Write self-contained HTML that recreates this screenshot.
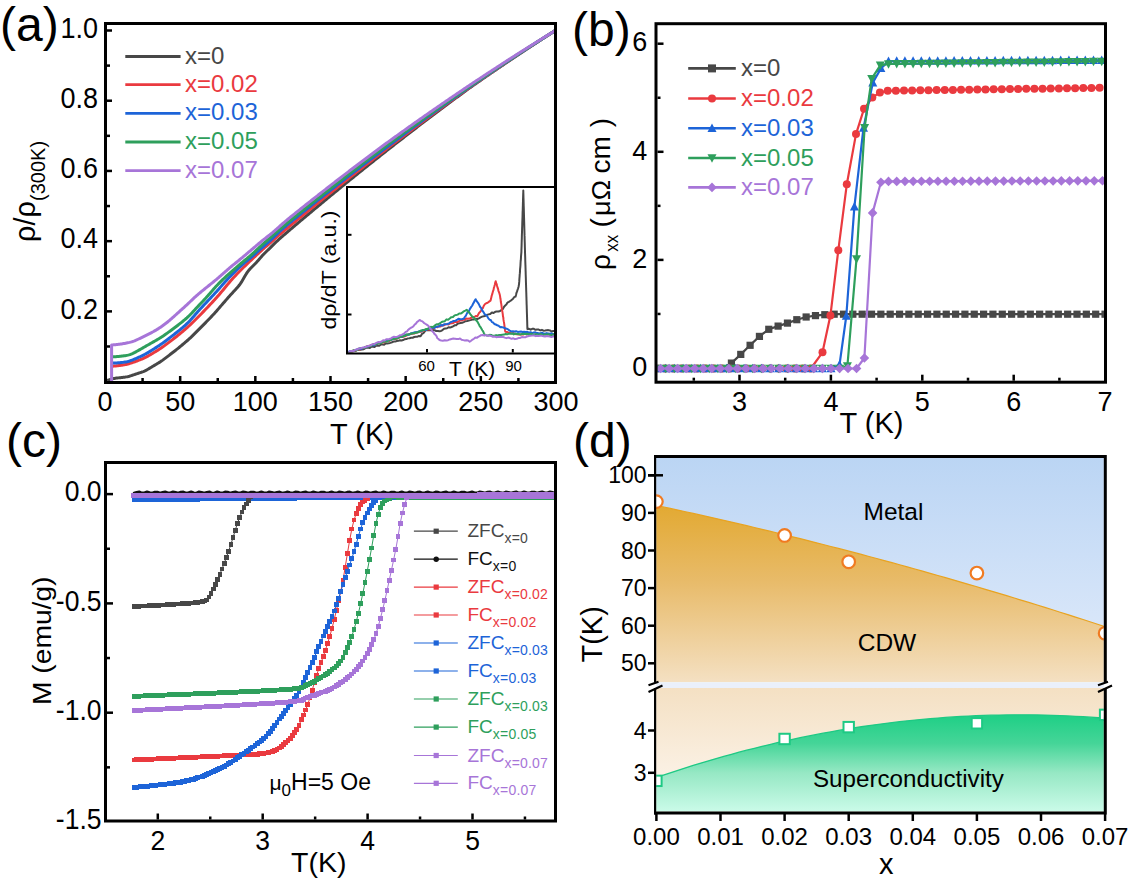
<!DOCTYPE html>
<html><head><meta charset="utf-8"><style>
html,body{margin:0;padding:0;background:#fff;}
svg{display:block;font-family:"Liberation Sans", sans-serif;}
</style></head><body>
<svg width="1138" height="882" viewBox="0 0 1138 882">
<rect width="1138" height="882" fill="#fff"/>
<defs><clipPath id="clipA"><rect x="107" y="25" width="447" height="356"/></clipPath></defs><g clip-path="url(#clipA)"><polyline points="108.4,379.91 109.4,379.69 110.4,379.41 111.4,379.12 112.4,378.84 113.4,378.59 114.4,378.4 115.4,378.24 116.4,378.11 117.4,377.99 118.4,377.87 119.4,377.75 120.4,377.64 121.4,377.52 122.4,377.41 123.4,377.29 124.4,377.17 125.4,377.04 126.4,376.88 127.4,376.69 128.4,376.46 129.4,376.19 130.4,375.89 131.4,375.58 132.4,375.25 133.4,374.92 134.4,374.59 135.4,374.26 136.4,373.93 137.4,373.6 138.4,373.28 139.4,372.95 140.4,372.61 141.4,372.28 142.4,371.92 143.4,371.54 144.4,371.12 145.4,370.65 146.4,370.12 147.4,369.56 148.4,368.97 149.4,368.38 150.4,367.78 151.4,367.18 152.4,366.58 153.4,365.98 154.4,365.38 155.4,364.78 156.4,364.18 157.4,363.58 158.4,362.97 159.4,362.36 160.4,361.73 161.4,361.07 162.4,360.38 163.4,359.65 164.4,358.91 165.4,358.14 166.4,357.38 167.4,356.61 168.4,355.84 169.4,355.07 170.4,354.3 171.4,353.53 172.4,352.75 173.4,351.98 174.4,351.21 175.4,350.44 176.4,349.66 177.4,348.88 178.4,348.08 179.4,347.27 180.4,346.44 181.4,345.6 182.4,344.75 183.4,343.91 184.4,343.06 185.4,342.21 186.4,341.35 187.4,340.49 188.4,339.62 189.4,338.73 190.4,337.81 191.4,336.86 192.4,335.88 193.4,334.89 194.4,333.9 195.4,332.9 196.4,331.9 197.4,330.9 198.4,329.9 199.4,328.9 200.4,327.9 201.4,326.9 202.4,325.9 203.4,324.89 204.4,323.87 205.4,322.85 206.4,321.82 207.4,320.79 208.4,319.75 209.4,318.71 210.4,317.66 211.4,316.62 212.4,315.56 213.4,314.49 214.4,313.4 215.4,312.29 216.4,311.15 217.4,310.01 218.4,308.86 219.4,307.7 220.4,306.55 221.4,305.39 222.4,304.23 223.4,303.08 224.4,301.92 225.4,300.77 226.4,299.61 227.4,298.47 228.4,297.33 229.4,296.21 230.4,295.1 231.4,294 232.4,292.9 233.4,291.81 234.4,290.73 235.4,289.64 236.4,288.54 237.4,287.43 238.4,286.27 239.4,285.03 240.4,283.66 241.4,282.16 242.4,280.52 243.4,278.8 244.4,277.05 245.4,275.31 246.4,273.66 247.4,272.15 248.4,270.81 249.4,269.63 250.4,268.54 251.4,267.51 252.4,266.5 253.4,265.5 254.4,264.49 255.4,263.47 256.4,262.42 257.4,261.33 258.4,260.21 259.4,259.05 260.4,257.87 261.4,256.71 262.4,255.57 263.4,254.49 264.4,253.45 265.4,252.46 266.4,251.49 267.4,250.53 268.4,249.58 269.4,248.64 270.4,247.65 271.4,246.61 272.4,245.6 273.4,244.59 274.4,243.61 275.4,242.65 276.4,241.71 277.4,240.78 278.4,239.86 279.4,238.96 280.4,238.06 281.4,237.18 282.4,236.31 283.4,235.45 284.4,234.6 285.4,233.76 286.4,232.9 287.4,232.03 288.4,231.17 289.4,230.3 290.4,229.45 291.4,228.6 292.4,227.75 293.4,226.9 294.4,226.05 295.4,225.2 296.4,224.35 297.4,223.51 298.4,222.66 299.4,221.82 300.4,220.97 301.4,220.13 302.4,219.29 303.4,218.44 304.4,217.6 305.4,216.76 306.4,215.92 307.4,215.08 308.4,214.24 309.4,213.41 310.4,212.57 311.4,211.73 312.4,210.89 313.4,210.06 314.4,209.22 315.4,208.39 316.4,207.56 317.4,206.73 318.4,205.89 319.4,205.06 320.4,204.23 321.4,203.4 322.4,202.57 323.4,201.74 324.4,200.92 325.4,200.09 326.4,199.26 327.4,198.44 328.4,197.61 329.4,196.79 330.4,195.96 331.4,195.14 332.4,194.32 333.4,193.5 334.4,192.68 335.4,191.86 336.4,191.04 337.4,190.22 338.4,189.4 339.4,188.58 340.4,187.77 341.4,186.95 342.4,186.13 343.4,185.32 344.4,184.51 345.4,183.69 346.4,182.88 347.4,182.07 348.4,181.26 349.4,180.45 350.4,179.64 351.4,178.83 352.4,178.02 353.4,177.21 354.4,176.4 355.4,175.6 356.4,174.79 357.4,173.99 358.4,173.18 359.4,172.38 360.4,171.57 361.4,170.77 362.4,169.97 363.4,169.17 364.4,168.37 365.4,167.57 366.4,166.77 367.4,165.97 368.4,165.18 369.4,164.38 370.4,163.58 371.4,162.79 372.4,161.99 373.4,161.2 374.4,160.4 375.4,159.61 376.4,158.82 377.4,158.03 378.4,157.24 379.4,156.45 380.4,155.66 381.4,154.87 382.4,154.08 383.4,153.3 384.4,152.51 385.4,151.72 386.4,150.94 387.4,150.15 388.4,149.37 389.4,148.58 390.4,147.8 391.4,147.02 392.4,146.24 393.4,145.46 394.4,144.68 395.4,143.9 396.4,143.12 397.4,142.34 398.4,141.57 399.4,140.79 400.4,140.01 401.4,139.24 402.4,138.46 403.4,137.69 404.4,136.92 405.4,136.14 406.4,135.37 407.4,134.6 408.4,133.83 409.4,133.06 410.4,132.29 411.4,131.52 412.4,130.76 413.4,129.99 414.4,129.22 415.4,128.46 416.4,127.69 417.4,126.93 418.4,126.17 419.4,125.4 420.4,124.64 421.4,123.88 422.4,123.12 423.4,122.36 424.4,121.6 425.4,120.84 426.4,120.08 427.4,119.33 428.4,118.57 429.4,117.81 430.4,117.06 431.4,116.3 432.4,115.55 433.4,114.8 434.4,114.04 435.4,113.29 436.4,112.54 437.4,111.79 438.4,111.04 439.4,110.29 440.4,109.54 441.4,108.8 442.4,108.05 443.4,107.3 444.4,106.56 445.4,105.81 446.4,105.07 447.4,104.33 448.4,103.58 449.4,102.84 450.4,102.1 451.4,101.36 452.4,100.62 453.4,99.88 454.4,99.14 455.4,98.4 456.4,97.66 457.4,96.93 458.4,96.19 459.4,95.46 460.4,94.72 461.4,93.99 462.4,93.26 463.4,92.52 464.4,91.79 465.4,91.06 466.4,90.33 467.4,89.6 468.4,88.87 469.4,88.14 470.4,87.43 471.4,86.73 472.4,86.03 473.4,85.33 474.4,84.63 475.4,83.94 476.4,83.24 477.4,82.55 478.4,81.85 479.4,81.16 480.4,80.47 481.4,79.78 482.4,79.08 483.4,78.39 484.4,77.7 485.4,77.01 486.4,76.33 487.4,75.64 488.4,74.95 489.4,74.26 490.4,73.58 491.4,72.89 492.4,72.21 493.4,71.53 494.4,70.84 495.4,70.16 496.4,69.48 497.4,68.8 498.4,68.12 499.4,67.44 500.4,66.76 501.4,66.08 502.4,65.4 503.4,64.73 504.4,64.05 505.4,63.37 506.4,62.7 507.4,62.02 508.4,61.35 509.4,60.68 510.4,60.01 511.4,59.33 512.4,58.66 513.4,57.99 514.4,57.32 515.4,56.66 516.4,55.99 517.4,55.32 518.4,54.65 519.4,53.99 520.4,53.32 521.4,52.66 522.4,52 523.4,51.33 524.4,50.67 525.4,50.01 526.4,49.35 527.4,48.69 528.4,48.03 529.4,47.37 530.4,46.71 531.4,46.05 532.4,45.39 533.4,44.74 534.4,44.08 535.4,43.43 536.4,42.77 537.4,42.12 538.4,41.47 539.4,40.82 540.4,40.16 541.4,39.51 542.4,38.86 543.4,38.21 544.4,37.56 545.4,36.92 546.4,36.27 547.4,35.62 548.4,34.98 549.4,34.33 550.4,33.69 551.4,33.04 552.4,32.4 553.4,31.76 554.4,31.12 555.4,30.73" fill="none" stroke="#474747" stroke-width="3" stroke-linejoin="round" stroke-linecap="round" /><polyline points="112.9,366.19 113.9,366.11 114.9,366.02 115.9,365.93 116.9,365.82 117.9,365.7 118.9,365.57 119.9,365.44 120.9,365.3 121.9,365.15 122.9,365 123.9,364.83 124.9,364.65 125.9,364.44 126.9,364.22 127.9,363.98 128.9,363.71 129.9,363.41 130.9,363.1 131.9,362.77 132.9,362.43 133.9,362.08 134.9,361.72 135.9,361.35 136.9,360.98 137.9,360.6 138.9,360.22 139.9,359.83 140.9,359.43 141.9,359.01 142.9,358.57 143.9,358.12 144.9,357.64 145.9,357.14 146.9,356.61 147.9,356.07 148.9,355.51 149.9,354.94 150.9,354.36 151.9,353.77 152.9,353.17 153.9,352.57 154.9,351.97 155.9,351.36 156.9,350.74 157.9,350.12 158.9,349.49 159.9,348.84 160.9,348.18 161.9,347.5 162.9,346.81 163.9,346.1 164.9,345.38 165.9,344.64 166.9,343.89 167.9,343.14 168.9,342.39 169.9,341.62 170.9,340.86 171.9,340.09 172.9,339.32 173.9,338.55 174.9,337.77 175.9,336.99 176.9,336.2 177.9,335.4 178.9,334.59 179.9,333.77 180.9,332.94 181.9,332.11 182.9,331.26 183.9,330.41 184.9,329.54 185.9,328.67 186.9,327.79 187.9,326.9 188.9,325.99 189.9,325.07 190.9,324.13 191.9,323.18 192.9,322.22 193.9,321.25 194.9,320.26 195.9,319.27 196.9,318.27 197.9,317.27 198.9,316.25 199.9,315.23 200.9,314.21 201.9,313.18 202.9,312.15 203.9,311.11 204.9,310.06 205.9,309.02 206.9,307.97 207.9,306.92 208.9,305.86 209.9,304.81 210.9,303.75 211.9,302.68 212.9,301.62 213.9,300.54 214.9,299.45 215.9,298.34 216.9,297.23 217.9,296.09 218.9,294.93 219.9,293.76 220.9,292.58 221.9,291.38 222.9,290.17 223.9,288.95 224.9,287.74 225.9,286.52 226.9,285.3 227.9,284.1 228.9,282.91 229.9,281.73 230.9,280.57 231.9,279.43 232.9,278.31 233.9,277.22 234.9,276.15 235.9,275.1 236.9,274.06 237.9,273.04 238.9,272.02 239.9,271.02 240.9,270.02 241.9,269.02 242.9,268.03 243.9,267.05 244.9,266.07 245.9,265.1 246.9,264.13 247.9,263.18 248.9,262.22 249.9,261.27 250.9,260.33 251.9,259.39 252.9,258.45 253.9,257.51 254.9,256.58 255.9,255.65 256.9,254.71 257.9,253.79 258.9,252.86 259.9,251.95 260.9,251.03 261.9,250.13 262.9,249.24 263.9,248.35 264.9,247.48 265.9,246.61 266.9,245.75 267.9,244.89 268.9,244.04 269.9,243.19 270.9,242.3 271.9,241.4 272.9,240.51 273.9,239.62 274.9,238.73 275.9,237.85 276.9,236.98 277.9,236.11 278.9,235.24 279.9,234.38 280.9,233.52 281.9,232.67 282.9,231.83 283.9,230.99 284.9,230.16 285.9,229.34 286.9,228.49 287.9,227.65 288.9,226.81 289.9,225.96 290.9,225.13 291.9,224.3 292.9,223.47 293.9,222.65 294.9,221.82 295.9,220.99 296.9,220.17 297.9,219.34 298.9,218.52 299.9,217.7 300.9,216.87 301.9,216.05 302.9,215.23 303.9,214.41 304.9,213.59 305.9,212.77 306.9,211.95 307.9,211.13 308.9,210.32 309.9,209.5 310.9,208.68 311.9,207.87 312.9,207.05 313.9,206.24 314.9,205.43 315.9,204.61 316.9,203.8 317.9,202.99 318.9,202.18 319.9,201.37 320.9,200.56 321.9,199.75 322.9,198.95 323.9,198.14 324.9,197.33 325.9,196.53 326.9,195.72 327.9,194.92 328.9,194.12 329.9,193.31 330.9,192.51 331.9,191.71 332.9,190.91 333.9,190.11 334.9,189.31 335.9,188.51 336.9,187.71 337.9,186.91 338.9,186.12 339.9,185.32 340.9,184.53 341.9,183.73 342.9,182.94 343.9,182.15 344.9,181.35 345.9,180.56 346.9,179.77 347.9,178.98 348.9,178.19 349.9,177.4 350.9,176.61 351.9,175.82 352.9,175.04 353.9,174.25 354.9,173.47 355.9,172.68 356.9,171.9 357.9,171.11 358.9,170.33 359.9,169.55 360.9,168.77 361.9,167.99 362.9,167.21 363.9,166.43 364.9,165.65 365.9,164.87 366.9,164.09 367.9,163.32 368.9,162.54 369.9,161.76 370.9,160.99 371.9,160.22 372.9,159.44 373.9,158.67 374.9,157.9 375.9,157.13 376.9,156.36 377.9,155.59 378.9,154.82 379.9,154.05 380.9,153.28 381.9,152.51 382.9,151.75 383.9,150.98 384.9,150.22 385.9,149.45 386.9,148.68 387.9,147.91 388.9,147.14 389.9,146.38 390.9,145.61 391.9,144.85 392.9,144.08 393.9,143.32 394.9,142.55 395.9,141.79 396.9,141.03 397.9,140.27 398.9,139.51 399.9,138.75 400.9,137.99 401.9,137.23 402.9,136.47 403.9,135.72 404.9,134.96 405.9,134.2 406.9,133.45 407.9,132.7 408.9,131.94 409.9,131.19 410.9,130.44 411.9,129.69 412.9,128.93 413.9,128.18 414.9,127.44 415.9,126.69 416.9,125.94 417.9,125.19 418.9,124.44 419.9,123.7 420.9,122.95 421.9,122.21 422.9,121.46 423.9,120.72 424.9,119.98 425.9,119.24 426.9,118.5 427.9,117.76 428.9,117.02 429.9,116.28 430.9,115.54 431.9,114.8 432.9,114.06 433.9,113.33 434.9,112.59 435.9,111.86 436.9,111.12 437.9,110.39 438.9,109.66 439.9,108.92 440.9,108.19 441.9,107.46 442.9,106.73 443.9,106 444.9,105.27 445.9,104.54 446.9,103.82 447.9,103.09 448.9,102.36 449.9,101.64 450.9,100.91 451.9,100.19 452.9,99.47 453.9,98.74 454.9,98.02 455.9,97.3 456.9,96.58 457.9,95.86 458.9,95.14 459.9,94.42 460.9,93.71 461.9,92.99 462.9,92.27 463.9,91.56 464.9,90.84 465.9,90.13 466.9,89.41 467.9,88.7 468.9,87.99 469.9,87.28 470.9,86.58 471.9,85.89 472.9,85.2 473.9,84.51 474.9,83.81 475.9,83.12 476.9,82.44 477.9,81.75 478.9,81.06 479.9,80.37 480.9,79.69 481.9,79 482.9,78.31 483.9,77.63 484.9,76.95 485.9,76.26 486.9,75.58 487.9,74.9 488.9,74.22 489.9,73.54 490.9,72.86 491.9,72.18 492.9,71.5 493.9,70.82 494.9,70.15 495.9,69.47 496.9,68.8 497.9,68.12 498.9,67.45 499.9,66.77 500.9,66.1 501.9,65.43 502.9,64.76 503.9,64.09 504.9,63.42 505.9,62.75 506.9,62.08 507.9,61.41 508.9,60.74 509.9,60.08 510.9,59.41 511.9,58.75 512.9,58.08 513.9,57.42 514.9,56.75 515.9,56.09 516.9,55.43 517.9,54.77 518.9,54.11 519.9,53.45 520.9,52.79 521.9,52.13 522.9,51.47 523.9,50.82 524.9,50.16 525.9,49.51 526.9,48.85 527.9,48.2 528.9,47.54 529.9,46.89 530.9,46.24 531.9,45.59 532.9,44.94 533.9,44.29 534.9,43.64 535.9,42.99 536.9,42.34 537.9,41.69 538.9,41.05 539.9,40.4 540.9,39.76 541.9,39.11 542.9,38.47 543.9,37.82 544.9,37.18 545.9,36.54 546.9,35.9 547.9,35.26 548.9,34.62 549.9,33.98 550.9,33.34 551.9,32.7 552.9,32.07 553.9,31.43 554.9,30.79" fill="none" stroke="#ea3a3f" stroke-width="3" stroke-linejoin="round" stroke-linecap="round" /><polyline points="112.9,363.08 113.9,363.04 114.9,362.99 115.9,362.94 116.9,362.88 117.9,362.81 118.9,362.74 119.9,362.66 120.9,362.58 121.9,362.49 122.9,362.38 123.9,362.25 124.9,362.1 125.9,361.93 126.9,361.72 127.9,361.48 128.9,361.2 129.9,360.88 130.9,360.54 131.9,360.17 132.9,359.77 133.9,359.37 134.9,358.95 135.9,358.52 136.9,358.08 137.9,357.65 138.9,357.2 139.9,356.75 140.9,356.28 141.9,355.81 142.9,355.32 143.9,354.81 144.9,354.29 145.9,353.74 146.9,353.18 147.9,352.59 148.9,352 149.9,351.39 150.9,350.78 151.9,350.16 152.9,349.53 153.9,348.9 154.9,348.27 155.9,347.63 156.9,346.99 157.9,346.34 158.9,345.68 159.9,345.01 160.9,344.33 161.9,343.64 162.9,342.93 163.9,342.2 164.9,341.47 165.9,340.72 166.9,339.97 167.9,339.21 168.9,338.44 169.9,337.68 170.9,336.91 171.9,336.13 172.9,335.36 173.9,334.58 174.9,333.8 175.9,333.01 176.9,332.22 177.9,331.42 178.9,330.61 179.9,329.79 180.9,328.97 181.9,328.13 182.9,327.28 183.9,326.42 184.9,325.53 185.9,324.63 186.9,323.69 187.9,322.72 188.9,321.71 189.9,320.66 190.9,319.57 191.9,318.45 192.9,317.31 193.9,316.15 194.9,314.99 195.9,313.83 196.9,312.69 197.9,311.56 198.9,310.45 199.9,309.36 200.9,308.27 201.9,307.19 202.9,306.12 203.9,305.06 204.9,304 205.9,302.94 206.9,301.88 207.9,300.82 208.9,299.77 209.9,298.71 210.9,297.65 211.9,296.59 212.9,295.52 213.9,294.45 214.9,293.36 215.9,292.27 216.9,291.16 217.9,290.04 218.9,288.91 219.9,287.77 220.9,286.62 221.9,285.48 222.9,284.33 223.9,283.2 224.9,282.07 225.9,280.97 226.9,279.87 227.9,278.8 228.9,277.74 229.9,276.7 230.9,275.66 231.9,274.64 232.9,273.62 233.9,272.61 234.9,271.61 235.9,270.62 236.9,269.64 237.9,268.67 238.9,267.73 239.9,266.8 240.9,265.9 241.9,265.01 242.9,264.15 243.9,263.3 244.9,262.46 245.9,261.64 246.9,260.82 247.9,259.99 248.9,259.17 249.9,258.34 250.9,257.5 251.9,256.65 252.9,255.78 253.9,254.91 254.9,254.03 255.9,253.14 256.9,252.25 257.9,251.35 258.9,250.45 259.9,249.56 260.9,248.66 261.9,247.78 262.9,246.9 263.9,246.02 264.9,245.16 265.9,244.29 266.9,243.43 267.9,242.58 268.9,241.72 269.9,240.86 270.9,239.91 271.9,238.94 272.9,237.97 273.9,237 274.9,236.03 275.9,235.06 276.9,234.1 277.9,233.14 278.9,232.2 279.9,231.27 280.9,230.35 281.9,229.45 282.9,228.57 283.9,227.7 284.9,226.85 285.9,226.01 286.9,225.17 287.9,224.33 288.9,223.48 289.9,222.64 290.9,221.82 291.9,221.01 292.9,220.2 293.9,219.39 294.9,218.58 295.9,217.77 296.9,216.96 297.9,216.15 298.9,215.35 299.9,214.54 300.9,213.73 301.9,212.93 302.9,212.12 303.9,211.32 304.9,210.52 305.9,209.72 306.9,208.91 307.9,208.11 308.9,207.31 309.9,206.51 310.9,205.72 311.9,204.92 312.9,204.12 313.9,203.32 314.9,202.53 315.9,201.73 316.9,200.94 317.9,200.14 318.9,199.35 319.9,198.56 320.9,197.77 321.9,196.98 322.9,196.18 323.9,195.39 324.9,194.61 325.9,193.82 326.9,193.03 327.9,192.24 328.9,191.46 329.9,190.67 330.9,189.89 331.9,189.1 332.9,188.32 333.9,187.53 334.9,186.75 335.9,185.97 336.9,185.19 337.9,184.41 338.9,183.63 339.9,182.85 340.9,182.07 341.9,181.3 342.9,180.52 343.9,179.74 344.9,178.97 345.9,178.19 346.9,177.42 347.9,176.65 348.9,175.87 349.9,175.1 350.9,174.33 351.9,173.56 352.9,172.79 353.9,172.02 354.9,171.25 355.9,170.49 356.9,169.72 357.9,168.95 358.9,168.19 359.9,167.42 360.9,166.66 361.9,165.89 362.9,165.13 363.9,164.37 364.9,163.61 365.9,162.85 366.9,162.09 367.9,161.33 368.9,160.57 369.9,159.81 370.9,159.05 371.9,158.29 372.9,157.54 373.9,156.78 374.9,156.03 375.9,155.27 376.9,154.52 377.9,153.77 378.9,153.02 379.9,152.27 380.9,151.51 381.9,150.76 382.9,150.02 383.9,149.27 384.9,148.52 385.9,147.76 386.9,147.01 387.9,146.25 388.9,145.5 389.9,144.75 390.9,144 391.9,143.25 392.9,142.5 393.9,141.75 394.9,141 395.9,140.25 396.9,139.5 397.9,138.75 398.9,138.01 399.9,137.26 400.9,136.52 401.9,135.77 402.9,135.03 403.9,134.29 404.9,133.54 405.9,132.8 406.9,132.06 407.9,131.32 408.9,130.58 409.9,129.84 410.9,129.1 411.9,128.37 412.9,127.63 413.9,126.89 414.9,126.16 415.9,125.42 416.9,124.69 417.9,123.96 418.9,123.22 419.9,122.49 420.9,121.76 421.9,121.03 422.9,120.3 423.9,119.57 424.9,118.84 425.9,118.12 426.9,117.39 427.9,116.66 428.9,115.94 429.9,115.21 430.9,114.49 431.9,113.76 432.9,113.04 433.9,112.32 434.9,111.6 435.9,110.88 436.9,110.16 437.9,109.44 438.9,108.72 439.9,108 440.9,107.28 441.9,106.57 442.9,105.85 443.9,105.13 444.9,104.42 445.9,103.71 446.9,102.99 447.9,102.28 448.9,101.57 449.9,100.86 450.9,100.15 451.9,99.44 452.9,98.73 453.9,98.02 454.9,97.31 455.9,96.6 456.9,95.9 457.9,95.19 458.9,94.49 459.9,93.78 460.9,93.08 461.9,92.37 462.9,91.67 463.9,90.97 464.9,90.27 465.9,89.57 466.9,88.87 467.9,88.17 468.9,87.47 469.9,86.78 470.9,86.09 471.9,85.4 472.9,84.71 473.9,84.03 474.9,83.34 475.9,82.66 476.9,81.98 477.9,81.29 478.9,80.61 479.9,79.93 480.9,79.25 481.9,78.57 482.9,77.89 483.9,77.21 484.9,76.53 485.9,75.86 486.9,75.18 487.9,74.5 488.9,73.83 489.9,73.16 490.9,72.48 491.9,71.81 492.9,71.14 493.9,70.46 494.9,69.79 495.9,69.12 496.9,68.45 497.9,67.78 498.9,67.12 499.9,66.45 500.9,65.78 501.9,65.12 502.9,64.45 503.9,63.79 504.9,63.12 505.9,62.46 506.9,61.8 507.9,61.13 508.9,60.47 509.9,59.81 510.9,59.15 511.9,58.49 512.9,57.83 513.9,57.18 514.9,56.52 515.9,55.86 516.9,55.21 517.9,54.55 518.9,53.9 519.9,53.24 520.9,52.59 521.9,51.94 522.9,51.29 523.9,50.63 524.9,49.98 525.9,49.33 526.9,48.69 527.9,48.04 528.9,47.39 529.9,46.74 530.9,46.1 531.9,45.45 532.9,44.81 533.9,44.16 534.9,43.52 535.9,42.88 536.9,42.23 537.9,41.59 538.9,40.95 539.9,40.31 540.9,39.67 541.9,39.03 542.9,38.4 543.9,37.76 544.9,37.12 545.9,36.49 546.9,35.85 547.9,35.22 548.9,34.58 549.9,33.95 550.9,33.32 551.9,32.69 552.9,32.05 553.9,31.42 554.9,30.79" fill="none" stroke="#1d64d8" stroke-width="3" stroke-linejoin="round" stroke-linecap="round" /><polyline points="112.9,356.84 113.9,356.79 114.9,356.72 115.9,356.65 116.9,356.57 117.9,356.48 118.9,356.39 119.9,356.3 120.9,356.2 121.9,356.09 122.9,355.98 123.9,355.86 124.9,355.72 125.9,355.56 126.9,355.37 127.9,355.15 128.9,354.89 129.9,354.58 130.9,354.22 131.9,353.81 132.9,353.37 133.9,352.88 134.9,352.37 135.9,351.83 136.9,351.28 137.9,350.72 138.9,350.15 139.9,349.58 140.9,349 141.9,348.43 142.9,347.85 143.9,347.28 144.9,346.71 145.9,346.14 146.9,345.57 147.9,345 148.9,344.43 149.9,343.87 150.9,343.3 151.9,342.73 152.9,342.17 153.9,341.6 154.9,341.03 155.9,340.45 156.9,339.87 157.9,339.28 158.9,338.69 159.9,338.07 160.9,337.44 161.9,336.8 162.9,336.14 163.9,335.46 164.9,334.77 165.9,334.06 166.9,333.35 167.9,332.62 168.9,331.9 169.9,331.17 170.9,330.43 171.9,329.69 172.9,328.96 173.9,328.21 174.9,327.47 175.9,326.72 176.9,325.96 177.9,325.2 178.9,324.43 179.9,323.66 180.9,322.87 181.9,322.08 182.9,321.27 183.9,320.45 184.9,319.62 185.9,318.76 186.9,317.88 187.9,316.96 188.9,316.01 189.9,315.03 190.9,314.01 191.9,312.96 192.9,311.88 193.9,310.8 194.9,309.7 195.9,308.61 196.9,307.53 197.9,306.46 198.9,305.4 199.9,304.34 200.9,303.3 201.9,302.25 202.9,301.19 203.9,300.13 204.9,299.05 205.9,297.96 206.9,296.86 207.9,295.73 208.9,294.59 209.9,293.44 210.9,292.29 211.9,291.13 212.9,289.97 213.9,288.82 214.9,287.68 215.9,286.56 216.9,285.47 217.9,284.4 218.9,283.35 219.9,282.33 220.9,281.34 221.9,280.36 222.9,279.41 223.9,278.47 224.9,277.54 225.9,276.63 226.9,275.72 227.9,274.82 228.9,273.93 229.9,273.04 230.9,272.15 231.9,271.27 232.9,270.39 233.9,269.52 234.9,268.64 235.9,267.77 236.9,266.9 237.9,266.04 238.9,265.19 239.9,264.34 240.9,263.5 241.9,262.66 242.9,261.83 243.9,261.01 244.9,260.18 245.9,259.36 246.9,258.54 247.9,257.71 248.9,256.87 249.9,256.02 250.9,255.16 251.9,254.29 252.9,253.39 253.9,252.49 254.9,251.57 255.9,250.65 256.9,249.72 257.9,248.78 258.9,247.85 259.9,246.91 260.9,245.99 261.9,245.07 262.9,244.17 263.9,243.28 264.9,242.39 265.9,241.52 266.9,240.65 267.9,239.8 268.9,238.94 269.9,238.09 270.9,237.19 271.9,236.29 272.9,235.39 273.9,234.5 274.9,233.61 275.9,232.72 276.9,231.84 277.9,230.97 278.9,230.1 279.9,229.23 280.9,228.37 281.9,227.52 282.9,226.68 283.9,225.84 284.9,225.01 285.9,224.18 286.9,223.35 287.9,222.51 288.9,221.68 289.9,220.84 290.9,220.03 291.9,219.21 292.9,218.4 293.9,217.6 294.9,216.79 295.9,215.98 296.9,215.17 297.9,214.36 298.9,213.56 299.9,212.75 300.9,211.95 301.9,211.15 302.9,210.34 303.9,209.54 304.9,208.74 305.9,207.94 306.9,207.14 307.9,206.34 308.9,205.54 309.9,204.74 310.9,203.94 311.9,203.14 312.9,202.35 313.9,201.55 314.9,200.76 315.9,199.96 316.9,199.17 317.9,198.38 318.9,197.58 319.9,196.79 320.9,196 321.9,195.21 322.9,194.42 323.9,193.63 324.9,192.85 325.9,192.06 326.9,191.27 327.9,190.49 328.9,189.7 329.9,188.92 330.9,188.13 331.9,187.35 332.9,186.57 333.9,185.78 334.9,185 335.9,184.22 336.9,183.44 337.9,182.66 338.9,181.88 339.9,181.11 340.9,180.33 341.9,179.55 342.9,178.78 343.9,178 344.9,177.23 345.9,176.45 346.9,175.68 347.9,174.91 348.9,174.14 349.9,173.37 350.9,172.6 351.9,171.83 352.9,171.06 353.9,170.29 354.9,169.52 355.9,168.76 356.9,167.99 357.9,167.22 358.9,166.46 359.9,165.7 360.9,164.93 361.9,164.17 362.9,163.41 363.9,162.65 364.9,161.89 365.9,161.13 366.9,160.37 367.9,159.61 368.9,158.85 369.9,158.09 370.9,157.34 371.9,156.58 372.9,155.83 373.9,155.07 374.9,154.32 375.9,153.57 376.9,152.81 377.9,152.06 378.9,151.31 379.9,150.56 380.9,149.81 381.9,149.06 382.9,148.31 383.9,147.57 384.9,146.82 385.9,146.08 386.9,145.34 387.9,144.6 388.9,143.86 389.9,143.12 390.9,142.38 391.9,141.65 392.9,140.91 393.9,140.17 394.9,139.44 395.9,138.7 396.9,137.97 397.9,137.24 398.9,136.51 399.9,135.77 400.9,135.04 401.9,134.31 402.9,133.58 403.9,132.85 404.9,132.13 405.9,131.4 406.9,130.67 407.9,129.95 408.9,129.22 409.9,128.5 410.9,127.77 411.9,127.05 412.9,126.33 413.9,125.6 414.9,124.88 415.9,124.16 416.9,123.44 417.9,122.72 418.9,122.01 419.9,121.29 420.9,120.57 421.9,119.85 422.9,119.14 423.9,118.42 424.9,117.71 425.9,116.99 426.9,116.28 427.9,115.57 428.9,114.86 429.9,114.15 430.9,113.44 431.9,112.73 432.9,112.02 433.9,111.31 434.9,110.6 435.9,109.9 436.9,109.19 437.9,108.48 438.9,107.78 439.9,107.08 440.9,106.37 441.9,105.67 442.9,104.97 443.9,104.27 444.9,103.57 445.9,102.87 446.9,102.17 447.9,101.47 448.9,100.77 449.9,100.07 450.9,99.38 451.9,98.68 452.9,97.99 453.9,97.29 454.9,96.6 455.9,95.9 456.9,95.21 457.9,94.52 458.9,93.83 459.9,93.14 460.9,92.45 461.9,91.76 462.9,91.07 463.9,90.38 464.9,89.7 465.9,89.01 466.9,88.33 467.9,87.64 468.9,86.96 469.9,86.27 470.9,85.59 471.9,84.91 472.9,84.23 473.9,83.55 474.9,82.87 475.9,82.19 476.9,81.52 477.9,80.84 478.9,80.16 479.9,79.49 480.9,78.81 481.9,78.14 482.9,77.47 483.9,76.79 484.9,76.12 485.9,75.45 486.9,74.78 487.9,74.11 488.9,73.44 489.9,72.77 490.9,72.1 491.9,71.44 492.9,70.77 493.9,70.11 494.9,69.44 495.9,68.78 496.9,68.11 497.9,67.45 498.9,66.79 499.9,66.12 500.9,65.46 501.9,64.8 502.9,64.14 503.9,63.49 504.9,62.83 505.9,62.17 506.9,61.51 507.9,60.86 508.9,60.2 509.9,59.55 510.9,58.89 511.9,58.24 512.9,57.59 513.9,56.93 514.9,56.28 515.9,55.63 516.9,54.98 517.9,54.33 518.9,53.68 519.9,53.04 520.9,52.39 521.9,51.74 522.9,51.1 523.9,50.45 524.9,49.81 525.9,49.16 526.9,48.52 527.9,47.88 528.9,47.24 529.9,46.6 530.9,45.95 531.9,45.32 532.9,44.68 533.9,44.04 534.9,43.4 535.9,42.76 536.9,42.13 537.9,41.49 538.9,40.86 539.9,40.22 540.9,39.59 541.9,38.96 542.9,38.32 543.9,37.69 544.9,37.06 545.9,36.43 546.9,35.8 547.9,35.17 548.9,34.55 549.9,33.92 550.9,33.29 551.9,32.67 552.9,32.04 553.9,31.42 554.9,30.79" fill="none" stroke="#2e9f5c" stroke-width="3" stroke-linejoin="round" stroke-linecap="round" /><polyline points="111.6,381.5 111.6,344.95 112.6,344.9 113.6,344.82 114.6,344.74 115.6,344.65 116.6,344.55 117.6,344.44 118.6,344.33 119.6,344.2 120.6,344.07 121.6,343.93 122.6,343.77 123.6,343.6 124.6,343.42 125.6,343.24 126.6,343.04 127.6,342.83 128.6,342.61 129.6,342.38 130.6,342.12 131.6,341.84 132.6,341.53 133.6,341.18 134.6,340.8 135.6,340.39 136.6,339.96 137.6,339.5 138.6,339.02 139.6,338.54 140.6,338.05 141.6,337.55 142.6,337.05 143.6,336.55 144.6,336.06 145.6,335.56 146.6,335.06 147.6,334.56 148.6,334.06 149.6,333.56 150.6,333.06 151.6,332.55 152.6,332.02 153.6,331.49 154.6,330.93 155.6,330.35 156.6,329.75 157.6,329.13 158.6,328.48 159.6,327.82 160.6,327.14 161.6,326.44 162.6,325.74 163.6,325.02 164.6,324.28 165.6,323.53 166.6,322.76 167.6,321.96 168.6,321.14 169.6,320.3 170.6,319.44 171.6,318.57 172.6,317.69 173.6,316.79 174.6,315.9 175.6,315 176.6,314.1 177.6,313.19 178.6,312.29 179.6,311.39 180.6,310.48 181.6,309.58 182.6,308.68 183.6,307.77 184.6,306.86 185.6,305.95 186.6,305.03 187.6,304.1 188.6,303.16 189.6,302.22 190.6,301.26 191.6,300.3 192.6,299.35 193.6,298.4 194.6,297.47 195.6,296.55 196.6,295.66 197.6,294.78 198.6,293.93 199.6,293.09 200.6,292.26 201.6,291.44 202.6,290.62 203.6,289.81 204.6,289 205.6,288.19 206.6,287.38 207.6,286.58 208.6,285.77 209.6,284.97 210.6,284.17 211.6,283.37 212.6,282.56 213.6,281.75 214.6,280.94 215.6,280.12 216.6,279.28 217.6,278.44 218.6,277.59 219.6,276.72 220.6,275.84 221.6,274.96 222.6,274.07 223.6,273.18 224.6,272.29 225.6,271.4 226.6,270.52 227.6,269.65 228.6,268.79 229.6,267.94 230.6,267.1 231.6,266.27 232.6,265.45 233.6,264.64 234.6,263.83 235.6,263.03 236.6,262.22 237.6,261.41 238.6,260.6 239.6,259.79 240.6,258.96 241.6,258.14 242.6,257.3 243.6,256.46 244.6,255.62 245.6,254.78 246.6,253.93 247.6,253.08 248.6,252.23 249.6,251.38 250.6,250.53 251.6,249.68 252.6,248.84 253.6,247.99 254.6,247.14 255.6,246.29 256.6,245.44 257.6,244.6 258.6,243.75 259.6,242.92 260.6,242.09 261.6,241.27 262.6,240.45 263.6,239.65 264.6,238.86 265.6,238.08 266.6,237.31 267.6,236.54 268.6,235.77 269.6,235.01 270.6,234.21 271.6,233.38 272.6,232.53 273.6,231.68 274.6,230.81 275.6,229.93 276.6,229.05 277.6,228.16 278.6,227.27 279.6,226.38 280.6,225.5 281.6,224.62 282.6,223.75 283.6,222.89 284.6,222.03 285.6,221.19 286.6,220.35 287.6,219.52 288.6,218.68 289.6,217.83 290.6,217.01 291.6,216.21 292.6,215.4 293.6,214.6 294.6,213.8 295.6,213 296.6,212.2 297.6,211.4 298.6,210.6 299.6,209.81 300.6,209.01 301.6,208.21 302.6,207.42 303.6,206.62 304.6,205.83 305.6,205.04 306.6,204.24 307.6,203.45 308.6,202.66 309.6,201.87 310.6,201.08 311.6,200.29 312.6,199.5 313.6,198.72 314.6,197.93 315.6,197.14 316.6,196.36 317.6,195.57 318.6,194.79 319.6,194 320.6,193.22 321.6,192.44 322.6,191.66 323.6,190.88 324.6,190.1 325.6,189.32 326.6,188.54 327.6,187.76 328.6,186.98 329.6,186.21 330.6,185.43 331.6,184.65 332.6,183.88 333.6,183.1 334.6,182.33 335.6,181.56 336.6,180.79 337.6,180.02 338.6,179.25 339.6,178.48 340.6,177.71 341.6,176.94 342.6,176.17 343.6,175.4 344.6,174.64 345.6,173.87 346.6,173.11 347.6,172.34 348.6,171.58 349.6,170.81 350.6,170.05 351.6,169.29 352.6,168.53 353.6,167.77 354.6,167.01 355.6,166.25 356.6,165.49 357.6,164.73 358.6,163.98 359.6,163.22 360.6,162.47 361.6,161.71 362.6,160.96 363.6,160.2 364.6,159.45 365.6,158.7 366.6,157.95 367.6,157.2 368.6,156.45 369.6,155.7 370.6,154.95 371.6,154.2 372.6,153.45 373.6,152.71 374.6,151.96 375.6,151.22 376.6,150.47 377.6,149.73 378.6,148.99 379.6,148.24 380.6,147.5 381.6,146.76 382.6,146.02 383.6,145.28 384.6,144.54 385.6,143.81 386.6,143.09 387.6,142.36 388.6,141.64 389.6,140.92 390.6,140.19 391.6,139.47 392.6,138.75 393.6,138.03 394.6,137.31 395.6,136.59 396.6,135.87 397.6,135.15 398.6,134.44 399.6,133.72 400.6,133 401.6,132.29 402.6,131.57 403.6,130.86 404.6,130.15 405.6,129.43 406.6,128.72 407.6,128.01 408.6,127.3 409.6,126.59 410.6,125.88 411.6,125.17 412.6,124.47 413.6,123.76 414.6,123.05 415.6,122.35 416.6,121.64 417.6,120.94 418.6,120.24 419.6,119.53 420.6,118.83 421.6,118.13 422.6,117.43 423.6,116.73 424.6,116.03 425.6,115.33 426.6,114.63 427.6,113.94 428.6,113.24 429.6,112.54 430.6,111.85 431.6,111.15 432.6,110.46 433.6,109.77 434.6,109.07 435.6,108.38 436.6,107.69 437.6,107 438.6,106.31 439.6,105.62 440.6,104.93 441.6,104.25 442.6,103.56 443.6,102.87 444.6,102.19 445.6,101.5 446.6,100.82 447.6,100.14 448.6,99.45 449.6,98.77 450.6,98.09 451.6,97.41 452.6,96.73 453.6,96.05 454.6,95.37 455.6,94.69 456.6,94.02 457.6,93.34 458.6,92.66 459.6,91.99 460.6,91.31 461.6,90.64 462.6,89.97 463.6,89.29 464.6,88.62 465.6,87.95 466.6,87.28 467.6,86.61 468.6,85.94 469.6,85.27 470.6,84.6 471.6,83.94 472.6,83.27 473.6,82.61 474.6,81.94 475.6,81.28 476.6,80.61 477.6,79.95 478.6,79.29 479.6,78.63 480.6,77.97 481.6,77.31 482.6,76.65 483.6,75.99 484.6,75.33 485.6,74.67 486.6,74.02 487.6,73.36 488.6,72.7 489.6,72.05 490.6,71.4 491.6,70.74 492.6,70.09 493.6,69.44 494.6,68.79 495.6,68.14 496.6,67.49 497.6,66.84 498.6,66.19 499.6,65.54 500.6,64.89 501.6,64.25 502.6,63.6 503.6,62.96 504.6,62.31 505.6,61.67 506.6,61.03 507.6,60.38 508.6,59.74 509.6,59.1 510.6,58.46 511.6,57.82 512.6,57.18 513.6,56.55 514.6,55.91 515.6,55.27 516.6,54.63 517.6,54 518.6,53.36 519.6,52.73 520.6,52.1 521.6,51.47 522.6,50.83 523.6,50.2 524.6,49.57 525.6,48.94 526.6,48.31 527.6,47.68 528.6,47.06 529.6,46.43 530.6,45.8 531.6,45.18 532.6,44.55 533.6,43.93 534.6,43.3 535.6,42.68 536.6,42.06 537.6,41.44 538.6,40.82 539.6,40.2 540.6,39.58 541.6,38.96 542.6,38.34 543.6,37.72 544.6,37.1 545.6,36.49 546.6,35.87 547.6,35.26 548.6,34.64 549.6,34.03 550.6,33.42 551.6,32.81 552.6,32.2 553.6,31.58 554.6,30.97" fill="none" stroke="#a775d8" stroke-width="3" stroke-linejoin="round" stroke-linecap="round" /></g><rect x="105.5" y="23.5" width="450" height="359" fill="none" stroke="#000" stroke-width="3" /><line x1="107" y1="346.49" x2="110" y2="346.49" stroke="#000" stroke-width="2.5" /><line x1="107" y1="311.38" x2="112" y2="311.38" stroke="#000" stroke-width="2.5" /><text transform="translate(98,318.68) scale(1,1.06)" font-size="27" text-anchor="end" fill="#000" >0.2</text><line x1="107" y1="276.27" x2="110" y2="276.27" stroke="#000" stroke-width="2.5" /><line x1="107" y1="241.16" x2="112" y2="241.16" stroke="#000" stroke-width="2.5" /><text transform="translate(98,248.46) scale(1,1.06)" font-size="27" text-anchor="end" fill="#000" >0.4</text><line x1="107" y1="206.05" x2="110" y2="206.05" stroke="#000" stroke-width="2.5" /><line x1="107" y1="170.94" x2="112" y2="170.94" stroke="#000" stroke-width="2.5" /><text transform="translate(98,178.24) scale(1,1.06)" font-size="27" text-anchor="end" fill="#000" >0.6</text><line x1="107" y1="135.83" x2="110" y2="135.83" stroke="#000" stroke-width="2.5" /><line x1="107" y1="100.72" x2="112" y2="100.72" stroke="#000" stroke-width="2.5" /><text transform="translate(98,108.02) scale(1,1.06)" font-size="27" text-anchor="end" fill="#000" >0.8</text><line x1="107" y1="65.61" x2="110" y2="65.61" stroke="#000" stroke-width="2.5" /><line x1="107" y1="30.5" x2="112" y2="30.5" stroke="#000" stroke-width="2.5" /><text transform="translate(98,37.8) scale(1,1.06)" font-size="27" text-anchor="end" fill="#000" >1.0</text><text transform="translate(105,410.5) scale(1,1.05)" font-size="27" text-anchor="middle" fill="#000" >0</text><line x1="142.58" y1="381" x2="142.58" y2="378" stroke="#000" stroke-width="2.5" /><line x1="180.17" y1="381" x2="180.17" y2="376" stroke="#000" stroke-width="2.5" /><text transform="translate(180.17,410.5) scale(1,1.05)" font-size="27" text-anchor="middle" fill="#000" >50</text><line x1="217.75" y1="381" x2="217.75" y2="378" stroke="#000" stroke-width="2.5" /><line x1="255.33" y1="381" x2="255.33" y2="376" stroke="#000" stroke-width="2.5" /><text transform="translate(255.33,410.5) scale(1,1.05)" font-size="27" text-anchor="middle" fill="#000" >100</text><line x1="292.91" y1="381" x2="292.91" y2="378" stroke="#000" stroke-width="2.5" /><line x1="330.5" y1="381" x2="330.5" y2="376" stroke="#000" stroke-width="2.5" /><text transform="translate(330.5,410.5) scale(1,1.05)" font-size="27" text-anchor="middle" fill="#000" >150</text><line x1="368.08" y1="381" x2="368.08" y2="378" stroke="#000" stroke-width="2.5" /><line x1="405.66" y1="381" x2="405.66" y2="376" stroke="#000" stroke-width="2.5" /><text transform="translate(405.66,410.5) scale(1,1.05)" font-size="27" text-anchor="middle" fill="#000" >200</text><line x1="443.24" y1="381" x2="443.24" y2="378" stroke="#000" stroke-width="2.5" /><line x1="480.83" y1="381" x2="480.83" y2="376" stroke="#000" stroke-width="2.5" /><text transform="translate(480.83,410.5) scale(1,1.05)" font-size="27" text-anchor="middle" fill="#000" >250</text><line x1="518.41" y1="381" x2="518.41" y2="378" stroke="#000" stroke-width="2.5" /><text transform="translate(555.99,410.5) scale(1,1.05)" font-size="27" text-anchor="middle" fill="#000" >300</text><text x="330" y="444" font-size="29" text-anchor="start" fill="#000" >T (K)</text><text x="0" y="41" font-size="48" text-anchor="start" fill="#000" >(a)</text><text transform="translate(35,242) rotate(-90)" font-size="29">ρ/ρ<tspan font-size="20" dy="9.5">(300K)</tspan></text><line x1="125.3" y1="56.5" x2="180.6" y2="56.5" stroke="#474747" stroke-width="2.8" /><text x="185" y="63.5" font-size="24" text-anchor="start" fill="#474747" >x=0</text><line x1="125.3" y1="84.7" x2="180.6" y2="84.7" stroke="#ea3a3f" stroke-width="2.8" /><text x="185" y="91.7" font-size="24" text-anchor="start" fill="#ea3a3f" >x=0.02</text><line x1="125.3" y1="113.3" x2="180.6" y2="113.3" stroke="#1d64d8" stroke-width="2.8" /><text x="185" y="120.3" font-size="24" text-anchor="start" fill="#1d64d8" >x=0.03</text><line x1="125.3" y1="142" x2="180.6" y2="142" stroke="#2e9f5c" stroke-width="2.8" /><text x="185" y="149" font-size="24" text-anchor="start" fill="#2e9f5c" >x=0.05</text><line x1="125.3" y1="170.6" x2="180.6" y2="170.6" stroke="#a775d8" stroke-width="2.8" /><text x="185" y="177.6" font-size="24" text-anchor="start" fill="#a775d8" >x=0.07</text><rect x="347" y="187" width="208" height="166.5" fill="#fff"/><defs><clipPath id="clipI"><rect x="348" y="188" width="206" height="164.5"/></clipPath></defs><g clip-path="url(#clipI)"><polyline points="346,352.49 347.59,352.97 349.17,352.19 350.76,352.16 352.35,352.1 353.94,351.21 355.52,350.79 357.11,349.91 358.7,349.78 360.29,349.69 361.87,349.53 363.46,349.32 365.05,348.44 366.63,347.69 368.22,347.59 369.81,347.97 371.4,346.77 372.98,346.69 374.57,346.89 376.16,345.44 377.74,345.76 379.33,345.81 380.92,344.58 382.51,344.59 384.09,344.66 385.68,343.36 387.27,343.46 388.86,343.36 390.44,342.9 392.03,342.29 393.62,341.6 395.2,341.58 396.79,341.07 398.38,340.83 399.97,340.32 401.55,340.52 403.14,340.07 404.73,339.16 406.31,339.1 407.9,338.38 409.49,338.22 411.08,337.73 412.66,337.73 414.25,337.02 415.84,336.76 417.43,336.7 419.01,335.96 420.6,336.19 422,333.89 423.4,333.14 424.8,331.33 426.2,329.91 427.86,330.29 429.52,330.28 431.19,330.27 432.85,329.9 434.51,330.14 436.18,331 437.84,330.9 439.5,331.24 441.01,330.98 442.51,330.09 444.02,328.76 445.53,328.5 447.03,328.28 448.54,327.28 450.05,327.59 451.55,327 453.06,326.32 454.57,325.3 456.07,325.18 457.58,323.76 459.09,323.4 460.59,323.02 462.1,322.79 463.79,322.06 465.48,321.22 467.17,321.05 468.86,320.6 470.54,320.15 472.23,319.57 473.92,319.44 475.61,319.06 477.3,319.03 478.91,318.38 480.53,317.38 482.14,316.64 483.76,316.35 485.37,315.81 486.99,314.88 488.6,314.36 490.25,314.05 491.9,312.5 493.55,313.03 495.2,311.83 496.85,311.6 498.5,311.51 500.15,310.94 501.8,309.78 502.94,308.89 504.08,306.68 505.22,305.53 506.36,304.58 507.5,302.61 508.83,301.82 510.17,300.97 511.5,300.09 512.83,299.01 514.17,297.11 515.5,296.6 516,294.96 516.5,292.77 517,291.65 517.5,290.03 518,288.59 518.5,287.03 519,284.35 519.12,282.81 519.24,281.65 519.36,279.35 519.48,277.79 519.6,276.54 519.72,274.38 519.84,273.45 519.96,271.87 520.08,269.21 520.2,268.14 520.32,266.79 520.44,265.33 520.56,262.82 520.68,261.02 520.8,260.2 520.92,258.57 521.04,256.05 521.16,254.67 521.28,253.33 521.4,251.81 521.45,249.37 521.5,248.33 521.55,246.87 521.61,244.93 521.66,242.84 521.71,241.05 521.76,239.71 521.81,238.71 521.86,236.16 521.91,234.49 521.96,233.28 522.02,231.29 522.07,229.76 522.12,227.97 522.17,226.94 522.22,225.52 522.27,223.56 522.32,221.58 522.38,220.18 522.43,218.86 522.48,217.65 522.53,216.08 522.58,213.54 522.63,211.63 522.68,210.99 522.74,209.47 522.79,207.27 522.84,206.02 522.89,204.5 522.94,202.56 522.99,201.24 523.04,198.59 523.09,197.26 523.15,195.63 523.2,193.81 523.25,193.13 523.3,190.44 523.35,192.84 523.39,193.75 523.44,195.73 523.48,197.43 523.53,198.78 523.58,200.82 523.62,202.47 523.67,203.84 523.71,205.98 523.76,206.92 523.81,208.59 523.85,210.41 523.9,212.08 523.94,213.5 523.99,215.99 524.04,217.51 524.08,218.28 524.13,220.23 524.17,221.7 524.22,223.59 524.26,225.01 524.31,226.92 524.36,229.05 524.4,230.04 524.45,231.99 524.49,233.56 524.54,235.38 524.59,236.18 524.63,238.63 524.68,240.51 524.72,241.73 524.77,242.98 524.82,245.08 524.86,246.76 524.91,248.32 524.95,249.34 525,251.97 525.05,253.56 525.1,254.53 525.15,256.35 525.2,257.3 525.25,260.05 525.3,261.46 525.35,262.85 525.4,264.61 525.45,265.54 525.5,267.29 525.55,268.83 525.6,270.87 525.65,271.87 525.7,274.45 525.75,275.54 525.8,277.13 525.85,278.34 525.9,280.65 525.95,282.42 526,283.81 526.05,284.95 526.1,287.22 526.15,288.06 526.2,290.49 526.25,291.81 526.3,293.07 526.35,294.95 526.4,296.7 526.45,297.87 526.5,300.19 526.55,301.29 526.6,303.47 526.65,305.02 526.7,305.74 526.75,308.01 526.8,309.22 526.85,311.37 526.9,312.73 526.95,314.24 527,316.37 527.05,316.98 527.1,319.19 527.15,320.53 527.2,321.79 527.25,324.27 527.3,325.65 527.35,327.66 527.4,328.92 529.01,328.75 530.62,329.66 532.24,328.76 533.85,328.83 535.46,329.79 537.07,329.49 538.68,329.62 540.29,330.38 541.91,329.86 543.52,330.68 545.13,330.53 546.74,330.29 548.35,330.11 549.96,330.47 551.58,331.48 553.19,330.95 554.8,331.2" fill="none" stroke="#474747" stroke-width="2" stroke-linejoin="round" stroke-linecap="round" /><polyline points="346,352.59 347.55,352.31 349.1,352.57 350.65,351.24 352.2,351.52 353.75,350.3 355.3,350.84 356.85,349.87 358.4,348.83 359.95,349.45 361.5,348.31 363.05,348.3 364.6,347.6 366.15,346.63 367.7,346.19 369.25,345.79 370.8,345.36 372.35,344.77 373.9,344.31 375.45,344.94 377,343.46 378.55,343.51 380.1,342.59 381.65,342.25 383.2,342.46 384.75,342.22 386.3,341.2 387.85,340.19 389.4,340.93 390.95,339.34 392.5,339.3 394.05,339.02 395.6,338.99 397.15,338.46 398.7,337.75 400.25,337.04 401.8,337.12 403.35,336.7 404.9,336.26 406.45,335.62 408,334.42 409.55,334.21 411.1,333.98 412.78,333.56 414.46,333.51 416.13,332.35 417.81,332.42 419.49,331.63 421.17,331.66 422.84,330.52 424.52,330.42 426.2,329.52 427.8,329.22 429.4,329.65 431,328.48 432.6,328.73 434.2,327.86 435.8,326.84 437.4,327.31 439,325.99 440.6,326.48 442.2,325.06 443.8,325.43 445.4,324.38 447,324.16 448.6,324.46 450.2,323.46 451.8,323.24 453.4,322.9 455,321.71 456.6,322.15 458.2,321.8 459.8,320.46 461.4,320.49 463,319.74 464.6,319.86 466.2,318.57 467.8,318.72 469.38,318.58 470.97,318.05 472.55,316.83 474.13,317.23 475.72,316.05 477.3,316.27 478.24,314.48 479.18,312.67 480.11,311.94 481.05,310.62 481.99,309.08 482.93,307.98 483.86,305.72 484.8,304.28 486.23,303.23 487.65,302.75 489.07,301.63 490.5,300.63 490.93,299.12 491.37,297.26 491.8,295.31 492.23,294.23 492.67,292.36 493.1,290.94 493.53,289.88 493.97,287.35 494.4,286.26 494.83,284.64 495.27,282.57 495.7,281.17 496.17,283.31 496.63,284.1 497.1,286.09 497.57,287.79 498.03,288.76 498.5,291.05 498.97,292.16 499.43,293.56 499.9,295.36 500.14,296.61 500.38,298.56 500.62,299.64 500.86,302.03 501.1,303.17 501.33,304.42 501.57,306.26 501.81,308.41 502.05,309.91 502.29,311.12 502.53,312.57 502.77,314.2 503.01,316.53 503.25,317.1 503.49,319.63 503.73,321.2 503.97,322.04 504.2,323.8 504.44,325.67 504.68,327.55 504.92,329.33 505.16,330.99 505.4,331.74 507,331.93 508.6,332.59 510.2,332.97 511.8,333.39 513.4,333.03 515,333.98 516.65,334.35 518.31,334.38 519.96,334.46 521.62,334.47 523.27,334.56 524.92,333.51 526.58,334.59 528.23,333.86 529.89,333.96 531.54,334.17 533.2,334.8 534.85,334.43 536.5,334.16 538.16,334.23 539.81,334.91 541.47,334.85 543.12,334.07 544.78,334.25 546.43,334.44 548.08,334.29 549.74,334.75 551.39,334.39 553.05,334.85 554.7,334.8" fill="none" stroke="#ea3a3f" stroke-width="2" stroke-linejoin="round" stroke-linecap="round" /><polyline points="346,353.52 347.55,352.95 349.1,351.59 350.65,351.26 352.2,351.04 353.75,350.85 355.3,350.08 356.85,349.45 358.4,349.1 359.95,348.47 361.5,348.79 363.05,348.13 364.6,347.32 366.15,347.2 367.7,346.52 369.25,346.07 370.8,345.41 372.35,345.09 373.9,345.23 375.45,344.52 377,344.11 378.55,342.8 380.1,342.79 381.65,342.16 383.2,341.36 384.75,341.27 386.3,340.42 387.85,340.15 389.4,340.36 390.95,339.76 392.5,339.31 394.05,338.1 395.6,337.74 397.15,337.1 398.7,336.73 400.25,336.27 401.8,336.84 403.35,336.29 404.9,335 406.45,334.6 408,334.98 409.55,334.05 411.1,333.34 412.78,333.02 414.46,332.34 416.13,332.27 417.81,331.99 419.49,331.3 421.17,331.22 422.84,329.92 424.52,330.07 426.2,330.09 427.82,328.65 429.44,328.64 431.06,328.37 432.69,327.59 434.31,327.91 435.93,326.91 437.55,326.47 439.17,326.55 440.79,325.06 442.41,325.66 444.04,324.34 445.66,324.21 447.28,323.91 448.9,323.47 450.48,322.15 452.07,321.68 453.65,320.93 455.23,320.85 456.82,320 458.4,318.8 460.27,319.22 462.13,319.14 464,318.55 464.83,316.87 465.66,316.09 466.49,314.37 467.31,312.63 468.14,312.42 468.97,311.03 469.8,309.14 470.63,307.87 471.46,306.56 472.29,305.5 473.11,303.58 473.94,302.34 474.77,300.54 475.6,299.19 476.52,300.98 477.44,302.08 478.36,303.29 479.28,305.14 480.2,307.05 481.12,307.93 482.04,310.09 482.96,311.34 483.88,312.73 484.8,314.47 485.99,314.79 487.18,316.21 488.36,318.39 489.55,319.69 490.74,319.99 491.93,322.13 493.11,322.52 494.3,323.96 495.8,324.49 497.3,325.27 498.8,325.95 500.3,327.13 501.8,327.12 503.38,327.45 504.97,328.33 506.55,328.71 508.13,329.43 509.72,330.62 511.3,331.41 512.91,331.19 514.51,331.43 516.12,331.19 517.73,331.95 519.34,331.72 520.94,331.53 522.55,332.02 524.16,331.76 525.77,331.95 527.37,331.84 528.98,332.71 530.59,332.2 532.2,333.1 533.8,332.53 535.41,332.32 537.02,333.07 538.63,333.19 540.23,333.46 541.84,332.65 543.45,333.53 545.06,333.7 546.66,333.12 548.27,333.39 549.88,333.68 551.49,333.32 553.09,334.16 554.7,333.8" fill="none" stroke="#1d64d8" stroke-width="2" stroke-linejoin="round" stroke-linecap="round" /><polyline points="346,353.24 347.55,352.97 349.1,352.03 350.65,351.65 352.2,350.8 353.75,350.49 355.3,350.53 356.85,350.35 358.4,348.93 359.95,348.35 361.5,347.91 363.05,347.89 364.6,347.87 366.15,346.73 367.7,346.57 369.25,346.16 370.8,346.09 372.35,344.83 373.9,344.19 375.45,344.32 377,343.68 378.55,343.15 380.1,343.27 381.65,342.71 383.2,341.53 384.75,341.63 386.3,341.47 387.85,341.15 389.4,339.6 390.95,340.11 392.5,338.74 394.05,339.05 395.6,338.49 397.15,338.46 398.7,337.62 400.25,336.48 401.8,336.75 403.35,335.79 404.9,336.03 406.45,334.61 408,334.5 409.55,334.47 411.1,333.39 412.78,333.5 414.46,333.08 416.13,332.65 417.81,332.34 419.49,331.31 421.17,330.5 422.84,330.17 424.52,329.85 426.2,328.97 427.75,329.03 429.29,327.54 430.84,326.81 432.38,327.15 433.93,326.28 435.47,324.9 437.02,324.28 438.56,324.15 440.11,323.18 441.65,322.04 443.2,321.54 444.83,321.21 446.46,319.37 448.09,319.75 449.71,318.42 451.34,317.15 452.97,317.07 454.6,315.39 456.12,315.09 457.65,314.59 459.18,313.5 460.7,313.56 462.23,312.64 463.75,311.29 465.28,310.58 466.8,309.77 467.97,311.64 469.13,312.44 470.3,314.12 471.47,315.71 472.63,317.03 473.8,317.37 474.97,318.89 476.13,320.25 477.3,321.46 478.13,322.97 478.97,324.49 479.8,326.31 480.63,327.23 481.47,328.75 482.3,330.27 483.13,331.45 483.97,333.49 484.8,334.68 486.41,335.43 488.03,335.44 489.64,334.86 491.26,335.01 492.87,335.78 494.49,335.64 496.1,335.11 497.68,335.54 499.27,334.94 500.85,335.09 502.43,334.73 504.02,334.62 505.6,334.04 507.24,334.33 508.87,333.61 510.51,333.71 512.15,333.4 513.78,334.41 515.42,333.59 517.06,334.09 518.69,334.08 520.33,334.48 521.97,334 523.6,333.74 525.24,334.06 526.88,333.69 528.51,334.03 530.15,334.46 531.79,333.8 533.42,334.95 535.06,334.44 536.7,334.19 538.33,334.87 539.97,334.06 541.61,334.32 543.24,335.09 544.88,334.29 546.52,334.91 548.15,334.16 549.79,334.74 551.43,334.92 553.06,334.42 554.7,334.8" fill="none" stroke="#2e9f5c" stroke-width="2" stroke-linejoin="round" stroke-linecap="round" /><polyline points="346,352.79 347.55,352.56 349.09,352.1 350.64,351.07 352.19,350.87 353.74,351.07 355.28,349.75 356.83,349.8 358.38,348.6 359.93,348.4 361.47,347.97 363.02,347.55 364.57,347.19 366.11,346.78 367.66,346.16 369.21,345.79 370.76,345.37 372.3,344.2 373.85,344.29 375.4,343.42 376.94,342.6 378.49,341.99 380.04,342.2 381.59,341.54 383.13,340.35 384.68,340.47 386.23,339.31 387.77,339.22 389.32,338.93 390.87,338.52 392.42,337.42 393.96,336.78 395.51,336.91 397.06,336.7 398.61,336.17 400.15,335.14 401.7,334.89 403.03,334.09 404.36,333.3 405.69,331.88 407.01,331.36 408.34,329.72 409.67,328.63 411,327.75 412.23,327.13 413.46,326.18 414.69,324.54 415.91,323.66 417.14,321.85 418.37,321.15 419.6,319.92 421.02,320.8 422.43,321.39 423.85,322.8 425.27,323.74 426.68,324.58 428.1,325.59 429.14,326.63 430.17,328.49 431.21,329.53 432.25,331.29 433.28,332.1 434.32,333.83 435.35,334.61 436.39,335.85 437.43,338.25 438.46,338.96 439.5,339.95 441.22,340.47 442.94,340.67 444.65,340.3 446.37,340.39 448.09,340.16 449.81,339.41 451.53,338.97 453.25,338.6 454.96,338.67 456.68,338.93 458.4,339.09 460.01,338.4 461.63,339.78 463.24,340.12 464.86,340.43 466.47,340.15 468.09,340.46 469.7,341.68 471.11,340.74 472.52,339.59 473.94,338.74 475.35,337.54 476.76,337.87 478.18,336.85 479.59,336.19 481,335.18 482.68,334.96 484.36,335.64 486.03,335.07 487.71,335.85 489.39,335.54 491.07,335.94 492.74,336.72 494.42,336.4 496.1,337.17 497.82,336.99 499.54,336.8 501.25,336.93 502.97,336.79 504.69,337.65 506.41,338.14 508.13,337.58 509.85,338.06 511.56,338.84 513.28,338.3 515,339.13 516.72,338.73 518.44,338.07 520.15,337.97 521.87,337.02 523.59,337.3 525.31,337.33 527.03,336.43 528.75,335.95 530.46,335.66 532.18,335.56 533.9,335.39 535.5,336.14 537.1,335.8 538.7,335.97 540.3,335.78 541.9,335.84 543.5,336.23 545.1,336.53 546.7,335.93 548.3,336.31 549.9,336.64 551.5,337.1 553.1,336.35 554.7,336.7" fill="none" stroke="#a775d8" stroke-width="2" stroke-linejoin="round" stroke-linecap="round" /></g><rect x="347" y="187" width="208" height="166.5" fill="none" stroke="#000" stroke-width="2" /><line x1="427" y1="352.5" x2="427" y2="349" stroke="#000" stroke-width="2" /><line x1="512.8" y1="352.5" x2="512.8" y2="349" stroke="#000" stroke-width="2" /><line x1="348" y1="234.8" x2="351.5" y2="234.8" stroke="#000" stroke-width="2" /><line x1="348" y1="314.5" x2="351.5" y2="314.5" stroke="#000" stroke-width="2" /><text x="426.5" y="370.5" font-size="15" text-anchor="middle" fill="#000" >60</text><text x="513.5" y="370.5" font-size="15" text-anchor="middle" fill="#000" >90</text><text x="449" y="376" font-size="21" text-anchor="start" fill="#000" >T (K)</text><text transform="translate(335.5,329.5) rotate(-90)" font-size="20.5" textLength="119" lengthAdjust="spacingAndGlyphs">dρ/dT (a.u.)</text><line x1="657.5" y1="368" x2="663.5" y2="368" stroke="#000" stroke-width="2.5" /><text transform="translate(647.3,375.7) scale(1,1.05)" font-size="27" text-anchor="end" fill="#000" >0</text><line x1="657.5" y1="313.95" x2="660.5" y2="313.95" stroke="#000" stroke-width="2.5" /><line x1="657.5" y1="259.9" x2="663.5" y2="259.9" stroke="#000" stroke-width="2.5" /><text transform="translate(647.3,267.6) scale(1,1.05)" font-size="27" text-anchor="end" fill="#000" >2</text><line x1="657.5" y1="205.85" x2="660.5" y2="205.85" stroke="#000" stroke-width="2.5" /><line x1="657.5" y1="151.8" x2="663.5" y2="151.8" stroke="#000" stroke-width="2.5" /><text transform="translate(647.3,159.5) scale(1,1.05)" font-size="27" text-anchor="end" fill="#000" >4</text><line x1="657.5" y1="97.75" x2="660.5" y2="97.75" stroke="#000" stroke-width="2.5" /><line x1="657.5" y1="43.7" x2="663.5" y2="43.7" stroke="#000" stroke-width="2.5" /><text transform="translate(647.3,51.4) scale(1,1.05)" font-size="27" text-anchor="end" fill="#000" >6</text><defs><clipPath id="clipB"><rect x="657.5" y="25.2" width="446.5" height="355.5"/></clipPath></defs><g clip-path="url(#clipB)"><polyline points="656.7,368.5 666.04,368.5 675.38,368.5 684.72,368.5 694.06,368.5 703.4,368.5 712.74,368.5 722.08,368.5 731.42,363.1 740.76,354.4 750.1,345.3 759.44,336.4 768.78,329.3 778.12,326.1 787.46,323.1 796.8,319.7 806.14,317 815.48,315.6 824.82,314.7 834.16,314.2 843.5,314.2 852.84,314.2 862.18,314.2 871.52,314.2 880.86,314.2 890.2,314.2 899.54,314.2 908.88,314.2 918.22,314.2 927.56,314.2 936.9,314.2 946.24,314.2 955.58,314.2 964.92,314.2 974.26,314.2 983.6,314.2 992.94,314.2 1002.28,314.2 1011.62,314.2 1020.96,314.2 1030.3,314.2 1039.64,314.2 1048.98,314.2 1058.32,314.2 1067.66,314.2 1077,314.2 1086.34,314.2 1095.68,314.2 1105.02,314.2" fill="none" stroke="#474747" stroke-width="2.2" stroke-linejoin="round" stroke-linecap="round" /><rect x="653.1" y="364.9" width="7.2" height="7.2" fill="#474747"/><rect x="662.44" y="364.9" width="7.2" height="7.2" fill="#474747"/><rect x="671.78" y="364.9" width="7.2" height="7.2" fill="#474747"/><rect x="681.12" y="364.9" width="7.2" height="7.2" fill="#474747"/><rect x="690.46" y="364.9" width="7.2" height="7.2" fill="#474747"/><rect x="699.8" y="364.9" width="7.2" height="7.2" fill="#474747"/><rect x="709.14" y="364.9" width="7.2" height="7.2" fill="#474747"/><rect x="718.48" y="364.9" width="7.2" height="7.2" fill="#474747"/><rect x="727.82" y="359.5" width="7.2" height="7.2" fill="#474747"/><rect x="737.16" y="350.8" width="7.2" height="7.2" fill="#474747"/><rect x="746.5" y="341.7" width="7.2" height="7.2" fill="#474747"/><rect x="755.84" y="332.8" width="7.2" height="7.2" fill="#474747"/><rect x="765.18" y="325.7" width="7.2" height="7.2" fill="#474747"/><rect x="774.52" y="322.5" width="7.2" height="7.2" fill="#474747"/><rect x="783.86" y="319.5" width="7.2" height="7.2" fill="#474747"/><rect x="793.2" y="316.1" width="7.2" height="7.2" fill="#474747"/><rect x="802.54" y="313.4" width="7.2" height="7.2" fill="#474747"/><rect x="811.88" y="312" width="7.2" height="7.2" fill="#474747"/><rect x="821.22" y="311.1" width="7.2" height="7.2" fill="#474747"/><rect x="830.56" y="310.6" width="7.2" height="7.2" fill="#474747"/><rect x="839.9" y="310.6" width="7.2" height="7.2" fill="#474747"/><rect x="849.24" y="310.6" width="7.2" height="7.2" fill="#474747"/><rect x="858.58" y="310.6" width="7.2" height="7.2" fill="#474747"/><rect x="867.92" y="310.6" width="7.2" height="7.2" fill="#474747"/><rect x="877.26" y="310.6" width="7.2" height="7.2" fill="#474747"/><rect x="886.6" y="310.6" width="7.2" height="7.2" fill="#474747"/><rect x="895.94" y="310.6" width="7.2" height="7.2" fill="#474747"/><rect x="905.28" y="310.6" width="7.2" height="7.2" fill="#474747"/><rect x="914.62" y="310.6" width="7.2" height="7.2" fill="#474747"/><rect x="923.96" y="310.6" width="7.2" height="7.2" fill="#474747"/><rect x="933.3" y="310.6" width="7.2" height="7.2" fill="#474747"/><rect x="942.64" y="310.6" width="7.2" height="7.2" fill="#474747"/><rect x="951.98" y="310.6" width="7.2" height="7.2" fill="#474747"/><rect x="961.32" y="310.6" width="7.2" height="7.2" fill="#474747"/><rect x="970.66" y="310.6" width="7.2" height="7.2" fill="#474747"/><rect x="980" y="310.6" width="7.2" height="7.2" fill="#474747"/><rect x="989.34" y="310.6" width="7.2" height="7.2" fill="#474747"/><rect x="998.68" y="310.6" width="7.2" height="7.2" fill="#474747"/><rect x="1008.02" y="310.6" width="7.2" height="7.2" fill="#474747"/><rect x="1017.36" y="310.6" width="7.2" height="7.2" fill="#474747"/><rect x="1026.7" y="310.6" width="7.2" height="7.2" fill="#474747"/><rect x="1036.04" y="310.6" width="7.2" height="7.2" fill="#474747"/><rect x="1045.38" y="310.6" width="7.2" height="7.2" fill="#474747"/><rect x="1054.72" y="310.6" width="7.2" height="7.2" fill="#474747"/><rect x="1064.06" y="310.6" width="7.2" height="7.2" fill="#474747"/><rect x="1073.4" y="310.6" width="7.2" height="7.2" fill="#474747"/><rect x="1082.74" y="310.6" width="7.2" height="7.2" fill="#474747"/><rect x="1092.08" y="310.6" width="7.2" height="7.2" fill="#474747"/><rect x="1101.42" y="310.6" width="7.2" height="7.2" fill="#474747"/><polyline points="657,368.5 665.1,368.5 673.2,368.5 681.3,368.5 689.4,368.5 697.5,368.5 705.6,368.5 713.7,368.5 721.8,368.5 729.9,368.5 738,368.5 746.1,368.5 754.2,368.5 762.3,368.5 770.4,368.5 778.5,368.5 786.6,368.5 794.7,368.5 802.8,368.5 810.9,368.5 822.5,352.3 830.4,315.6 838.3,250.3 846.8,184.3 856,134.1 864,108.8 872.3,97.6 879.9,92.4 887.7,90.8 895.85,90.69 904,90.57 912.15,90.46 920.3,90.34 928.45,90.23 936.6,90.12 944.75,90 952.9,89.89 961.05,89.77 969.2,89.66 977.35,89.54 985.5,89.43 993.65,89.32 1001.8,89.2 1009.95,89.09 1018.1,88.97 1026.25,88.86 1034.4,88.75 1042.55,88.63 1050.7,88.52 1058.85,88.4 1067,88.29 1075.15,88.18 1083.3,88.06 1091.45,87.95 1099.6,87.83" fill="none" stroke="#ea3a3f" stroke-width="2.2" stroke-linejoin="round" stroke-linecap="round" /><circle cx="657" cy="368.5" r="4" fill="#ea3a3f"/><circle cx="665.1" cy="368.5" r="4" fill="#ea3a3f"/><circle cx="673.2" cy="368.5" r="4" fill="#ea3a3f"/><circle cx="681.3" cy="368.5" r="4" fill="#ea3a3f"/><circle cx="689.4" cy="368.5" r="4" fill="#ea3a3f"/><circle cx="697.5" cy="368.5" r="4" fill="#ea3a3f"/><circle cx="705.6" cy="368.5" r="4" fill="#ea3a3f"/><circle cx="713.7" cy="368.5" r="4" fill="#ea3a3f"/><circle cx="721.8" cy="368.5" r="4" fill="#ea3a3f"/><circle cx="729.9" cy="368.5" r="4" fill="#ea3a3f"/><circle cx="738" cy="368.5" r="4" fill="#ea3a3f"/><circle cx="746.1" cy="368.5" r="4" fill="#ea3a3f"/><circle cx="754.2" cy="368.5" r="4" fill="#ea3a3f"/><circle cx="762.3" cy="368.5" r="4" fill="#ea3a3f"/><circle cx="770.4" cy="368.5" r="4" fill="#ea3a3f"/><circle cx="778.5" cy="368.5" r="4" fill="#ea3a3f"/><circle cx="786.6" cy="368.5" r="4" fill="#ea3a3f"/><circle cx="794.7" cy="368.5" r="4" fill="#ea3a3f"/><circle cx="802.8" cy="368.5" r="4" fill="#ea3a3f"/><circle cx="810.9" cy="368.5" r="4" fill="#ea3a3f"/><circle cx="822.5" cy="352.3" r="4" fill="#ea3a3f"/><circle cx="830.4" cy="315.6" r="4" fill="#ea3a3f"/><circle cx="838.3" cy="250.3" r="4" fill="#ea3a3f"/><circle cx="846.8" cy="184.3" r="4" fill="#ea3a3f"/><circle cx="856" cy="134.1" r="4" fill="#ea3a3f"/><circle cx="864" cy="108.8" r="4" fill="#ea3a3f"/><circle cx="872.3" cy="97.6" r="4" fill="#ea3a3f"/><circle cx="879.9" cy="92.4" r="4" fill="#ea3a3f"/><circle cx="887.7" cy="90.8" r="4" fill="#ea3a3f"/><circle cx="895.85" cy="90.69" r="4" fill="#ea3a3f"/><circle cx="904" cy="90.57" r="4" fill="#ea3a3f"/><circle cx="912.15" cy="90.46" r="4" fill="#ea3a3f"/><circle cx="920.3" cy="90.34" r="4" fill="#ea3a3f"/><circle cx="928.45" cy="90.23" r="4" fill="#ea3a3f"/><circle cx="936.6" cy="90.12" r="4" fill="#ea3a3f"/><circle cx="944.75" cy="90" r="4" fill="#ea3a3f"/><circle cx="952.9" cy="89.89" r="4" fill="#ea3a3f"/><circle cx="961.05" cy="89.77" r="4" fill="#ea3a3f"/><circle cx="969.2" cy="89.66" r="4" fill="#ea3a3f"/><circle cx="977.35" cy="89.54" r="4" fill="#ea3a3f"/><circle cx="985.5" cy="89.43" r="4" fill="#ea3a3f"/><circle cx="993.65" cy="89.32" r="4" fill="#ea3a3f"/><circle cx="1001.8" cy="89.2" r="4" fill="#ea3a3f"/><circle cx="1009.95" cy="89.09" r="4" fill="#ea3a3f"/><circle cx="1018.1" cy="88.97" r="4" fill="#ea3a3f"/><circle cx="1026.25" cy="88.86" r="4" fill="#ea3a3f"/><circle cx="1034.4" cy="88.75" r="4" fill="#ea3a3f"/><circle cx="1042.55" cy="88.63" r="4" fill="#ea3a3f"/><circle cx="1050.7" cy="88.52" r="4" fill="#ea3a3f"/><circle cx="1058.85" cy="88.4" r="4" fill="#ea3a3f"/><circle cx="1067" cy="88.29" r="4" fill="#ea3a3f"/><circle cx="1075.15" cy="88.18" r="4" fill="#ea3a3f"/><circle cx="1083.3" cy="88.06" r="4" fill="#ea3a3f"/><circle cx="1091.45" cy="87.95" r="4" fill="#ea3a3f"/><circle cx="1099.6" cy="87.83" r="4" fill="#ea3a3f"/><polyline points="657,368.5 665.7,368.5 674.4,368.5 683.1,368.5 691.8,368.5 700.5,368.5 709.2,368.5 717.9,368.5 726.6,368.5 735.3,368.5 744,368.5 752.7,368.5 761.4,368.5 770.1,368.5 778.8,368.5 787.5,368.5 796.2,368.5 804.9,368.5 813.6,368.5 822.3,368.5 831,368.5 839.5,364.8 846.3,316 854.4,206.7 863.5,128 872.8,82.7 880.9,68.4 888.5,61.2 896.7,61.16 904.9,61.12 913.1,61.09 921.3,61.05 929.5,61.01 937.7,60.97 945.9,60.93 954.1,60.89 962.3,60.86 970.5,60.82 978.7,60.78 986.9,60.74 995.1,60.7 1003.3,60.67 1011.5,60.63 1019.7,60.59 1027.9,60.55 1036.1,60.51 1044.3,60.48 1052.5,60.44 1060.7,60.4 1068.9,60.36 1077.1,60.32 1085.3,60.28 1093.5,60.25 1101.7,60.21" fill="none" stroke="#1d64d8" stroke-width="2.2" stroke-linejoin="round" stroke-linecap="round" /><path d="M657 363.7L661.5 372.2L652.5 372.2Z" fill="#1d64d8"/><path d="M665.7 363.7L670.2 372.2L661.2 372.2Z" fill="#1d64d8"/><path d="M674.4 363.7L678.9 372.2L669.9 372.2Z" fill="#1d64d8"/><path d="M683.1 363.7L687.6 372.2L678.6 372.2Z" fill="#1d64d8"/><path d="M691.8 363.7L696.3 372.2L687.3 372.2Z" fill="#1d64d8"/><path d="M700.5 363.7L705 372.2L696 372.2Z" fill="#1d64d8"/><path d="M709.2 363.7L713.7 372.2L704.7 372.2Z" fill="#1d64d8"/><path d="M717.9 363.7L722.4 372.2L713.4 372.2Z" fill="#1d64d8"/><path d="M726.6 363.7L731.1 372.2L722.1 372.2Z" fill="#1d64d8"/><path d="M735.3 363.7L739.8 372.2L730.8 372.2Z" fill="#1d64d8"/><path d="M744 363.7L748.5 372.2L739.5 372.2Z" fill="#1d64d8"/><path d="M752.7 363.7L757.2 372.2L748.2 372.2Z" fill="#1d64d8"/><path d="M761.4 363.7L765.9 372.2L756.9 372.2Z" fill="#1d64d8"/><path d="M770.1 363.7L774.6 372.2L765.6 372.2Z" fill="#1d64d8"/><path d="M778.8 363.7L783.3 372.2L774.3 372.2Z" fill="#1d64d8"/><path d="M787.5 363.7L792 372.2L783 372.2Z" fill="#1d64d8"/><path d="M796.2 363.7L800.7 372.2L791.7 372.2Z" fill="#1d64d8"/><path d="M804.9 363.7L809.4 372.2L800.4 372.2Z" fill="#1d64d8"/><path d="M813.6 363.7L818.1 372.2L809.1 372.2Z" fill="#1d64d8"/><path d="M822.3 363.7L826.8 372.2L817.8 372.2Z" fill="#1d64d8"/><path d="M831 363.7L835.5 372.2L826.5 372.2Z" fill="#1d64d8"/><path d="M839.5 360L844 368.5L835 368.5Z" fill="#1d64d8"/><path d="M846.3 311.2L850.8 319.7L841.8 319.7Z" fill="#1d64d8"/><path d="M854.4 201.9L858.9 210.4L849.9 210.4Z" fill="#1d64d8"/><path d="M863.5 123.2L868 131.7L859 131.7Z" fill="#1d64d8"/><path d="M872.8 77.9L877.3 86.4L868.3 86.4Z" fill="#1d64d8"/><path d="M880.9 63.6L885.4 72.1L876.4 72.1Z" fill="#1d64d8"/><path d="M888.5 56.4L893 64.9L884 64.9Z" fill="#1d64d8"/><path d="M896.7 56.36L901.2 64.86L892.2 64.86Z" fill="#1d64d8"/><path d="M904.9 56.32L909.4 64.82L900.4 64.82Z" fill="#1d64d8"/><path d="M913.1 56.29L917.6 64.79L908.6 64.79Z" fill="#1d64d8"/><path d="M921.3 56.25L925.8 64.75L916.8 64.75Z" fill="#1d64d8"/><path d="M929.5 56.21L934 64.71L925 64.71Z" fill="#1d64d8"/><path d="M937.7 56.17L942.2 64.67L933.2 64.67Z" fill="#1d64d8"/><path d="M945.9 56.13L950.4 64.63L941.4 64.63Z" fill="#1d64d8"/><path d="M954.1 56.09L958.6 64.59L949.6 64.59Z" fill="#1d64d8"/><path d="M962.3 56.06L966.8 64.56L957.8 64.56Z" fill="#1d64d8"/><path d="M970.5 56.02L975 64.52L966 64.52Z" fill="#1d64d8"/><path d="M978.7 55.98L983.2 64.48L974.2 64.48Z" fill="#1d64d8"/><path d="M986.9 55.94L991.4 64.44L982.4 64.44Z" fill="#1d64d8"/><path d="M995.1 55.9L999.6 64.4L990.6 64.4Z" fill="#1d64d8"/><path d="M1003.3 55.87L1007.8 64.37L998.8 64.37Z" fill="#1d64d8"/><path d="M1011.5 55.83L1016 64.33L1007 64.33Z" fill="#1d64d8"/><path d="M1019.7 55.79L1024.2 64.29L1015.2 64.29Z" fill="#1d64d8"/><path d="M1027.9 55.75L1032.4 64.25L1023.4 64.25Z" fill="#1d64d8"/><path d="M1036.1 55.71L1040.6 64.21L1031.6 64.21Z" fill="#1d64d8"/><path d="M1044.3 55.68L1048.8 64.18L1039.8 64.18Z" fill="#1d64d8"/><path d="M1052.5 55.64L1057 64.14L1048 64.14Z" fill="#1d64d8"/><path d="M1060.7 55.6L1065.2 64.1L1056.2 64.1Z" fill="#1d64d8"/><path d="M1068.9 55.56L1073.4 64.06L1064.4 64.06Z" fill="#1d64d8"/><path d="M1077.1 55.52L1081.6 64.02L1072.6 64.02Z" fill="#1d64d8"/><path d="M1085.3 55.48L1089.8 63.98L1080.8 63.98Z" fill="#1d64d8"/><path d="M1093.5 55.45L1098 63.95L1089 63.95Z" fill="#1d64d8"/><path d="M1101.7 55.41L1106.2 63.91L1097.2 63.91Z" fill="#1d64d8"/><polyline points="657,368.5 665.7,368.5 674.4,368.5 683.1,368.5 691.8,368.5 700.5,368.5 709.2,368.5 717.9,368.5 726.6,368.5 735.3,368.5 744,368.5 752.7,368.5 761.4,368.5 770.1,368.5 778.8,368.5 787.5,368.5 796.2,368.5 804.9,368.5 813.6,368.5 822.3,368.5 831,368.5 839.7,368.5 847.4,366 856.5,258.9 864.6,127.6 871.7,78.6 880.3,65.3 888.5,63.9 896.7,63.8 904.9,63.71 913.1,63.61 921.3,63.52 929.5,63.42 937.7,63.33 945.9,63.23 954.1,63.14 962.3,63.04 970.5,62.95 978.7,62.85 986.9,62.76 995.1,62.66 1003.3,62.57 1011.5,62.47 1019.7,62.37 1027.9,62.28 1036.1,62.18 1044.3,62.09 1052.5,61.99 1060.7,61.9 1068.9,61.8 1077.1,61.71 1085.3,61.61 1093.5,61.52 1101.7,61.42" fill="none" stroke="#2e9f5c" stroke-width="2.2" stroke-linejoin="round" stroke-linecap="round" /><path d="M657 373.3L661.5 364.8L652.5 364.8Z" fill="#2e9f5c"/><path d="M665.7 373.3L670.2 364.8L661.2 364.8Z" fill="#2e9f5c"/><path d="M674.4 373.3L678.9 364.8L669.9 364.8Z" fill="#2e9f5c"/><path d="M683.1 373.3L687.6 364.8L678.6 364.8Z" fill="#2e9f5c"/><path d="M691.8 373.3L696.3 364.8L687.3 364.8Z" fill="#2e9f5c"/><path d="M700.5 373.3L705 364.8L696 364.8Z" fill="#2e9f5c"/><path d="M709.2 373.3L713.7 364.8L704.7 364.8Z" fill="#2e9f5c"/><path d="M717.9 373.3L722.4 364.8L713.4 364.8Z" fill="#2e9f5c"/><path d="M726.6 373.3L731.1 364.8L722.1 364.8Z" fill="#2e9f5c"/><path d="M735.3 373.3L739.8 364.8L730.8 364.8Z" fill="#2e9f5c"/><path d="M744 373.3L748.5 364.8L739.5 364.8Z" fill="#2e9f5c"/><path d="M752.7 373.3L757.2 364.8L748.2 364.8Z" fill="#2e9f5c"/><path d="M761.4 373.3L765.9 364.8L756.9 364.8Z" fill="#2e9f5c"/><path d="M770.1 373.3L774.6 364.8L765.6 364.8Z" fill="#2e9f5c"/><path d="M778.8 373.3L783.3 364.8L774.3 364.8Z" fill="#2e9f5c"/><path d="M787.5 373.3L792 364.8L783 364.8Z" fill="#2e9f5c"/><path d="M796.2 373.3L800.7 364.8L791.7 364.8Z" fill="#2e9f5c"/><path d="M804.9 373.3L809.4 364.8L800.4 364.8Z" fill="#2e9f5c"/><path d="M813.6 373.3L818.1 364.8L809.1 364.8Z" fill="#2e9f5c"/><path d="M822.3 373.3L826.8 364.8L817.8 364.8Z" fill="#2e9f5c"/><path d="M831 373.3L835.5 364.8L826.5 364.8Z" fill="#2e9f5c"/><path d="M839.7 373.3L844.2 364.8L835.2 364.8Z" fill="#2e9f5c"/><path d="M847.4 370.8L851.9 362.3L842.9 362.3Z" fill="#2e9f5c"/><path d="M856.5 263.7L861 255.2L852 255.2Z" fill="#2e9f5c"/><path d="M864.6 132.4L869.1 123.9L860.1 123.9Z" fill="#2e9f5c"/><path d="M871.7 83.4L876.2 74.9L867.2 74.9Z" fill="#2e9f5c"/><path d="M880.3 70.1L884.8 61.6L875.8 61.6Z" fill="#2e9f5c"/><path d="M888.5 68.7L893 60.2L884 60.2Z" fill="#2e9f5c"/><path d="M896.7 68.6L901.2 60.1L892.2 60.1Z" fill="#2e9f5c"/><path d="M904.9 68.51L909.4 60.01L900.4 60.01Z" fill="#2e9f5c"/><path d="M913.1 68.41L917.6 59.91L908.6 59.91Z" fill="#2e9f5c"/><path d="M921.3 68.32L925.8 59.82L916.8 59.82Z" fill="#2e9f5c"/><path d="M929.5 68.22L934 59.72L925 59.72Z" fill="#2e9f5c"/><path d="M937.7 68.13L942.2 59.63L933.2 59.63Z" fill="#2e9f5c"/><path d="M945.9 68.03L950.4 59.53L941.4 59.53Z" fill="#2e9f5c"/><path d="M954.1 67.94L958.6 59.44L949.6 59.44Z" fill="#2e9f5c"/><path d="M962.3 67.84L966.8 59.34L957.8 59.34Z" fill="#2e9f5c"/><path d="M970.5 67.75L975 59.25L966 59.25Z" fill="#2e9f5c"/><path d="M978.7 67.65L983.2 59.15L974.2 59.15Z" fill="#2e9f5c"/><path d="M986.9 67.56L991.4 59.06L982.4 59.06Z" fill="#2e9f5c"/><path d="M995.1 67.46L999.6 58.96L990.6 58.96Z" fill="#2e9f5c"/><path d="M1003.3 67.37L1007.8 58.87L998.8 58.87Z" fill="#2e9f5c"/><path d="M1011.5 67.27L1016 58.77L1007 58.77Z" fill="#2e9f5c"/><path d="M1019.7 67.17L1024.2 58.67L1015.2 58.67Z" fill="#2e9f5c"/><path d="M1027.9 67.08L1032.4 58.58L1023.4 58.58Z" fill="#2e9f5c"/><path d="M1036.1 66.98L1040.6 58.48L1031.6 58.48Z" fill="#2e9f5c"/><path d="M1044.3 66.89L1048.8 58.39L1039.8 58.39Z" fill="#2e9f5c"/><path d="M1052.5 66.79L1057 58.29L1048 58.29Z" fill="#2e9f5c"/><path d="M1060.7 66.7L1065.2 58.2L1056.2 58.2Z" fill="#2e9f5c"/><path d="M1068.9 66.6L1073.4 58.1L1064.4 58.1Z" fill="#2e9f5c"/><path d="M1077.1 66.51L1081.6 58.01L1072.6 58.01Z" fill="#2e9f5c"/><path d="M1085.3 66.41L1089.8 57.91L1080.8 57.91Z" fill="#2e9f5c"/><path d="M1093.5 66.32L1098 57.82L1089 57.82Z" fill="#2e9f5c"/><path d="M1101.7 66.22L1106.2 57.72L1097.2 57.72Z" fill="#2e9f5c"/><polyline points="660.6,368.5 669.12,368.5 677.64,368.5 686.16,368.5 694.68,368.5 703.2,368.5 711.72,368.5 720.24,368.5 728.76,368.5 737.28,368.5 745.8,368.5 754.32,368.5 762.84,368.5 771.36,368.5 779.88,368.5 788.4,368.5 796.92,368.5 805.44,368.5 813.96,368.5 822.48,368.5 831,368.5 839.52,368.5 848.04,368.5 856.56,368.5 864.4,358 872.6,212.9 880.9,182.2 888.5,181.4 896.73,181.38 904.96,181.35 913.19,181.33 921.42,181.31 929.65,181.29 937.88,181.26 946.11,181.24 954.34,181.22 962.57,181.19 970.8,181.17 979.03,181.15 987.26,181.12 995.49,181.1 1003.72,181.08 1011.95,181.06 1020.18,181.03 1028.41,181.01 1036.64,180.99 1044.87,180.96 1053.1,180.94 1061.33,180.92 1069.56,180.89 1077.79,180.87 1086.02,180.85 1094.25,180.83 1102.48,180.8" fill="none" stroke="#a775d8" stroke-width="2.2" stroke-linejoin="round" stroke-linecap="round" /><path d="M660.6 363.7L665.4 368.5L660.6 373.3L655.8 368.5Z" fill="#a775d8"/><path d="M669.12 363.7L673.92 368.5L669.12 373.3L664.32 368.5Z" fill="#a775d8"/><path d="M677.64 363.7L682.44 368.5L677.64 373.3L672.84 368.5Z" fill="#a775d8"/><path d="M686.16 363.7L690.96 368.5L686.16 373.3L681.36 368.5Z" fill="#a775d8"/><path d="M694.68 363.7L699.48 368.5L694.68 373.3L689.88 368.5Z" fill="#a775d8"/><path d="M703.2 363.7L708 368.5L703.2 373.3L698.4 368.5Z" fill="#a775d8"/><path d="M711.72 363.7L716.52 368.5L711.72 373.3L706.92 368.5Z" fill="#a775d8"/><path d="M720.24 363.7L725.04 368.5L720.24 373.3L715.44 368.5Z" fill="#a775d8"/><path d="M728.76 363.7L733.56 368.5L728.76 373.3L723.96 368.5Z" fill="#a775d8"/><path d="M737.28 363.7L742.08 368.5L737.28 373.3L732.48 368.5Z" fill="#a775d8"/><path d="M745.8 363.7L750.6 368.5L745.8 373.3L741 368.5Z" fill="#a775d8"/><path d="M754.32 363.7L759.12 368.5L754.32 373.3L749.52 368.5Z" fill="#a775d8"/><path d="M762.84 363.7L767.64 368.5L762.84 373.3L758.04 368.5Z" fill="#a775d8"/><path d="M771.36 363.7L776.16 368.5L771.36 373.3L766.56 368.5Z" fill="#a775d8"/><path d="M779.88 363.7L784.68 368.5L779.88 373.3L775.08 368.5Z" fill="#a775d8"/><path d="M788.4 363.7L793.2 368.5L788.4 373.3L783.6 368.5Z" fill="#a775d8"/><path d="M796.92 363.7L801.72 368.5L796.92 373.3L792.12 368.5Z" fill="#a775d8"/><path d="M805.44 363.7L810.24 368.5L805.44 373.3L800.64 368.5Z" fill="#a775d8"/><path d="M813.96 363.7L818.76 368.5L813.96 373.3L809.16 368.5Z" fill="#a775d8"/><path d="M822.48 363.7L827.28 368.5L822.48 373.3L817.68 368.5Z" fill="#a775d8"/><path d="M831 363.7L835.8 368.5L831 373.3L826.2 368.5Z" fill="#a775d8"/><path d="M839.52 363.7L844.32 368.5L839.52 373.3L834.72 368.5Z" fill="#a775d8"/><path d="M848.04 363.7L852.84 368.5L848.04 373.3L843.24 368.5Z" fill="#a775d8"/><path d="M856.56 363.7L861.36 368.5L856.56 373.3L851.76 368.5Z" fill="#a775d8"/><path d="M864.4 353.2L869.2 358L864.4 362.8L859.6 358Z" fill="#a775d8"/><path d="M872.6 208.1L877.4 212.9L872.6 217.7L867.8 212.9Z" fill="#a775d8"/><path d="M880.9 177.4L885.7 182.2L880.9 187L876.1 182.2Z" fill="#a775d8"/><path d="M888.5 176.6L893.3 181.4L888.5 186.2L883.7 181.4Z" fill="#a775d8"/><path d="M896.73 176.58L901.53 181.38L896.73 186.18L891.93 181.38Z" fill="#a775d8"/><path d="M904.96 176.55L909.76 181.35L904.96 186.15L900.16 181.35Z" fill="#a775d8"/><path d="M913.19 176.53L917.99 181.33L913.19 186.13L908.39 181.33Z" fill="#a775d8"/><path d="M921.42 176.51L926.22 181.31L921.42 186.11L916.62 181.31Z" fill="#a775d8"/><path d="M929.65 176.49L934.45 181.29L929.65 186.09L924.85 181.29Z" fill="#a775d8"/><path d="M937.88 176.46L942.68 181.26L937.88 186.06L933.08 181.26Z" fill="#a775d8"/><path d="M946.11 176.44L950.91 181.24L946.11 186.04L941.31 181.24Z" fill="#a775d8"/><path d="M954.34 176.42L959.14 181.22L954.34 186.02L949.54 181.22Z" fill="#a775d8"/><path d="M962.57 176.39L967.37 181.19L962.57 185.99L957.77 181.19Z" fill="#a775d8"/><path d="M970.8 176.37L975.6 181.17L970.8 185.97L966 181.17Z" fill="#a775d8"/><path d="M979.03 176.35L983.83 181.15L979.03 185.95L974.23 181.15Z" fill="#a775d8"/><path d="M987.26 176.32L992.06 181.12L987.26 185.92L982.46 181.12Z" fill="#a775d8"/><path d="M995.49 176.3L1000.29 181.1L995.49 185.9L990.69 181.1Z" fill="#a775d8"/><path d="M1003.72 176.28L1008.52 181.08L1003.72 185.88L998.92 181.08Z" fill="#a775d8"/><path d="M1011.95 176.26L1016.75 181.06L1011.95 185.86L1007.15 181.06Z" fill="#a775d8"/><path d="M1020.18 176.23L1024.98 181.03L1020.18 185.83L1015.38 181.03Z" fill="#a775d8"/><path d="M1028.41 176.21L1033.21 181.01L1028.41 185.81L1023.61 181.01Z" fill="#a775d8"/><path d="M1036.64 176.19L1041.44 180.99L1036.64 185.79L1031.84 180.99Z" fill="#a775d8"/><path d="M1044.87 176.16L1049.67 180.96L1044.87 185.76L1040.07 180.96Z" fill="#a775d8"/><path d="M1053.1 176.14L1057.9 180.94L1053.1 185.74L1048.3 180.94Z" fill="#a775d8"/><path d="M1061.33 176.12L1066.13 180.92L1061.33 185.72L1056.53 180.92Z" fill="#a775d8"/><path d="M1069.56 176.09L1074.36 180.89L1069.56 185.69L1064.76 180.89Z" fill="#a775d8"/><path d="M1077.79 176.07L1082.59 180.87L1077.79 185.67L1072.99 180.87Z" fill="#a775d8"/><path d="M1086.02 176.05L1090.82 180.85L1086.02 185.65L1081.22 180.85Z" fill="#a775d8"/><path d="M1094.25 176.03L1099.05 180.83L1094.25 185.63L1089.45 180.83Z" fill="#a775d8"/><path d="M1102.48 176L1107.28 180.8L1102.48 185.6L1097.68 180.8Z" fill="#a775d8"/></g><rect x="656" y="23.7" width="449.5" height="358.5" fill="none" stroke="#000" stroke-width="3" /><line x1="693.8" y1="380.7" x2="693.8" y2="377.7" stroke="#000" stroke-width="2.5" /><line x1="739.5" y1="380.7" x2="739.5" y2="374.7" stroke="#000" stroke-width="2.5" /><text transform="translate(739.5,410.5) scale(1,1.05)" font-size="27" text-anchor="middle" fill="#000" >3</text><line x1="785.2" y1="380.7" x2="785.2" y2="377.7" stroke="#000" stroke-width="2.5" /><line x1="830.9" y1="380.7" x2="830.9" y2="374.7" stroke="#000" stroke-width="2.5" /><text transform="translate(830.9,410.5) scale(1,1.05)" font-size="27" text-anchor="middle" fill="#000" >4</text><line x1="876.6" y1="380.7" x2="876.6" y2="377.7" stroke="#000" stroke-width="2.5" /><line x1="922.3" y1="380.7" x2="922.3" y2="374.7" stroke="#000" stroke-width="2.5" /><text transform="translate(922.3,410.5) scale(1,1.05)" font-size="27" text-anchor="middle" fill="#000" >5</text><line x1="968" y1="380.7" x2="968" y2="377.7" stroke="#000" stroke-width="2.5" /><line x1="1013.7" y1="380.7" x2="1013.7" y2="374.7" stroke="#000" stroke-width="2.5" /><text transform="translate(1013.7,410.5) scale(1,1.05)" font-size="27" text-anchor="middle" fill="#000" >6</text><line x1="1059.4" y1="380.7" x2="1059.4" y2="377.7" stroke="#000" stroke-width="2.5" /><text transform="translate(1105.1,410.5) scale(1,1.05)" font-size="27" text-anchor="middle" fill="#000" >7</text><text x="839.5" y="433" font-size="29" text-anchor="start" fill="#000" >T (K)</text><text x="572" y="46" font-size="48" text-anchor="start" fill="#000" >(b)</text><g transform="translate(610,270) rotate(-90)"><text x="0" y="0" font-size="28">ρ</text><text x="18.3" y="7.5" font-size="19" textLength="17" lengthAdjust="spacingAndGlyphs">xx</text><text x="42.5" y="0" font-size="28">(</text><text x="54" y="0" font-size="26" textLength="36" lengthAdjust="spacingAndGlyphs">μΩ</text><text x="96.5" y="0" font-size="28">cm</text><text x="142.8" y="0" font-size="28">)</text></g><line x1="688.2" y1="68.4" x2="735.8" y2="68.4" stroke="#474747" stroke-width="2.6" /><rect x="708" y="64.4" width="8" height="8" fill="#474747"/><text x="741" y="75.9" font-size="24" text-anchor="start" fill="#474747" >x=0</text><line x1="688.2" y1="98.5" x2="735.8" y2="98.5" stroke="#ea3a3f" stroke-width="2.6" /><circle cx="712" cy="98.5" r="4" fill="#ea3a3f"/><text x="741" y="106" font-size="24" text-anchor="start" fill="#ea3a3f" >x=0.02</text><line x1="688.2" y1="128.2" x2="735.8" y2="128.2" stroke="#1d64d8" stroke-width="2.6" /><path d="M712 123.4L716.5 131.9L707.5 131.9Z" fill="#1d64d8"/><text x="741" y="135.7" font-size="24" text-anchor="start" fill="#1d64d8" >x=0.03</text><line x1="688.2" y1="158" x2="735.8" y2="158" stroke="#2e9f5c" stroke-width="2.6" /><path d="M712 162.8L716.5 154.3L707.5 154.3Z" fill="#2e9f5c"/><text x="741" y="165.5" font-size="24" text-anchor="start" fill="#2e9f5c" >x=0.05</text><line x1="688.2" y1="187.4" x2="735.8" y2="187.4" stroke="#a775d8" stroke-width="2.6" /><path d="M712 182.6L716.8 187.4L712 192.2L707.2 187.4Z" fill="#a775d8"/><text x="741" y="194.9" font-size="24" text-anchor="start" fill="#a775d8" >x=0.07</text><defs><clipPath id="clipC"><rect x="107" y="464" width="447" height="355.5"/></clipPath></defs><g clip-path="url(#clipC)"><polyline points="134,496.5 136.2,496.5 138.4,496.5 140.6,496.5 142.8,496.5 145,496.5 147.2,496.5 149.4,496.5 151.6,496.5 153.8,496.5 156,496.5 158.2,496.5 160.4,496.5 162.6,496.5 164.8,496.5 167,496.5 169.2,496.5 171.4,496.5 173.6,496.5 175.8,496.5 178,496.5 180.2,496.5 182.4,496.5 184.6,496.5 186.8,496.5 189,496.5 191.2,496.5 193.4,496.5 195.6,496.5 197.8,496.5 200,496.5 202.2,496.5 204.4,496.5 206.6,496.5 208.8,496.5 211,496.5 213.2,496.5 215.4,496.5 217.6,496.5 219.8,496.5 222,496.5 224.2,496.5 226.4,496.5 228.6,496.5 230.8,496.5 233,496.5 235.2,496.5 237.4,496.5 239.6,496.5 241.8,496.5 244,496.5 246.2,496.5 248.4,496.5 250.6,496.5 252.8,496.5 255,496.5 257.2,496.5 259.4,496.5 261.6,496.5 263.8,496.5 266,496.5 268.2,496.5 270.4,496.5 272.6,496.5 274.8,496.5 277,496.5 279.2,496.5 281.4,496.5 283.6,496.5 285.8,496.5 288,496.5 290.2,496.5 292.4,496.5 294.6,496.5 296.8,496.5 299,496.5 301.2,496.5 303.4,496.5 305.6,496.5 307.8,496.5 310,496.5 312.2,496.5 314.4,496.5 316.6,496.5 318.8,496.5 321,496.5 323.2,496.5 325.4,496.5 327.6,496.5 329.8,496.5 332,496.5 334.2,496.5 336.4,496.5 338.6,496.5 340.8,496.5 343,496.5 345.2,496.5 347.4,496.5 349.6,496.5 351.8,496.5 354,496.5 356.2,496.5 358.4,496.5 360.6,496.5 362.8,496.5 365,496.5 367.2,496.5 369.4,496.5 371.6,496.5 373.8,496.5 376,496.5 378.2,496.5 380.4,496.5 382.6,496.5 384.8,496.5 387,496.5 389.2,496.5 391.4,496.5 393.6,496.5 395.8,496.5 398,496.5 400.2,496.5 402.4,496.5 404.6,496.5 406.8,496.5 409,496.5 411.2,496.5 413.4,496.5 415.6,496.5 417.8,496.5 420,496.5 422.2,496.5 424.4,496.5 426.6,496.5 428.8,496.5 431,496.5 433.2,496.5 435.4,496.5 437.6,496.5 439.8,496.5 442,496.5 444.2,496.5 446.4,496.5 448.6,496.5 450.8,496.5 453,496.5 455.2,496.5 457.4,496.5 459.6,496.5 461.8,496.5 464,496.5 466.2,496.5 468.4,496.5 470.6,496.5 472.8,496.5 475,496.5 477.2,496.5 479.4,496.5 481.6,496.5 483.8,496.5 486,496.5 488.2,496.5 490.4,496.5 492.6,496.5 494.8,496.5 497,496.5 499.2,496.5 501.4,496.5 503.6,496.5 505.8,496.5 508,496.5 510.2,496.5 512.4,496.5 514.6,496.5 516.8,496.5 519,496.5 521.2,496.5 523.4,496.5 525.6,496.5 527.8,496.5 530,496.5 532.2,496.5 534.4,496.5 536.6,496.5 538.8,496.5 541,496.5 543.2,496.5 545.4,496.5 547.6,496.5 549.8,496.5 552,496.5 554.2,496.5" fill="none" stroke="#ea3a3f" stroke-width="1.0" stroke-linejoin="round" stroke-linecap="round" /><path d="M131.75 494.25h4.5v4.5h-4.5zM133.95 494.25h4.5v4.5h-4.5zM136.15 494.25h4.5v4.5h-4.5zM138.35 494.25h4.5v4.5h-4.5zM140.55 494.25h4.5v4.5h-4.5zM142.75 494.25h4.5v4.5h-4.5zM144.95 494.25h4.5v4.5h-4.5zM147.15 494.25h4.5v4.5h-4.5zM149.35 494.25h4.5v4.5h-4.5zM151.55 494.25h4.5v4.5h-4.5zM153.75 494.25h4.5v4.5h-4.5zM155.95 494.25h4.5v4.5h-4.5zM158.15 494.25h4.5v4.5h-4.5zM160.35 494.25h4.5v4.5h-4.5zM162.55 494.25h4.5v4.5h-4.5zM164.75 494.25h4.5v4.5h-4.5zM166.95 494.25h4.5v4.5h-4.5zM169.15 494.25h4.5v4.5h-4.5zM171.35 494.25h4.5v4.5h-4.5zM173.55 494.25h4.5v4.5h-4.5zM175.75 494.25h4.5v4.5h-4.5zM177.95 494.25h4.5v4.5h-4.5zM180.15 494.25h4.5v4.5h-4.5zM182.35 494.25h4.5v4.5h-4.5zM184.55 494.25h4.5v4.5h-4.5zM186.75 494.25h4.5v4.5h-4.5zM188.95 494.25h4.5v4.5h-4.5zM191.15 494.25h4.5v4.5h-4.5zM193.35 494.25h4.5v4.5h-4.5zM195.55 494.25h4.5v4.5h-4.5zM197.75 494.25h4.5v4.5h-4.5zM199.95 494.25h4.5v4.5h-4.5zM202.15 494.25h4.5v4.5h-4.5zM204.35 494.25h4.5v4.5h-4.5zM206.55 494.25h4.5v4.5h-4.5zM208.75 494.25h4.5v4.5h-4.5zM210.95 494.25h4.5v4.5h-4.5zM213.15 494.25h4.5v4.5h-4.5zM215.35 494.25h4.5v4.5h-4.5zM217.55 494.25h4.5v4.5h-4.5zM219.75 494.25h4.5v4.5h-4.5zM221.95 494.25h4.5v4.5h-4.5zM224.15 494.25h4.5v4.5h-4.5zM226.35 494.25h4.5v4.5h-4.5zM228.55 494.25h4.5v4.5h-4.5zM230.75 494.25h4.5v4.5h-4.5zM232.95 494.25h4.5v4.5h-4.5zM235.15 494.25h4.5v4.5h-4.5zM237.35 494.25h4.5v4.5h-4.5zM239.55 494.25h4.5v4.5h-4.5zM241.75 494.25h4.5v4.5h-4.5zM243.95 494.25h4.5v4.5h-4.5zM246.15 494.25h4.5v4.5h-4.5zM248.35 494.25h4.5v4.5h-4.5zM250.55 494.25h4.5v4.5h-4.5zM252.75 494.25h4.5v4.5h-4.5zM254.95 494.25h4.5v4.5h-4.5zM257.15 494.25h4.5v4.5h-4.5zM259.35 494.25h4.5v4.5h-4.5zM261.55 494.25h4.5v4.5h-4.5zM263.75 494.25h4.5v4.5h-4.5zM265.95 494.25h4.5v4.5h-4.5zM268.15 494.25h4.5v4.5h-4.5zM270.35 494.25h4.5v4.5h-4.5zM272.55 494.25h4.5v4.5h-4.5zM274.75 494.25h4.5v4.5h-4.5zM276.95 494.25h4.5v4.5h-4.5zM279.15 494.25h4.5v4.5h-4.5zM281.35 494.25h4.5v4.5h-4.5zM283.55 494.25h4.5v4.5h-4.5zM285.75 494.25h4.5v4.5h-4.5zM287.95 494.25h4.5v4.5h-4.5zM290.15 494.25h4.5v4.5h-4.5zM292.35 494.25h4.5v4.5h-4.5zM294.55 494.25h4.5v4.5h-4.5zM296.75 494.25h4.5v4.5h-4.5zM298.95 494.25h4.5v4.5h-4.5zM301.15 494.25h4.5v4.5h-4.5zM303.35 494.25h4.5v4.5h-4.5zM305.55 494.25h4.5v4.5h-4.5zM307.75 494.25h4.5v4.5h-4.5zM309.95 494.25h4.5v4.5h-4.5zM312.15 494.25h4.5v4.5h-4.5zM314.35 494.25h4.5v4.5h-4.5zM316.55 494.25h4.5v4.5h-4.5zM318.75 494.25h4.5v4.5h-4.5zM320.95 494.25h4.5v4.5h-4.5zM323.15 494.25h4.5v4.5h-4.5zM325.35 494.25h4.5v4.5h-4.5zM327.55 494.25h4.5v4.5h-4.5zM329.75 494.25h4.5v4.5h-4.5zM331.95 494.25h4.5v4.5h-4.5zM334.15 494.25h4.5v4.5h-4.5zM336.35 494.25h4.5v4.5h-4.5zM338.55 494.25h4.5v4.5h-4.5zM340.75 494.25h4.5v4.5h-4.5zM342.95 494.25h4.5v4.5h-4.5zM345.15 494.25h4.5v4.5h-4.5zM347.35 494.25h4.5v4.5h-4.5zM349.55 494.25h4.5v4.5h-4.5zM351.75 494.25h4.5v4.5h-4.5zM353.95 494.25h4.5v4.5h-4.5zM356.15 494.25h4.5v4.5h-4.5zM358.35 494.25h4.5v4.5h-4.5zM360.55 494.25h4.5v4.5h-4.5zM362.75 494.25h4.5v4.5h-4.5zM364.95 494.25h4.5v4.5h-4.5zM367.15 494.25h4.5v4.5h-4.5zM369.35 494.25h4.5v4.5h-4.5zM371.55 494.25h4.5v4.5h-4.5zM373.75 494.25h4.5v4.5h-4.5zM375.95 494.25h4.5v4.5h-4.5zM378.15 494.25h4.5v4.5h-4.5zM380.35 494.25h4.5v4.5h-4.5zM382.55 494.25h4.5v4.5h-4.5zM384.75 494.25h4.5v4.5h-4.5zM386.95 494.25h4.5v4.5h-4.5zM389.15 494.25h4.5v4.5h-4.5zM391.35 494.25h4.5v4.5h-4.5zM393.55 494.25h4.5v4.5h-4.5zM395.75 494.25h4.5v4.5h-4.5zM397.95 494.25h4.5v4.5h-4.5zM400.15 494.25h4.5v4.5h-4.5zM402.35 494.25h4.5v4.5h-4.5zM404.55 494.25h4.5v4.5h-4.5zM406.75 494.25h4.5v4.5h-4.5zM408.95 494.25h4.5v4.5h-4.5zM411.15 494.25h4.5v4.5h-4.5zM413.35 494.25h4.5v4.5h-4.5zM415.55 494.25h4.5v4.5h-4.5zM417.75 494.25h4.5v4.5h-4.5zM419.95 494.25h4.5v4.5h-4.5zM422.15 494.25h4.5v4.5h-4.5zM424.35 494.25h4.5v4.5h-4.5zM426.55 494.25h4.5v4.5h-4.5zM428.75 494.25h4.5v4.5h-4.5zM430.95 494.25h4.5v4.5h-4.5zM433.15 494.25h4.5v4.5h-4.5zM435.35 494.25h4.5v4.5h-4.5zM437.55 494.25h4.5v4.5h-4.5zM439.75 494.25h4.5v4.5h-4.5zM441.95 494.25h4.5v4.5h-4.5zM444.15 494.25h4.5v4.5h-4.5zM446.35 494.25h4.5v4.5h-4.5zM448.55 494.25h4.5v4.5h-4.5zM450.75 494.25h4.5v4.5h-4.5zM452.95 494.25h4.5v4.5h-4.5zM455.15 494.25h4.5v4.5h-4.5zM457.35 494.25h4.5v4.5h-4.5zM459.55 494.25h4.5v4.5h-4.5zM461.75 494.25h4.5v4.5h-4.5zM463.95 494.25h4.5v4.5h-4.5zM466.15 494.25h4.5v4.5h-4.5zM468.35 494.25h4.5v4.5h-4.5zM470.55 494.25h4.5v4.5h-4.5zM472.75 494.25h4.5v4.5h-4.5zM474.95 494.25h4.5v4.5h-4.5zM477.15 494.25h4.5v4.5h-4.5zM479.35 494.25h4.5v4.5h-4.5zM481.55 494.25h4.5v4.5h-4.5zM483.75 494.25h4.5v4.5h-4.5zM485.95 494.25h4.5v4.5h-4.5zM488.15 494.25h4.5v4.5h-4.5zM490.35 494.25h4.5v4.5h-4.5zM492.55 494.25h4.5v4.5h-4.5zM494.75 494.25h4.5v4.5h-4.5zM496.95 494.25h4.5v4.5h-4.5zM499.15 494.25h4.5v4.5h-4.5zM501.35 494.25h4.5v4.5h-4.5zM503.55 494.25h4.5v4.5h-4.5zM505.75 494.25h4.5v4.5h-4.5zM507.95 494.25h4.5v4.5h-4.5zM510.15 494.25h4.5v4.5h-4.5zM512.35 494.25h4.5v4.5h-4.5zM514.55 494.25h4.5v4.5h-4.5zM516.75 494.25h4.5v4.5h-4.5zM518.95 494.25h4.5v4.5h-4.5zM521.15 494.25h4.5v4.5h-4.5zM523.35 494.25h4.5v4.5h-4.5zM525.55 494.25h4.5v4.5h-4.5zM527.75 494.25h4.5v4.5h-4.5zM529.95 494.25h4.5v4.5h-4.5zM532.15 494.25h4.5v4.5h-4.5zM534.35 494.25h4.5v4.5h-4.5zM536.55 494.25h4.5v4.5h-4.5zM538.75 494.25h4.5v4.5h-4.5zM540.95 494.25h4.5v4.5h-4.5zM543.15 494.25h4.5v4.5h-4.5zM545.35 494.25h4.5v4.5h-4.5zM547.55 494.25h4.5v4.5h-4.5zM549.75 494.25h4.5v4.5h-4.5zM551.95 494.25h4.5v4.5h-4.5z" fill="#ea3a3f" shape-rendering="crispEdges"/><polyline points="134,497.5 136.2,497.5 138.4,497.5 140.6,497.5 142.8,497.5 145,497.5 147.2,497.5 149.4,497.5 151.6,497.5 153.8,497.5 156,497.5 158.2,497.5 160.4,497.5 162.6,497.5 164.8,497.5 167,497.5 169.2,497.5 171.4,497.5 173.6,497.5 175.8,497.5 178,497.5 180.2,497.5 182.4,497.5 184.6,497.5 186.8,497.5 189,497.5 191.2,497.5 193.4,497.5 195.6,497.5 197.8,497.5 200,497.5 202.2,497.5 204.4,497.5 206.6,497.5 208.8,497.5 211,497.5 213.2,497.5 215.4,497.5 217.6,497.5 219.8,497.5 222,497.5 224.2,497.5 226.4,497.5 228.6,497.5 230.8,497.5 233,497.5 235.2,497.5 237.4,497.5 239.6,497.5 241.8,497.5 244,497.5 246.2,497.5 248.4,497.5 250.6,497.5 252.8,497.5 255,497.5 257.2,497.5 259.4,497.5 261.6,497.5 263.8,497.5 266,497.5 268.2,497.5 270.4,497.5 272.6,497.5 274.8,497.5 277,497.5 279.2,497.5 281.4,497.5 283.6,497.5 285.8,497.5 288,497.5 290.2,497.5 292.4,497.5 294.6,497.5 296.8,497.5 299,497.5 301.2,497.5 303.4,497.5 305.6,497.5 307.8,497.5 310,497.5 312.2,497.5 314.4,497.5 316.6,497.5 318.8,497.5 321,497.5 323.2,497.5 325.4,497.5 327.6,497.5 329.8,497.5 332,497.5 334.2,497.5 336.4,497.5 338.6,497.5 340.8,497.5 343,497.5 345.2,497.5 347.4,497.5 349.6,497.5 351.8,497.5 354,497.5 356.2,497.5 358.4,497.5 360.6,497.5 362.8,497.5 365,497.5 367.2,497.5 369.4,497.5 371.6,497.5 373.8,497.5 376,497.5 378.2,497.5 380.4,497.5 382.6,497.5 384.8,497.5 387,497.5 389.2,497.5 391.4,497.5 393.6,497.5 395.8,497.5 398,497.5 400.2,497.5 402.4,497.5 404.6,497.5 406.8,497.5 409,497.5 411.2,497.5 413.4,497.5 415.6,497.5 417.8,497.5 420,497.5 422.2,497.5 424.4,497.5 426.6,497.5 428.8,497.5 431,497.5 433.2,497.5 435.4,497.5 437.6,497.5 439.8,497.5 442,497.5 444.2,497.5 446.4,497.5 448.6,497.5 450.8,497.5 453,497.5 455.2,497.5 457.4,497.5 459.6,497.5 461.8,497.5 464,497.5 466.2,497.5 468.4,497.5 470.6,497.5 472.8,497.5 475,497.5 477.2,497.5 479.4,497.5 481.6,497.5 483.8,497.5 486,497.5 488.2,497.5 490.4,497.5 492.6,497.5 494.8,497.5 497,497.5 499.2,497.5 501.4,497.5 503.6,497.5 505.8,497.5 508,497.5 510.2,497.5 512.4,497.5 514.6,497.5 516.8,497.5 519,497.5 521.2,497.5 523.4,497.5 525.6,497.5 527.8,497.5 530,497.5 532.2,497.5 534.4,497.5 536.6,497.5 538.8,497.5 541,497.5 543.2,497.5 545.4,497.5 547.6,497.5 549.8,497.5 552,497.5 554.2,497.5" fill="none" stroke="#2e9f5c" stroke-width="1.0" stroke-linejoin="round" stroke-linecap="round" /><path d="M131.75 495.25h4.5v4.5h-4.5zM133.95 495.25h4.5v4.5h-4.5zM136.15 495.25h4.5v4.5h-4.5zM138.35 495.25h4.5v4.5h-4.5zM140.55 495.25h4.5v4.5h-4.5zM142.75 495.25h4.5v4.5h-4.5zM144.95 495.25h4.5v4.5h-4.5zM147.15 495.25h4.5v4.5h-4.5zM149.35 495.25h4.5v4.5h-4.5zM151.55 495.25h4.5v4.5h-4.5zM153.75 495.25h4.5v4.5h-4.5zM155.95 495.25h4.5v4.5h-4.5zM158.15 495.25h4.5v4.5h-4.5zM160.35 495.25h4.5v4.5h-4.5zM162.55 495.25h4.5v4.5h-4.5zM164.75 495.25h4.5v4.5h-4.5zM166.95 495.25h4.5v4.5h-4.5zM169.15 495.25h4.5v4.5h-4.5zM171.35 495.25h4.5v4.5h-4.5zM173.55 495.25h4.5v4.5h-4.5zM175.75 495.25h4.5v4.5h-4.5zM177.95 495.25h4.5v4.5h-4.5zM180.15 495.25h4.5v4.5h-4.5zM182.35 495.25h4.5v4.5h-4.5zM184.55 495.25h4.5v4.5h-4.5zM186.75 495.25h4.5v4.5h-4.5zM188.95 495.25h4.5v4.5h-4.5zM191.15 495.25h4.5v4.5h-4.5zM193.35 495.25h4.5v4.5h-4.5zM195.55 495.25h4.5v4.5h-4.5zM197.75 495.25h4.5v4.5h-4.5zM199.95 495.25h4.5v4.5h-4.5zM202.15 495.25h4.5v4.5h-4.5zM204.35 495.25h4.5v4.5h-4.5zM206.55 495.25h4.5v4.5h-4.5zM208.75 495.25h4.5v4.5h-4.5zM210.95 495.25h4.5v4.5h-4.5zM213.15 495.25h4.5v4.5h-4.5zM215.35 495.25h4.5v4.5h-4.5zM217.55 495.25h4.5v4.5h-4.5zM219.75 495.25h4.5v4.5h-4.5zM221.95 495.25h4.5v4.5h-4.5zM224.15 495.25h4.5v4.5h-4.5zM226.35 495.25h4.5v4.5h-4.5zM228.55 495.25h4.5v4.5h-4.5zM230.75 495.25h4.5v4.5h-4.5zM232.95 495.25h4.5v4.5h-4.5zM235.15 495.25h4.5v4.5h-4.5zM237.35 495.25h4.5v4.5h-4.5zM239.55 495.25h4.5v4.5h-4.5zM241.75 495.25h4.5v4.5h-4.5zM243.95 495.25h4.5v4.5h-4.5zM246.15 495.25h4.5v4.5h-4.5zM248.35 495.25h4.5v4.5h-4.5zM250.55 495.25h4.5v4.5h-4.5zM252.75 495.25h4.5v4.5h-4.5zM254.95 495.25h4.5v4.5h-4.5zM257.15 495.25h4.5v4.5h-4.5zM259.35 495.25h4.5v4.5h-4.5zM261.55 495.25h4.5v4.5h-4.5zM263.75 495.25h4.5v4.5h-4.5zM265.95 495.25h4.5v4.5h-4.5zM268.15 495.25h4.5v4.5h-4.5zM270.35 495.25h4.5v4.5h-4.5zM272.55 495.25h4.5v4.5h-4.5zM274.75 495.25h4.5v4.5h-4.5zM276.95 495.25h4.5v4.5h-4.5zM279.15 495.25h4.5v4.5h-4.5zM281.35 495.25h4.5v4.5h-4.5zM283.55 495.25h4.5v4.5h-4.5zM285.75 495.25h4.5v4.5h-4.5zM287.95 495.25h4.5v4.5h-4.5zM290.15 495.25h4.5v4.5h-4.5zM292.35 495.25h4.5v4.5h-4.5zM294.55 495.25h4.5v4.5h-4.5zM296.75 495.25h4.5v4.5h-4.5zM298.95 495.25h4.5v4.5h-4.5zM301.15 495.25h4.5v4.5h-4.5zM303.35 495.25h4.5v4.5h-4.5zM305.55 495.25h4.5v4.5h-4.5zM307.75 495.25h4.5v4.5h-4.5zM309.95 495.25h4.5v4.5h-4.5zM312.15 495.25h4.5v4.5h-4.5zM314.35 495.25h4.5v4.5h-4.5zM316.55 495.25h4.5v4.5h-4.5zM318.75 495.25h4.5v4.5h-4.5zM320.95 495.25h4.5v4.5h-4.5zM323.15 495.25h4.5v4.5h-4.5zM325.35 495.25h4.5v4.5h-4.5zM327.55 495.25h4.5v4.5h-4.5zM329.75 495.25h4.5v4.5h-4.5zM331.95 495.25h4.5v4.5h-4.5zM334.15 495.25h4.5v4.5h-4.5zM336.35 495.25h4.5v4.5h-4.5zM338.55 495.25h4.5v4.5h-4.5zM340.75 495.25h4.5v4.5h-4.5zM342.95 495.25h4.5v4.5h-4.5zM345.15 495.25h4.5v4.5h-4.5zM347.35 495.25h4.5v4.5h-4.5zM349.55 495.25h4.5v4.5h-4.5zM351.75 495.25h4.5v4.5h-4.5zM353.95 495.25h4.5v4.5h-4.5zM356.15 495.25h4.5v4.5h-4.5zM358.35 495.25h4.5v4.5h-4.5zM360.55 495.25h4.5v4.5h-4.5zM362.75 495.25h4.5v4.5h-4.5zM364.95 495.25h4.5v4.5h-4.5zM367.15 495.25h4.5v4.5h-4.5zM369.35 495.25h4.5v4.5h-4.5zM371.55 495.25h4.5v4.5h-4.5zM373.75 495.25h4.5v4.5h-4.5zM375.95 495.25h4.5v4.5h-4.5zM378.15 495.25h4.5v4.5h-4.5zM380.35 495.25h4.5v4.5h-4.5zM382.55 495.25h4.5v4.5h-4.5zM384.75 495.25h4.5v4.5h-4.5zM386.95 495.25h4.5v4.5h-4.5zM389.15 495.25h4.5v4.5h-4.5zM391.35 495.25h4.5v4.5h-4.5zM393.55 495.25h4.5v4.5h-4.5zM395.75 495.25h4.5v4.5h-4.5zM397.95 495.25h4.5v4.5h-4.5zM400.15 495.25h4.5v4.5h-4.5zM402.35 495.25h4.5v4.5h-4.5zM404.55 495.25h4.5v4.5h-4.5zM406.75 495.25h4.5v4.5h-4.5zM408.95 495.25h4.5v4.5h-4.5zM411.15 495.25h4.5v4.5h-4.5zM413.35 495.25h4.5v4.5h-4.5zM415.55 495.25h4.5v4.5h-4.5zM417.75 495.25h4.5v4.5h-4.5zM419.95 495.25h4.5v4.5h-4.5zM422.15 495.25h4.5v4.5h-4.5zM424.35 495.25h4.5v4.5h-4.5zM426.55 495.25h4.5v4.5h-4.5zM428.75 495.25h4.5v4.5h-4.5zM430.95 495.25h4.5v4.5h-4.5zM433.15 495.25h4.5v4.5h-4.5zM435.35 495.25h4.5v4.5h-4.5zM437.55 495.25h4.5v4.5h-4.5zM439.75 495.25h4.5v4.5h-4.5zM441.95 495.25h4.5v4.5h-4.5zM444.15 495.25h4.5v4.5h-4.5zM446.35 495.25h4.5v4.5h-4.5zM448.55 495.25h4.5v4.5h-4.5zM450.75 495.25h4.5v4.5h-4.5zM452.95 495.25h4.5v4.5h-4.5zM455.15 495.25h4.5v4.5h-4.5zM457.35 495.25h4.5v4.5h-4.5zM459.55 495.25h4.5v4.5h-4.5zM461.75 495.25h4.5v4.5h-4.5zM463.95 495.25h4.5v4.5h-4.5zM466.15 495.25h4.5v4.5h-4.5zM468.35 495.25h4.5v4.5h-4.5zM470.55 495.25h4.5v4.5h-4.5zM472.75 495.25h4.5v4.5h-4.5zM474.95 495.25h4.5v4.5h-4.5zM477.15 495.25h4.5v4.5h-4.5zM479.35 495.25h4.5v4.5h-4.5zM481.55 495.25h4.5v4.5h-4.5zM483.75 495.25h4.5v4.5h-4.5zM485.95 495.25h4.5v4.5h-4.5zM488.15 495.25h4.5v4.5h-4.5zM490.35 495.25h4.5v4.5h-4.5zM492.55 495.25h4.5v4.5h-4.5zM494.75 495.25h4.5v4.5h-4.5zM496.95 495.25h4.5v4.5h-4.5zM499.15 495.25h4.5v4.5h-4.5zM501.35 495.25h4.5v4.5h-4.5zM503.55 495.25h4.5v4.5h-4.5zM505.75 495.25h4.5v4.5h-4.5zM507.95 495.25h4.5v4.5h-4.5zM510.15 495.25h4.5v4.5h-4.5zM512.35 495.25h4.5v4.5h-4.5zM514.55 495.25h4.5v4.5h-4.5zM516.75 495.25h4.5v4.5h-4.5zM518.95 495.25h4.5v4.5h-4.5zM521.15 495.25h4.5v4.5h-4.5zM523.35 495.25h4.5v4.5h-4.5zM525.55 495.25h4.5v4.5h-4.5zM527.75 495.25h4.5v4.5h-4.5zM529.95 495.25h4.5v4.5h-4.5zM532.15 495.25h4.5v4.5h-4.5zM534.35 495.25h4.5v4.5h-4.5zM536.55 495.25h4.5v4.5h-4.5zM538.75 495.25h4.5v4.5h-4.5zM540.95 495.25h4.5v4.5h-4.5zM543.15 495.25h4.5v4.5h-4.5zM545.35 495.25h4.5v4.5h-4.5zM547.55 495.25h4.5v4.5h-4.5zM549.75 495.25h4.5v4.5h-4.5zM551.95 495.25h4.5v4.5h-4.5z" fill="#2e9f5c" shape-rendering="crispEdges"/><polyline points="134,499.9 136.2,499.88 138.4,499.86 140.6,499.83 142.8,499.81 145,499.79 147.2,499.77 149.4,499.74 151.6,499.72 153.8,499.7 156,499.68 158.2,499.65 160.4,499.63 162.6,499.61 164.8,499.59 167,499.56 169.2,499.54 171.4,499.52 173.6,499.5 175.8,499.47 178,499.45 180.2,499.43 182.4,499.41 184.6,499.38 186.8,499.36 189,499.34 191.2,499.32 193.4,499.29 195.6,499.27 197.8,499.25 200,499.23 202.2,499.2 204.4,499.18 206.6,499.16 208.8,499.14 211,499.11 213.2,499.09 215.4,499.07 217.6,499.05 219.8,499.02 222,499 224.2,498.98 226.4,498.96 228.6,498.93 230.8,498.91 233,498.89 235.2,498.87 237.4,498.84 239.6,498.82 241.8,498.8 244,498.78 246.2,498.75 248.4,498.73 250.6,498.71 252.8,498.69 255,498.66 257.2,498.64 259.4,498.62 261.6,498.6 263.8,498.57 266,498.55 268.2,498.53 270.4,498.51 272.6,498.48 274.8,498.46 277,498.44 279.2,498.42 281.4,498.39 283.6,498.37 285.8,498.35 288,498.33 290.2,498.3 292.4,498.28 294.6,498.26 296.8,498.24 299,498.21 301.2,498.19 303.4,498.17 305.6,498.15 307.8,498.12 310,498.1 312.2,498.08 314.4,498.06 316.6,498.03 318.8,498.01 321,497.99 323.2,497.97 325.4,497.95 327.6,497.92 329.8,497.9 332,497.88 334.2,497.86 336.4,497.83 338.6,497.81 340.8,497.79 343,497.77 345.2,497.74 347.4,497.72 349.6,497.7 351.8,497.68 354,497.65 356.2,497.63 358.4,497.61 360.6,497.59 362.8,497.56 365,497.54 367.2,497.52 369.4,497.5 371.6,497.47 373.8,497.45 376,497.43 378.2,497.41 380.4,497.38 382.6,497.36 384.8,497.34 387,497.32 389.2,497.29 391.4,497.27 393.6,497.25 395.8,497.23 398,497.2 400.2,497.18 402.4,497.16 404.6,497.14 406.8,497.11 409,497.09 411.2,497.07 413.4,497.05 415.6,497.02 417.8,497 420,496.98 422.2,496.96 424.4,496.93 426.6,496.91 428.8,496.89 431,496.87 433.2,496.84 435.4,496.82 437.6,496.8 439.8,496.78 442,496.75 444.2,496.73 446.4,496.71 448.6,496.69 450.8,496.66 453,496.64 455.2,496.62 457.4,496.6 459.6,496.57 461.8,496.55 464,496.53 466.2,496.51 468.4,496.48 470.6,496.46 472.8,496.44 475,496.42 477.2,496.39 479.4,496.37 481.6,496.35 483.8,496.33 486,496.3 488.2,496.28 490.4,496.26 492.6,496.24 494.8,496.21 497,496.19 499.2,496.17 501.4,496.15 503.6,496.12 505.8,496.1 508,496.08 510.2,496.06 512.4,496.04 514.6,496.01 516.8,495.99 519,495.97 521.2,495.95 523.4,495.92 525.6,495.9 527.8,495.88 530,495.86 532.2,495.83 534.4,495.81 536.6,495.79 538.8,495.77 541,495.74 543.2,495.72 545.4,495.7 547.6,495.68 549.8,495.65 552,495.63 554.2,495.61" fill="none" stroke="#1d64d8" stroke-width="1.0" stroke-linejoin="round" stroke-linecap="round" /><path d="M131.75 497.65h4.5v4.5h-4.5zM133.95 497.63h4.5v4.5h-4.5zM136.15 497.61h4.5v4.5h-4.5zM138.35 497.58h4.5v4.5h-4.5zM140.55 497.56h4.5v4.5h-4.5zM142.75 497.54h4.5v4.5h-4.5zM144.95 497.52h4.5v4.5h-4.5zM147.15 497.49h4.5v4.5h-4.5zM149.35 497.47h4.5v4.5h-4.5zM151.55 497.45h4.5v4.5h-4.5zM153.75 497.43h4.5v4.5h-4.5zM155.95 497.4h4.5v4.5h-4.5zM158.15 497.38h4.5v4.5h-4.5zM160.35 497.36h4.5v4.5h-4.5zM162.55 497.34h4.5v4.5h-4.5zM164.75 497.31h4.5v4.5h-4.5zM166.95 497.29h4.5v4.5h-4.5zM169.15 497.27h4.5v4.5h-4.5zM171.35 497.25h4.5v4.5h-4.5zM173.55 497.22h4.5v4.5h-4.5zM175.75 497.2h4.5v4.5h-4.5zM177.95 497.18h4.5v4.5h-4.5zM180.15 497.16h4.5v4.5h-4.5zM182.35 497.13h4.5v4.5h-4.5zM184.55 497.11h4.5v4.5h-4.5zM186.75 497.09h4.5v4.5h-4.5zM188.95 497.07h4.5v4.5h-4.5zM191.15 497.04h4.5v4.5h-4.5zM193.35 497.02h4.5v4.5h-4.5zM195.55 497h4.5v4.5h-4.5zM197.75 496.98h4.5v4.5h-4.5zM199.95 496.95h4.5v4.5h-4.5zM202.15 496.93h4.5v4.5h-4.5zM204.35 496.91h4.5v4.5h-4.5zM206.55 496.89h4.5v4.5h-4.5zM208.75 496.86h4.5v4.5h-4.5zM210.95 496.84h4.5v4.5h-4.5zM213.15 496.82h4.5v4.5h-4.5zM215.35 496.8h4.5v4.5h-4.5zM217.55 496.77h4.5v4.5h-4.5zM219.75 496.75h4.5v4.5h-4.5zM221.95 496.73h4.5v4.5h-4.5zM224.15 496.71h4.5v4.5h-4.5zM226.35 496.68h4.5v4.5h-4.5zM228.55 496.66h4.5v4.5h-4.5zM230.75 496.64h4.5v4.5h-4.5zM232.95 496.62h4.5v4.5h-4.5zM235.15 496.59h4.5v4.5h-4.5zM237.35 496.57h4.5v4.5h-4.5zM239.55 496.55h4.5v4.5h-4.5zM241.75 496.53h4.5v4.5h-4.5zM243.95 496.5h4.5v4.5h-4.5zM246.15 496.48h4.5v4.5h-4.5zM248.35 496.46h4.5v4.5h-4.5zM250.55 496.44h4.5v4.5h-4.5zM252.75 496.41h4.5v4.5h-4.5zM254.95 496.39h4.5v4.5h-4.5zM257.15 496.37h4.5v4.5h-4.5zM259.35 496.35h4.5v4.5h-4.5zM261.55 496.32h4.5v4.5h-4.5zM263.75 496.3h4.5v4.5h-4.5zM265.95 496.28h4.5v4.5h-4.5zM268.15 496.26h4.5v4.5h-4.5zM270.35 496.23h4.5v4.5h-4.5zM272.55 496.21h4.5v4.5h-4.5zM274.75 496.19h4.5v4.5h-4.5zM276.95 496.17h4.5v4.5h-4.5zM279.15 496.14h4.5v4.5h-4.5zM281.35 496.12h4.5v4.5h-4.5zM283.55 496.1h4.5v4.5h-4.5zM285.75 496.08h4.5v4.5h-4.5zM287.95 496.05h4.5v4.5h-4.5zM290.15 496.03h4.5v4.5h-4.5zM292.35 496.01h4.5v4.5h-4.5zM294.55 495.99h4.5v4.5h-4.5zM296.75 495.96h4.5v4.5h-4.5zM298.95 495.94h4.5v4.5h-4.5zM301.15 495.92h4.5v4.5h-4.5zM303.35 495.9h4.5v4.5h-4.5zM305.55 495.87h4.5v4.5h-4.5zM307.75 495.85h4.5v4.5h-4.5zM309.95 495.83h4.5v4.5h-4.5zM312.15 495.81h4.5v4.5h-4.5zM314.35 495.78h4.5v4.5h-4.5zM316.55 495.76h4.5v4.5h-4.5zM318.75 495.74h4.5v4.5h-4.5zM320.95 495.72h4.5v4.5h-4.5zM323.15 495.7h4.5v4.5h-4.5zM325.35 495.67h4.5v4.5h-4.5zM327.55 495.65h4.5v4.5h-4.5zM329.75 495.63h4.5v4.5h-4.5zM331.95 495.61h4.5v4.5h-4.5zM334.15 495.58h4.5v4.5h-4.5zM336.35 495.56h4.5v4.5h-4.5zM338.55 495.54h4.5v4.5h-4.5zM340.75 495.52h4.5v4.5h-4.5zM342.95 495.49h4.5v4.5h-4.5zM345.15 495.47h4.5v4.5h-4.5zM347.35 495.45h4.5v4.5h-4.5zM349.55 495.43h4.5v4.5h-4.5zM351.75 495.4h4.5v4.5h-4.5zM353.95 495.38h4.5v4.5h-4.5zM356.15 495.36h4.5v4.5h-4.5zM358.35 495.34h4.5v4.5h-4.5zM360.55 495.31h4.5v4.5h-4.5zM362.75 495.29h4.5v4.5h-4.5zM364.95 495.27h4.5v4.5h-4.5zM367.15 495.25h4.5v4.5h-4.5zM369.35 495.22h4.5v4.5h-4.5zM371.55 495.2h4.5v4.5h-4.5zM373.75 495.18h4.5v4.5h-4.5zM375.95 495.16h4.5v4.5h-4.5zM378.15 495.13h4.5v4.5h-4.5zM380.35 495.11h4.5v4.5h-4.5zM382.55 495.09h4.5v4.5h-4.5zM384.75 495.07h4.5v4.5h-4.5zM386.95 495.04h4.5v4.5h-4.5zM389.15 495.02h4.5v4.5h-4.5zM391.35 495h4.5v4.5h-4.5zM393.55 494.98h4.5v4.5h-4.5zM395.75 494.95h4.5v4.5h-4.5zM397.95 494.93h4.5v4.5h-4.5zM400.15 494.91h4.5v4.5h-4.5zM402.35 494.89h4.5v4.5h-4.5zM404.55 494.86h4.5v4.5h-4.5zM406.75 494.84h4.5v4.5h-4.5zM408.95 494.82h4.5v4.5h-4.5zM411.15 494.8h4.5v4.5h-4.5zM413.35 494.77h4.5v4.5h-4.5zM415.55 494.75h4.5v4.5h-4.5zM417.75 494.73h4.5v4.5h-4.5zM419.95 494.71h4.5v4.5h-4.5zM422.15 494.68h4.5v4.5h-4.5zM424.35 494.66h4.5v4.5h-4.5zM426.55 494.64h4.5v4.5h-4.5zM428.75 494.62h4.5v4.5h-4.5zM430.95 494.59h4.5v4.5h-4.5zM433.15 494.57h4.5v4.5h-4.5zM435.35 494.55h4.5v4.5h-4.5zM437.55 494.53h4.5v4.5h-4.5zM439.75 494.5h4.5v4.5h-4.5zM441.95 494.48h4.5v4.5h-4.5zM444.15 494.46h4.5v4.5h-4.5zM446.35 494.44h4.5v4.5h-4.5zM448.55 494.41h4.5v4.5h-4.5zM450.75 494.39h4.5v4.5h-4.5zM452.95 494.37h4.5v4.5h-4.5zM455.15 494.35h4.5v4.5h-4.5zM457.35 494.32h4.5v4.5h-4.5zM459.55 494.3h4.5v4.5h-4.5zM461.75 494.28h4.5v4.5h-4.5zM463.95 494.26h4.5v4.5h-4.5zM466.15 494.23h4.5v4.5h-4.5zM468.35 494.21h4.5v4.5h-4.5zM470.55 494.19h4.5v4.5h-4.5zM472.75 494.17h4.5v4.5h-4.5zM474.95 494.14h4.5v4.5h-4.5zM477.15 494.12h4.5v4.5h-4.5zM479.35 494.1h4.5v4.5h-4.5zM481.55 494.08h4.5v4.5h-4.5zM483.75 494.05h4.5v4.5h-4.5zM485.95 494.03h4.5v4.5h-4.5zM488.15 494.01h4.5v4.5h-4.5zM490.35 493.99h4.5v4.5h-4.5zM492.55 493.96h4.5v4.5h-4.5zM494.75 493.94h4.5v4.5h-4.5zM496.95 493.92h4.5v4.5h-4.5zM499.15 493.9h4.5v4.5h-4.5zM501.35 493.87h4.5v4.5h-4.5zM503.55 493.85h4.5v4.5h-4.5zM505.75 493.83h4.5v4.5h-4.5zM507.95 493.81h4.5v4.5h-4.5zM510.15 493.79h4.5v4.5h-4.5zM512.35 493.76h4.5v4.5h-4.5zM514.55 493.74h4.5v4.5h-4.5zM516.75 493.72h4.5v4.5h-4.5zM518.95 493.7h4.5v4.5h-4.5zM521.15 493.67h4.5v4.5h-4.5zM523.35 493.65h4.5v4.5h-4.5zM525.55 493.63h4.5v4.5h-4.5zM527.75 493.61h4.5v4.5h-4.5zM529.95 493.58h4.5v4.5h-4.5zM532.15 493.56h4.5v4.5h-4.5zM534.35 493.54h4.5v4.5h-4.5zM536.55 493.52h4.5v4.5h-4.5zM538.75 493.49h4.5v4.5h-4.5zM540.95 493.47h4.5v4.5h-4.5zM543.15 493.45h4.5v4.5h-4.5zM545.35 493.43h4.5v4.5h-4.5zM547.55 493.4h4.5v4.5h-4.5zM549.75 493.38h4.5v4.5h-4.5zM551.95 493.36h4.5v4.5h-4.5z" fill="#1d64d8" shape-rendering="crispEdges"/><polyline points="134,493 136.6,492.12 139.2,491.7 141.8,492.82 144.4,492.6 147,491.61 149.6,492.4 152.2,492.93 154.8,491.83 157.4,491.94 160,492.98 162.6,492.27 165.2,491.64 167.8,492.71 170.4,492.73 173,491.65 175.6,492.25 178.2,492.98 180.8,491.95 183.4,491.82 186,492.92 188.6,492.42 191.2,491.6 193.8,492.58 196.4,492.84 199,491.71 201.6,492.1 204.2,493 206.8,492.09 209.4,491.72 212,492.84 214.6,492.57 217.2,491.6 219.8,492.43 222.4,492.92 225,491.81 227.6,491.96 230.2,492.98 232.8,492.24 235.4,491.65 238,492.73 240.6,492.7 243.2,491.64 245.8,492.28 248.4,492.98 251,491.93 253.6,491.84 256.2,492.94 258.8,492.4 261.4,491.61 264,492.6 266.6,492.82 269.2,491.7 271.8,492.13 274.4,493 277,492.07 279.6,491.73 282.2,492.86 284.8,492.54 287.4,491.6 290,492.46 292.6,492.91 295.2,491.79 297.8,491.99 300.4,492.99 303,492.22 305.6,491.66 308.2,492.75 310.8,492.68 313.4,491.63 316,492.31 318.6,492.97 321.2,491.91 323.8,491.86 326.4,492.95 329,492.37 331.6,491.61 334.2,492.63 336.8,492.8 339.4,491.68 342,492.16 344.6,493 347.2,492.04 349.8,491.75 352.4,492.88 355,492.52 357.6,491.6 360.2,492.49 362.8,492.89 365.4,491.77 368,492.01 370.6,492.99 373.2,492.19 375.8,491.67 378.4,492.78 381,492.66 383.6,491.62 386.2,492.34 388.8,492.96 391.4,491.88 394,491.88 396.6,492.96 399.2,492.34 401.8,491.62 404.4,492.65 407,492.78 409.6,491.67 412.2,492.19 414.8,492.99 417.4,492.01 420,491.77 422.6,492.89 425.2,492.49 427.8,491.6 430.4,492.51 433,492.88 435.6,491.75 438.2,492.04 440.8,493 443.4,492.16 446,491.68 448.6,492.8 451.2,492.63 453.8,491.61 456.4,492.37 459,492.95 461.6,491.86 464.2,491.9 466.8,492.97 469.4,492.31 472,491.63 474.6,492.68 477.2,492.76 479.8,491.66 482.4,492.21 485,492.99 487.6,491.99 490.2,491.79 492.8,492.91 495.4,492.46 498,491.6 500.6,492.54 503.2,492.86 505.8,491.74 508.4,492.07 511,493 513.6,492.13 516.2,491.7 518.8,492.82 521.4,492.61 524,491.61 526.6,492.39 529.2,492.94 531.8,491.84 534.4,491.93 537,492.98 539.6,492.28 542.2,491.63 544.8,492.7 547.4,492.73 550,491.65 552.6,492.24 555.2,492.98" fill="none" stroke="#111" stroke-width="2.4" stroke-linejoin="round" stroke-linecap="round" /><polyline points="134,606.5 136.2,606.38 138.4,606.27 140.6,606.15 142.8,606.04 145,605.93 147.2,605.81 149.4,605.7 151.6,605.58 153.8,605.46 156,605.34 158.2,605.22 160.4,605.1 162.6,604.97 164.8,604.83 167,604.7 169.2,604.55 171.4,604.41 173.6,604.26 175.8,604.12 178,603.98 180.2,603.84 182.4,603.7 184.6,603.55 186.8,603.4 189,603.23 191.2,603.06 193.4,602.85 195.6,602.62 197.8,602.36 200,602.01 202.2,601.6 204.4,601.07 206.6,599.91 208.8,597 211,593.49 213.2,589.09 215.4,584.25 217.6,579.38 219.8,574.36 222,569 224.2,563.35 226.4,557.42 228.6,551.2 230.8,544.68 233,537.64 235.2,530.36 237.4,523.5 239.6,517.43 241.8,512.19 244,507.78 246.2,503.9 248.4,500.61 250.6,496.53 252.8,495.84 255,495.59 257.2,495.39 259.4,495.15 261.6,495.05 263.8,495.03 266,495.02 268.2,495.02 270.4,495.02 272.6,495.02 274.8,495.02 277,495.02 279.2,495.02 281.4,495.02 283.6,495.02 285.8,495.02 288,495.01 290.2,495.01 292.4,495.01 294.6,495.01 296.8,495 299,495 301.2,495 303.4,495 305.6,494.99 307.8,494.99 310,494.99 312.2,494.99 314.4,494.99 316.6,494.98 318.8,494.98 321,494.98 323.2,494.98 325.4,494.98 327.6,494.97 329.8,494.97 332,494.97 334.2,494.97 336.4,494.97 338.6,494.97 340.8,494.97 343,494.97 345.2,494.97 347.4,494.97 349.6,494.97 351.8,494.97 354,494.97 356.2,494.96 358.4,494.96 360.6,494.96 362.8,494.96 365,494.96 367.2,494.96 369.4,494.96 371.6,494.96 373.8,494.96 376,494.96 378.2,494.96 380.4,494.96 382.6,494.96 384.8,494.96 387,494.96 389.2,494.96 391.4,494.96 393.6,494.96 395.8,494.96 398,494.96 400.2,494.96 402.4,494.96 404.6,494.97 406.8,494.97 409,494.97 411.2,494.97 413.4,494.97 415.6,494.97 417.8,494.97 420,494.97 422.2,494.97 424.4,494.97 426.6,494.97 428.8,494.97 431,494.97 433.2,494.97 435.4,494.97 437.6,494.97 439.8,494.97 442,494.97 444.2,494.97 446.4,494.97 448.6,494.97 450.8,494.97 453,494.97 455.2,494.97 457.4,494.98 459.6,494.98 461.8,494.98 464,494.98 466.2,494.98 468.4,494.98 470.6,494.98 472.8,494.98 475,494.98 477.2,494.98 479.4,494.98 481.6,494.98 483.8,494.98 486,494.98 488.2,494.98 490.4,494.98 492.6,494.98 494.8,494.99 497,494.99 499.2,494.99 501.4,494.99 503.6,494.99 505.8,494.99 508,494.99 510.2,494.99 512.4,494.99 514.6,494.99 516.8,494.99 519,494.99 521.2,494.99 523.4,494.99 525.6,494.99 527.8,494.99 530,495 532.2,495 534.4,495 536.6,495 538.8,495 541,495 543.2,495 545.4,495 547.6,495 549.8,495 552,495 554.2,495" fill="none" stroke="#474747" stroke-width="1.0" stroke-linejoin="round" stroke-linecap="round" /><path d="M131.7 604.2h4.6v4.6h-4.6zM133.9 604.08h4.6v4.6h-4.6zM136.1 603.97h4.6v4.6h-4.6zM138.3 603.85h4.6v4.6h-4.6zM140.5 603.74h4.6v4.6h-4.6zM142.7 603.63h4.6v4.6h-4.6zM144.9 603.51h4.6v4.6h-4.6zM147.1 603.4h4.6v4.6h-4.6zM149.3 603.28h4.6v4.6h-4.6zM151.5 603.16h4.6v4.6h-4.6zM153.7 603.04h4.6v4.6h-4.6zM155.9 602.92h4.6v4.6h-4.6zM158.1 602.8h4.6v4.6h-4.6zM160.3 602.67h4.6v4.6h-4.6zM162.5 602.53h4.6v4.6h-4.6zM164.7 602.4h4.6v4.6h-4.6zM166.9 602.25h4.6v4.6h-4.6zM169.1 602.11h4.6v4.6h-4.6zM171.3 601.96h4.6v4.6h-4.6zM173.5 601.82h4.6v4.6h-4.6zM175.7 601.68h4.6v4.6h-4.6zM177.9 601.54h4.6v4.6h-4.6zM180.1 601.4h4.6v4.6h-4.6zM182.3 601.25h4.6v4.6h-4.6zM184.5 601.1h4.6v4.6h-4.6zM186.7 600.93h4.6v4.6h-4.6zM188.9 600.76h4.6v4.6h-4.6zM191.1 600.55h4.6v4.6h-4.6zM193.3 600.32h4.6v4.6h-4.6zM195.5 600.06h4.6v4.6h-4.6zM197.7 599.71h4.6v4.6h-4.6zM199.9 599.3h4.6v4.6h-4.6zM202.1 598.77h4.6v4.6h-4.6zM204.3 597.61h4.6v4.6h-4.6zM206.5 594.7h4.6v4.6h-4.6zM208.7 591.19h4.6v4.6h-4.6zM210.9 586.79h4.6v4.6h-4.6zM213.1 581.95h4.6v4.6h-4.6zM215.3 577.08h4.6v4.6h-4.6zM217.5 572.06h4.6v4.6h-4.6zM219.7 566.7h4.6v4.6h-4.6zM221.9 561.05h4.6v4.6h-4.6zM224.1 555.12h4.6v4.6h-4.6zM226.3 548.9h4.6v4.6h-4.6zM228.5 542.38h4.6v4.6h-4.6zM230.7 535.34h4.6v4.6h-4.6zM232.9 528.06h4.6v4.6h-4.6zM235.1 521.2h4.6v4.6h-4.6zM237.3 515.13h4.6v4.6h-4.6zM239.5 509.89h4.6v4.6h-4.6zM241.7 505.48h4.6v4.6h-4.6zM243.9 501.6h4.6v4.6h-4.6zM246.1 498.31h4.6v4.6h-4.6zM248.3 494.23h4.6v4.6h-4.6zM250.5 493.54h4.6v4.6h-4.6zM252.7 493.29h4.6v4.6h-4.6zM254.9 493.09h4.6v4.6h-4.6zM257.1 492.85h4.6v4.6h-4.6zM259.3 492.75h4.6v4.6h-4.6zM261.5 492.73h4.6v4.6h-4.6zM263.7 492.72h4.6v4.6h-4.6zM265.9 492.72h4.6v4.6h-4.6zM268.1 492.72h4.6v4.6h-4.6zM270.3 492.72h4.6v4.6h-4.6zM272.5 492.72h4.6v4.6h-4.6zM274.7 492.72h4.6v4.6h-4.6zM276.9 492.72h4.6v4.6h-4.6zM279.1 492.72h4.6v4.6h-4.6zM281.3 492.72h4.6v4.6h-4.6zM283.5 492.72h4.6v4.6h-4.6zM285.7 492.71h4.6v4.6h-4.6zM287.9 492.71h4.6v4.6h-4.6zM290.1 492.71h4.6v4.6h-4.6zM292.3 492.71h4.6v4.6h-4.6zM294.5 492.7h4.6v4.6h-4.6zM296.7 492.7h4.6v4.6h-4.6zM298.9 492.7h4.6v4.6h-4.6zM301.1 492.7h4.6v4.6h-4.6zM303.3 492.69h4.6v4.6h-4.6zM305.5 492.69h4.6v4.6h-4.6zM307.7 492.69h4.6v4.6h-4.6zM309.9 492.69h4.6v4.6h-4.6zM312.1 492.69h4.6v4.6h-4.6zM314.3 492.68h4.6v4.6h-4.6zM316.5 492.68h4.6v4.6h-4.6zM318.7 492.68h4.6v4.6h-4.6zM320.9 492.68h4.6v4.6h-4.6zM323.1 492.68h4.6v4.6h-4.6zM325.3 492.67h4.6v4.6h-4.6zM327.5 492.67h4.6v4.6h-4.6zM329.7 492.67h4.6v4.6h-4.6zM331.9 492.67h4.6v4.6h-4.6zM334.1 492.67h4.6v4.6h-4.6zM336.3 492.67h4.6v4.6h-4.6zM338.5 492.67h4.6v4.6h-4.6zM340.7 492.67h4.6v4.6h-4.6zM342.9 492.67h4.6v4.6h-4.6zM345.1 492.67h4.6v4.6h-4.6zM347.3 492.67h4.6v4.6h-4.6zM349.5 492.67h4.6v4.6h-4.6zM351.7 492.67h4.6v4.6h-4.6zM353.9 492.66h4.6v4.6h-4.6zM356.1 492.66h4.6v4.6h-4.6zM358.3 492.66h4.6v4.6h-4.6zM360.5 492.66h4.6v4.6h-4.6zM362.7 492.66h4.6v4.6h-4.6zM364.9 492.66h4.6v4.6h-4.6zM367.1 492.66h4.6v4.6h-4.6zM369.3 492.66h4.6v4.6h-4.6zM371.5 492.66h4.6v4.6h-4.6zM373.7 492.66h4.6v4.6h-4.6zM375.9 492.66h4.6v4.6h-4.6zM378.1 492.66h4.6v4.6h-4.6zM380.3 492.66h4.6v4.6h-4.6zM382.5 492.66h4.6v4.6h-4.6zM384.7 492.66h4.6v4.6h-4.6zM386.9 492.66h4.6v4.6h-4.6zM389.1 492.66h4.6v4.6h-4.6zM391.3 492.66h4.6v4.6h-4.6zM393.5 492.66h4.6v4.6h-4.6zM395.7 492.66h4.6v4.6h-4.6zM397.9 492.66h4.6v4.6h-4.6zM400.1 492.66h4.6v4.6h-4.6zM402.3 492.67h4.6v4.6h-4.6zM404.5 492.67h4.6v4.6h-4.6zM406.7 492.67h4.6v4.6h-4.6zM408.9 492.67h4.6v4.6h-4.6zM411.1 492.67h4.6v4.6h-4.6zM413.3 492.67h4.6v4.6h-4.6zM415.5 492.67h4.6v4.6h-4.6zM417.7 492.67h4.6v4.6h-4.6zM419.9 492.67h4.6v4.6h-4.6zM422.1 492.67h4.6v4.6h-4.6zM424.3 492.67h4.6v4.6h-4.6zM426.5 492.67h4.6v4.6h-4.6zM428.7 492.67h4.6v4.6h-4.6zM430.9 492.67h4.6v4.6h-4.6zM433.1 492.67h4.6v4.6h-4.6zM435.3 492.67h4.6v4.6h-4.6zM437.5 492.67h4.6v4.6h-4.6zM439.7 492.67h4.6v4.6h-4.6zM441.9 492.67h4.6v4.6h-4.6zM444.1 492.67h4.6v4.6h-4.6zM446.3 492.67h4.6v4.6h-4.6zM448.5 492.67h4.6v4.6h-4.6zM450.7 492.67h4.6v4.6h-4.6zM452.9 492.67h4.6v4.6h-4.6zM455.1 492.68h4.6v4.6h-4.6zM457.3 492.68h4.6v4.6h-4.6zM459.5 492.68h4.6v4.6h-4.6zM461.7 492.68h4.6v4.6h-4.6zM463.9 492.68h4.6v4.6h-4.6zM466.1 492.68h4.6v4.6h-4.6zM468.3 492.68h4.6v4.6h-4.6zM470.5 492.68h4.6v4.6h-4.6zM472.7 492.68h4.6v4.6h-4.6zM474.9 492.68h4.6v4.6h-4.6zM477.1 492.68h4.6v4.6h-4.6zM479.3 492.68h4.6v4.6h-4.6zM481.5 492.68h4.6v4.6h-4.6zM483.7 492.68h4.6v4.6h-4.6zM485.9 492.68h4.6v4.6h-4.6zM488.1 492.68h4.6v4.6h-4.6zM490.3 492.68h4.6v4.6h-4.6zM492.5 492.69h4.6v4.6h-4.6zM494.7 492.69h4.6v4.6h-4.6zM496.9 492.69h4.6v4.6h-4.6zM499.1 492.69h4.6v4.6h-4.6zM501.3 492.69h4.6v4.6h-4.6zM503.5 492.69h4.6v4.6h-4.6zM505.7 492.69h4.6v4.6h-4.6zM507.9 492.69h4.6v4.6h-4.6zM510.1 492.69h4.6v4.6h-4.6zM512.3 492.69h4.6v4.6h-4.6zM514.5 492.69h4.6v4.6h-4.6zM516.7 492.69h4.6v4.6h-4.6zM518.9 492.69h4.6v4.6h-4.6zM521.1 492.69h4.6v4.6h-4.6zM523.3 492.69h4.6v4.6h-4.6zM525.5 492.69h4.6v4.6h-4.6zM527.7 492.7h4.6v4.6h-4.6zM529.9 492.7h4.6v4.6h-4.6zM532.1 492.7h4.6v4.6h-4.6zM534.3 492.7h4.6v4.6h-4.6zM536.5 492.7h4.6v4.6h-4.6zM538.7 492.7h4.6v4.6h-4.6zM540.9 492.7h4.6v4.6h-4.6zM543.1 492.7h4.6v4.6h-4.6zM545.3 492.7h4.6v4.6h-4.6zM547.5 492.7h4.6v4.6h-4.6zM549.7 492.7h4.6v4.6h-4.6zM551.9 492.7h4.6v4.6h-4.6z" fill="#474747" shape-rendering="crispEdges"/><polyline points="134,759.9 136.2,759.81 138.4,759.71 140.6,759.62 142.8,759.52 145,759.42 147.2,759.32 149.4,759.22 151.6,759.12 153.8,759.02 156,758.93 158.2,758.83 160.4,758.73 162.6,758.63 164.8,758.53 167,758.43 169.2,758.33 171.4,758.23 173.6,758.14 175.8,758.04 178,757.94 180.2,757.84 182.4,757.74 184.6,757.64 186.8,757.54 189,757.44 191.2,757.34 193.4,757.24 195.6,757.14 197.8,757.04 200,756.94 202.2,756.83 204.4,756.73 206.6,756.63 208.8,756.53 211,756.43 213.2,756.32 215.4,756.22 217.6,756.11 219.8,756 222,755.9 224.2,755.8 226.4,755.7 228.6,755.61 230.8,755.52 233,755.43 235.2,755.34 237.4,755.25 239.6,755.17 241.8,755.08 244,754.99 246.2,754.89 248.4,754.78 250.6,754.65 252.8,754.51 255,754.34 257.2,754.14 259.4,753.89 261.6,753.62 263.8,753.3 266,752.96 268.2,752.56 270.4,752.06 272.6,751.4 274.8,750.51 277,749.38 279.2,748.06 281.4,746.52 283.6,744.72 285.8,742.7 288,740.49 290.2,738.11 292.4,735.58 294.6,732.88 296.8,729.86 299,725.49 301.2,719.84 303.4,714.98 305.6,709.97 307.8,704.28 310,697.61 312.2,690.19 314.4,682.57 316.6,675.26 318.8,668.73 321,662.76 323.2,656.74 325.4,650.17 327.6,643.36 329.8,636.19 332,628.39 334.2,619.64 336.4,610.28 338.6,600.99 340.8,591.34 343,580.24 345.2,567.16 347.4,553.54 349.6,540.72 351.8,528.96 354,520.07 356.2,513.6 358.4,508.59 360.6,504.76 362.8,502.09 365,500.19 367.2,498.75 369.4,495.61 371.6,495.58 373.8,495.56 376,495.54 378.2,495.52 380.4,495.5 382.6,495.49 384.8,495.48 387,495.47 389.2,495.46 391.4,495.45 393.6,495.44 395.8,495.43 398,495.42 400.2,495.42 402.4,495.42 404.6,495.41 406.8,495.41 409,495.41 411.2,495.4 413.4,495.4 415.6,495.4 417.8,495.39 420,495.39 422.2,495.39 424.4,495.39 426.6,495.39 428.8,495.39 431,495.39 433.2,495.39 435.4,495.39 437.6,495.39 439.8,495.39 442,495.39 444.2,495.39 446.4,495.39 448.6,495.39 450.8,495.4 453,495.4 455.2,495.4 457.4,495.4 459.6,495.4 461.8,495.4 464,495.4 466.2,495.41 468.4,495.41 470.6,495.41 472.8,495.41 475,495.41 477.2,495.42 479.4,495.42 481.6,495.42 483.8,495.42 486,495.42 488.2,495.43 490.4,495.43 492.6,495.43 494.8,495.43 497,495.44 499.2,495.44 501.4,495.44 503.6,495.44 505.8,495.45 508,495.45 510.2,495.45 512.4,495.46 514.6,495.46 516.8,495.46 519,495.46 521.2,495.47 523.4,495.47 525.6,495.47 527.8,495.47 530,495.48 532.2,495.48 534.4,495.48 536.6,495.49 538.8,495.49 541,495.49 543.2,495.49 545.4,495.49 547.6,495.49 549.8,495.5 552,495.5 554.2,495.5" fill="none" stroke="#ea3a3f" stroke-width="1.0" stroke-linejoin="round" stroke-linecap="round" /><path d="M131.6 757.5h4.8v4.8h-4.8zM133.8 757.41h4.8v4.8h-4.8zM136 757.31h4.8v4.8h-4.8zM138.2 757.22h4.8v4.8h-4.8zM140.4 757.12h4.8v4.8h-4.8zM142.6 757.02h4.8v4.8h-4.8zM144.8 756.92h4.8v4.8h-4.8zM147 756.82h4.8v4.8h-4.8zM149.2 756.72h4.8v4.8h-4.8zM151.4 756.62h4.8v4.8h-4.8zM153.6 756.53h4.8v4.8h-4.8zM155.8 756.43h4.8v4.8h-4.8zM158 756.33h4.8v4.8h-4.8zM160.2 756.23h4.8v4.8h-4.8zM162.4 756.13h4.8v4.8h-4.8zM164.6 756.03h4.8v4.8h-4.8zM166.8 755.93h4.8v4.8h-4.8zM169 755.83h4.8v4.8h-4.8zM171.2 755.74h4.8v4.8h-4.8zM173.4 755.64h4.8v4.8h-4.8zM175.6 755.54h4.8v4.8h-4.8zM177.8 755.44h4.8v4.8h-4.8zM180 755.34h4.8v4.8h-4.8zM182.2 755.24h4.8v4.8h-4.8zM184.4 755.14h4.8v4.8h-4.8zM186.6 755.04h4.8v4.8h-4.8zM188.8 754.94h4.8v4.8h-4.8zM191 754.84h4.8v4.8h-4.8zM193.2 754.74h4.8v4.8h-4.8zM195.4 754.64h4.8v4.8h-4.8zM197.6 754.54h4.8v4.8h-4.8zM199.8 754.43h4.8v4.8h-4.8zM202 754.33h4.8v4.8h-4.8zM204.2 754.23h4.8v4.8h-4.8zM206.4 754.13h4.8v4.8h-4.8zM208.6 754.03h4.8v4.8h-4.8zM210.8 753.92h4.8v4.8h-4.8zM213 753.82h4.8v4.8h-4.8zM215.2 753.71h4.8v4.8h-4.8zM217.4 753.6h4.8v4.8h-4.8zM219.6 753.5h4.8v4.8h-4.8zM221.8 753.4h4.8v4.8h-4.8zM224 753.3h4.8v4.8h-4.8zM226.2 753.21h4.8v4.8h-4.8zM228.4 753.12h4.8v4.8h-4.8zM230.6 753.03h4.8v4.8h-4.8zM232.8 752.94h4.8v4.8h-4.8zM235 752.85h4.8v4.8h-4.8zM237.2 752.77h4.8v4.8h-4.8zM239.4 752.68h4.8v4.8h-4.8zM241.6 752.59h4.8v4.8h-4.8zM243.8 752.49h4.8v4.8h-4.8zM246 752.38h4.8v4.8h-4.8zM248.2 752.25h4.8v4.8h-4.8zM250.4 752.11h4.8v4.8h-4.8zM252.6 751.94h4.8v4.8h-4.8zM254.8 751.74h4.8v4.8h-4.8zM257 751.49h4.8v4.8h-4.8zM259.2 751.22h4.8v4.8h-4.8zM261.4 750.9h4.8v4.8h-4.8zM263.6 750.56h4.8v4.8h-4.8zM265.8 750.16h4.8v4.8h-4.8zM268 749.66h4.8v4.8h-4.8zM270.2 749h4.8v4.8h-4.8zM272.4 748.11h4.8v4.8h-4.8zM274.6 746.98h4.8v4.8h-4.8zM276.8 745.66h4.8v4.8h-4.8zM279 744.12h4.8v4.8h-4.8zM281.2 742.32h4.8v4.8h-4.8zM283.4 740.3h4.8v4.8h-4.8zM285.6 738.09h4.8v4.8h-4.8zM287.8 735.71h4.8v4.8h-4.8zM290 733.18h4.8v4.8h-4.8zM292.2 730.48h4.8v4.8h-4.8zM294.4 727.46h4.8v4.8h-4.8zM296.6 723.09h4.8v4.8h-4.8zM298.8 717.44h4.8v4.8h-4.8zM301 712.58h4.8v4.8h-4.8zM303.2 707.57h4.8v4.8h-4.8zM305.4 701.88h4.8v4.8h-4.8zM307.6 695.21h4.8v4.8h-4.8zM309.8 687.79h4.8v4.8h-4.8zM312 680.17h4.8v4.8h-4.8zM314.2 672.86h4.8v4.8h-4.8zM316.4 666.33h4.8v4.8h-4.8zM318.6 660.36h4.8v4.8h-4.8zM320.8 654.34h4.8v4.8h-4.8zM323 647.77h4.8v4.8h-4.8zM325.2 640.96h4.8v4.8h-4.8zM327.4 633.79h4.8v4.8h-4.8zM329.6 625.99h4.8v4.8h-4.8zM331.8 617.24h4.8v4.8h-4.8zM334 607.88h4.8v4.8h-4.8zM336.2 598.59h4.8v4.8h-4.8zM338.4 588.94h4.8v4.8h-4.8zM340.6 577.84h4.8v4.8h-4.8zM342.8 564.76h4.8v4.8h-4.8zM345 551.14h4.8v4.8h-4.8zM347.2 538.32h4.8v4.8h-4.8zM349.4 526.56h4.8v4.8h-4.8zM351.6 517.67h4.8v4.8h-4.8zM353.8 511.2h4.8v4.8h-4.8zM356 506.19h4.8v4.8h-4.8zM358.2 502.36h4.8v4.8h-4.8zM360.4 499.69h4.8v4.8h-4.8zM362.6 497.79h4.8v4.8h-4.8zM364.8 496.35h4.8v4.8h-4.8zM367 493.21h4.8v4.8h-4.8zM369.2 493.18h4.8v4.8h-4.8zM371.4 493.16h4.8v4.8h-4.8zM373.6 493.14h4.8v4.8h-4.8zM375.8 493.12h4.8v4.8h-4.8zM378 493.1h4.8v4.8h-4.8zM380.2 493.09h4.8v4.8h-4.8zM382.4 493.08h4.8v4.8h-4.8zM384.6 493.07h4.8v4.8h-4.8zM386.8 493.06h4.8v4.8h-4.8zM389 493.05h4.8v4.8h-4.8zM391.2 493.04h4.8v4.8h-4.8zM393.4 493.03h4.8v4.8h-4.8zM395.6 493.02h4.8v4.8h-4.8zM397.8 493.02h4.8v4.8h-4.8zM400 493.02h4.8v4.8h-4.8zM402.2 493.01h4.8v4.8h-4.8zM404.4 493.01h4.8v4.8h-4.8zM406.6 493.01h4.8v4.8h-4.8zM408.8 493h4.8v4.8h-4.8zM411 493h4.8v4.8h-4.8zM413.2 493h4.8v4.8h-4.8zM415.4 492.99h4.8v4.8h-4.8zM417.6 492.99h4.8v4.8h-4.8zM419.8 492.99h4.8v4.8h-4.8zM422 492.99h4.8v4.8h-4.8zM424.2 492.99h4.8v4.8h-4.8zM426.4 492.99h4.8v4.8h-4.8zM428.6 492.99h4.8v4.8h-4.8zM430.8 492.99h4.8v4.8h-4.8zM433 492.99h4.8v4.8h-4.8zM435.2 492.99h4.8v4.8h-4.8zM437.4 492.99h4.8v4.8h-4.8zM439.6 492.99h4.8v4.8h-4.8zM441.8 492.99h4.8v4.8h-4.8zM444 492.99h4.8v4.8h-4.8zM446.2 492.99h4.8v4.8h-4.8zM448.4 493h4.8v4.8h-4.8zM450.6 493h4.8v4.8h-4.8zM452.8 493h4.8v4.8h-4.8zM455 493h4.8v4.8h-4.8zM457.2 493h4.8v4.8h-4.8zM459.4 493h4.8v4.8h-4.8zM461.6 493h4.8v4.8h-4.8zM463.8 493.01h4.8v4.8h-4.8zM466 493.01h4.8v4.8h-4.8zM468.2 493.01h4.8v4.8h-4.8zM470.4 493.01h4.8v4.8h-4.8zM472.6 493.01h4.8v4.8h-4.8zM474.8 493.02h4.8v4.8h-4.8zM477 493.02h4.8v4.8h-4.8zM479.2 493.02h4.8v4.8h-4.8zM481.4 493.02h4.8v4.8h-4.8zM483.6 493.02h4.8v4.8h-4.8zM485.8 493.03h4.8v4.8h-4.8zM488 493.03h4.8v4.8h-4.8zM490.2 493.03h4.8v4.8h-4.8zM492.4 493.03h4.8v4.8h-4.8zM494.6 493.04h4.8v4.8h-4.8zM496.8 493.04h4.8v4.8h-4.8zM499 493.04h4.8v4.8h-4.8zM501.2 493.04h4.8v4.8h-4.8zM503.4 493.05h4.8v4.8h-4.8zM505.6 493.05h4.8v4.8h-4.8zM507.8 493.05h4.8v4.8h-4.8zM510 493.06h4.8v4.8h-4.8zM512.2 493.06h4.8v4.8h-4.8zM514.4 493.06h4.8v4.8h-4.8zM516.6 493.06h4.8v4.8h-4.8zM518.8 493.07h4.8v4.8h-4.8zM521 493.07h4.8v4.8h-4.8zM523.2 493.07h4.8v4.8h-4.8zM525.4 493.07h4.8v4.8h-4.8zM527.6 493.08h4.8v4.8h-4.8zM529.8 493.08h4.8v4.8h-4.8zM532 493.08h4.8v4.8h-4.8zM534.2 493.09h4.8v4.8h-4.8zM536.4 493.09h4.8v4.8h-4.8zM538.6 493.09h4.8v4.8h-4.8zM540.8 493.09h4.8v4.8h-4.8zM543 493.09h4.8v4.8h-4.8zM545.2 493.09h4.8v4.8h-4.8zM547.4 493.1h4.8v4.8h-4.8zM549.6 493.1h4.8v4.8h-4.8zM551.8 493.1h4.8v4.8h-4.8z" fill="#ea3a3f" shape-rendering="crispEdges"/><polyline points="134,787.5 136.2,787.29 138.4,787.05 140.6,786.83 142.8,786.61 145,786.39 147.2,786.17 149.4,785.96 151.6,785.73 153.8,785.51 156,785.28 158.2,785.05 160.4,784.8 162.6,784.55 164.8,784.31 167,784.03 169.2,783.75 171.4,783.47 173.6,783.17 175.8,782.84 178,782.51 180.2,782.15 182.4,781.73 184.6,781.31 186.8,780.83 189,780.3 191.2,779.75 193.4,779.12 195.6,778.49 197.8,777.76 200,777.04 202.2,776.23 204.4,775.42 206.6,774.52 208.8,773.61 211,772.65 213.2,771.66 215.4,770.64 217.6,769.6 219.8,768.55 222,767.43 224.2,766.27 226.4,765.03 228.6,763.71 230.8,762.34 233,760.9 235.2,759.41 237.4,757.88 239.6,756.33 241.8,754.76 244,753.21 246.2,751.66 248.4,750.13 250.6,748.59 252.8,747.02 255,745.42 257.2,743.77 259.4,742.05 261.6,740.23 263.8,738.29 266,736.18 268.2,733.83 270.4,731.2 272.6,728.32 274.8,725.25 277,722.13 279.2,719.09 281.4,716.17 283.6,713.34 285.8,710.53 288,707.7 290.2,704.81 292.4,701.83 294.6,698.7 296.8,695.31 299,691.55 301.2,687.37 303.4,682.73 305.6,677.78 307.8,672.76 310,667.73 312.2,662.52 314.4,657.21 316.6,651.86 318.8,646.5 321,641.19 323.2,636.03 325.4,631.11 327.6,626.38 329.8,621.62 332,616.55 334.2,610.98 336.4,604.81 338.6,598.23 340.8,591.42 343,584.55 345.2,577.8 347.4,571.31 349.6,564.92 351.8,558.44 354,551.65 356.2,544.18 358.4,536.36 360.6,528.93 362.8,522.62 365,517.39 367.2,512.93 369.4,509.09 371.6,505.74 373.8,502.89 376,500.65 378.2,497.08 380.4,497.06 382.6,497.05 384.8,497.04 387,497.02 389.2,497.01 391.4,496.99 393.6,496.98 395.8,496.97 398,496.96 400.2,496.95 402.4,496.94 404.6,496.93 406.8,496.93 409,496.93 411.2,496.92 413.4,496.92 415.6,496.92 417.8,496.91 420,496.91 422.2,496.9 424.4,496.9 426.6,496.9 428.8,496.9 431,496.9 433.2,496.9 435.4,496.9 437.6,496.9 439.8,496.9 442,496.9 444.2,496.9 446.4,496.9 448.6,496.9 450.8,496.9 453,496.9 455.2,496.9 457.4,496.9 459.6,496.9 461.8,496.91 464,496.91 466.2,496.91 468.4,496.91 470.6,496.91 472.8,496.91 475,496.91 477.2,496.92 479.4,496.92 481.6,496.92 483.8,496.92 486,496.93 488.2,496.93 490.4,496.93 492.6,496.93 494.8,496.93 497,496.94 499.2,496.94 501.4,496.94 503.6,496.94 505.8,496.95 508,496.95 510.2,496.95 512.4,496.96 514.6,496.96 516.8,496.96 519,496.96 521.2,496.97 523.4,496.97 525.6,496.97 527.8,496.97 530,496.98 532.2,496.98 534.4,496.98 536.6,496.98 538.8,496.99 541,496.99 543.2,496.99 545.4,496.99 547.6,496.99 549.8,497 552,497 554.2,497" fill="none" stroke="#1d64d8" stroke-width="1.0" stroke-linejoin="round" stroke-linecap="round" /><path d="M131.6 785.1h4.8v4.8h-4.8zM133.8 784.89h4.8v4.8h-4.8zM136 784.65h4.8v4.8h-4.8zM138.2 784.43h4.8v4.8h-4.8zM140.4 784.21h4.8v4.8h-4.8zM142.6 783.99h4.8v4.8h-4.8zM144.8 783.77h4.8v4.8h-4.8zM147 783.56h4.8v4.8h-4.8zM149.2 783.33h4.8v4.8h-4.8zM151.4 783.11h4.8v4.8h-4.8zM153.6 782.88h4.8v4.8h-4.8zM155.8 782.65h4.8v4.8h-4.8zM158 782.4h4.8v4.8h-4.8zM160.2 782.15h4.8v4.8h-4.8zM162.4 781.91h4.8v4.8h-4.8zM164.6 781.63h4.8v4.8h-4.8zM166.8 781.35h4.8v4.8h-4.8zM169 781.07h4.8v4.8h-4.8zM171.2 780.77h4.8v4.8h-4.8zM173.4 780.44h4.8v4.8h-4.8zM175.6 780.11h4.8v4.8h-4.8zM177.8 779.75h4.8v4.8h-4.8zM180 779.33h4.8v4.8h-4.8zM182.2 778.91h4.8v4.8h-4.8zM184.4 778.43h4.8v4.8h-4.8zM186.6 777.9h4.8v4.8h-4.8zM188.8 777.35h4.8v4.8h-4.8zM191 776.72h4.8v4.8h-4.8zM193.2 776.09h4.8v4.8h-4.8zM195.4 775.36h4.8v4.8h-4.8zM197.6 774.64h4.8v4.8h-4.8zM199.8 773.83h4.8v4.8h-4.8zM202 773.02h4.8v4.8h-4.8zM204.2 772.12h4.8v4.8h-4.8zM206.4 771.21h4.8v4.8h-4.8zM208.6 770.25h4.8v4.8h-4.8zM210.8 769.26h4.8v4.8h-4.8zM213 768.24h4.8v4.8h-4.8zM215.2 767.2h4.8v4.8h-4.8zM217.4 766.15h4.8v4.8h-4.8zM219.6 765.03h4.8v4.8h-4.8zM221.8 763.87h4.8v4.8h-4.8zM224 762.63h4.8v4.8h-4.8zM226.2 761.31h4.8v4.8h-4.8zM228.4 759.94h4.8v4.8h-4.8zM230.6 758.5h4.8v4.8h-4.8zM232.8 757.01h4.8v4.8h-4.8zM235 755.48h4.8v4.8h-4.8zM237.2 753.93h4.8v4.8h-4.8zM239.4 752.36h4.8v4.8h-4.8zM241.6 750.81h4.8v4.8h-4.8zM243.8 749.26h4.8v4.8h-4.8zM246 747.73h4.8v4.8h-4.8zM248.2 746.19h4.8v4.8h-4.8zM250.4 744.62h4.8v4.8h-4.8zM252.6 743.02h4.8v4.8h-4.8zM254.8 741.37h4.8v4.8h-4.8zM257 739.65h4.8v4.8h-4.8zM259.2 737.83h4.8v4.8h-4.8zM261.4 735.89h4.8v4.8h-4.8zM263.6 733.78h4.8v4.8h-4.8zM265.8 731.43h4.8v4.8h-4.8zM268 728.8h4.8v4.8h-4.8zM270.2 725.92h4.8v4.8h-4.8zM272.4 722.85h4.8v4.8h-4.8zM274.6 719.73h4.8v4.8h-4.8zM276.8 716.69h4.8v4.8h-4.8zM279 713.77h4.8v4.8h-4.8zM281.2 710.94h4.8v4.8h-4.8zM283.4 708.13h4.8v4.8h-4.8zM285.6 705.3h4.8v4.8h-4.8zM287.8 702.41h4.8v4.8h-4.8zM290 699.43h4.8v4.8h-4.8zM292.2 696.3h4.8v4.8h-4.8zM294.4 692.91h4.8v4.8h-4.8zM296.6 689.15h4.8v4.8h-4.8zM298.8 684.97h4.8v4.8h-4.8zM301 680.33h4.8v4.8h-4.8zM303.2 675.38h4.8v4.8h-4.8zM305.4 670.36h4.8v4.8h-4.8zM307.6 665.33h4.8v4.8h-4.8zM309.8 660.12h4.8v4.8h-4.8zM312 654.81h4.8v4.8h-4.8zM314.2 649.46h4.8v4.8h-4.8zM316.4 644.1h4.8v4.8h-4.8zM318.6 638.79h4.8v4.8h-4.8zM320.8 633.63h4.8v4.8h-4.8zM323 628.71h4.8v4.8h-4.8zM325.2 623.98h4.8v4.8h-4.8zM327.4 619.22h4.8v4.8h-4.8zM329.6 614.15h4.8v4.8h-4.8zM331.8 608.58h4.8v4.8h-4.8zM334 602.41h4.8v4.8h-4.8zM336.2 595.83h4.8v4.8h-4.8zM338.4 589.02h4.8v4.8h-4.8zM340.6 582.15h4.8v4.8h-4.8zM342.8 575.4h4.8v4.8h-4.8zM345 568.91h4.8v4.8h-4.8zM347.2 562.52h4.8v4.8h-4.8zM349.4 556.04h4.8v4.8h-4.8zM351.6 549.25h4.8v4.8h-4.8zM353.8 541.78h4.8v4.8h-4.8zM356 533.96h4.8v4.8h-4.8zM358.2 526.53h4.8v4.8h-4.8zM360.4 520.22h4.8v4.8h-4.8zM362.6 514.99h4.8v4.8h-4.8zM364.8 510.53h4.8v4.8h-4.8zM367 506.69h4.8v4.8h-4.8zM369.2 503.34h4.8v4.8h-4.8zM371.4 500.49h4.8v4.8h-4.8zM373.6 498.25h4.8v4.8h-4.8zM375.8 494.68h4.8v4.8h-4.8zM378 494.66h4.8v4.8h-4.8zM380.2 494.65h4.8v4.8h-4.8zM382.4 494.64h4.8v4.8h-4.8zM384.6 494.62h4.8v4.8h-4.8zM386.8 494.61h4.8v4.8h-4.8zM389 494.59h4.8v4.8h-4.8zM391.2 494.58h4.8v4.8h-4.8zM393.4 494.57h4.8v4.8h-4.8zM395.6 494.56h4.8v4.8h-4.8zM397.8 494.55h4.8v4.8h-4.8zM400 494.54h4.8v4.8h-4.8zM402.2 494.53h4.8v4.8h-4.8zM404.4 494.53h4.8v4.8h-4.8zM406.6 494.53h4.8v4.8h-4.8zM408.8 494.52h4.8v4.8h-4.8zM411 494.52h4.8v4.8h-4.8zM413.2 494.52h4.8v4.8h-4.8zM415.4 494.51h4.8v4.8h-4.8zM417.6 494.51h4.8v4.8h-4.8zM419.8 494.5h4.8v4.8h-4.8zM422 494.5h4.8v4.8h-4.8zM424.2 494.5h4.8v4.8h-4.8zM426.4 494.5h4.8v4.8h-4.8zM428.6 494.5h4.8v4.8h-4.8zM430.8 494.5h4.8v4.8h-4.8zM433 494.5h4.8v4.8h-4.8zM435.2 494.5h4.8v4.8h-4.8zM437.4 494.5h4.8v4.8h-4.8zM439.6 494.5h4.8v4.8h-4.8zM441.8 494.5h4.8v4.8h-4.8zM444 494.5h4.8v4.8h-4.8zM446.2 494.5h4.8v4.8h-4.8zM448.4 494.5h4.8v4.8h-4.8zM450.6 494.5h4.8v4.8h-4.8zM452.8 494.5h4.8v4.8h-4.8zM455 494.5h4.8v4.8h-4.8zM457.2 494.5h4.8v4.8h-4.8zM459.4 494.51h4.8v4.8h-4.8zM461.6 494.51h4.8v4.8h-4.8zM463.8 494.51h4.8v4.8h-4.8zM466 494.51h4.8v4.8h-4.8zM468.2 494.51h4.8v4.8h-4.8zM470.4 494.51h4.8v4.8h-4.8zM472.6 494.51h4.8v4.8h-4.8zM474.8 494.52h4.8v4.8h-4.8zM477 494.52h4.8v4.8h-4.8zM479.2 494.52h4.8v4.8h-4.8zM481.4 494.52h4.8v4.8h-4.8zM483.6 494.53h4.8v4.8h-4.8zM485.8 494.53h4.8v4.8h-4.8zM488 494.53h4.8v4.8h-4.8zM490.2 494.53h4.8v4.8h-4.8zM492.4 494.53h4.8v4.8h-4.8zM494.6 494.54h4.8v4.8h-4.8zM496.8 494.54h4.8v4.8h-4.8zM499 494.54h4.8v4.8h-4.8zM501.2 494.54h4.8v4.8h-4.8zM503.4 494.55h4.8v4.8h-4.8zM505.6 494.55h4.8v4.8h-4.8zM507.8 494.55h4.8v4.8h-4.8zM510 494.56h4.8v4.8h-4.8zM512.2 494.56h4.8v4.8h-4.8zM514.4 494.56h4.8v4.8h-4.8zM516.6 494.56h4.8v4.8h-4.8zM518.8 494.57h4.8v4.8h-4.8zM521 494.57h4.8v4.8h-4.8zM523.2 494.57h4.8v4.8h-4.8zM525.4 494.57h4.8v4.8h-4.8zM527.6 494.58h4.8v4.8h-4.8zM529.8 494.58h4.8v4.8h-4.8zM532 494.58h4.8v4.8h-4.8zM534.2 494.58h4.8v4.8h-4.8zM536.4 494.59h4.8v4.8h-4.8zM538.6 494.59h4.8v4.8h-4.8zM540.8 494.59h4.8v4.8h-4.8zM543 494.59h4.8v4.8h-4.8zM545.2 494.59h4.8v4.8h-4.8zM547.4 494.6h4.8v4.8h-4.8zM549.6 494.6h4.8v4.8h-4.8zM551.8 494.6h4.8v4.8h-4.8z" fill="#1d64d8" shape-rendering="crispEdges"/><polyline points="134,696.3 136.2,696.21 138.4,696.12 140.6,696.03 142.8,695.94 145,695.85 147.2,695.76 149.4,695.67 151.6,695.58 153.8,695.5 156,695.41 158.2,695.32 160.4,695.24 162.6,695.15 164.8,695.06 167,694.98 169.2,694.89 171.4,694.8 173.6,694.72 175.8,694.63 178,694.54 180.2,694.46 182.4,694.37 184.6,694.28 186.8,694.19 189,694.11 191.2,694.02 193.4,693.93 195.6,693.84 197.8,693.75 200,693.67 202.2,693.58 204.4,693.49 206.6,693.4 208.8,693.31 211,693.22 213.2,693.12 215.4,693.03 217.6,692.94 219.8,692.85 222,692.76 224.2,692.67 226.4,692.57 228.6,692.48 230.8,692.38 233,692.28 235.2,692.19 237.4,692.09 239.6,691.99 241.8,691.89 244,691.79 246.2,691.7 248.4,691.6 250.6,691.49 252.8,691.38 255,691.27 257.2,691.16 259.4,691.05 261.6,690.95 263.8,690.84 266,690.73 268.2,690.6 270.4,690.47 272.6,690.34 274.8,690.21 277,690.08 279.2,689.95 281.4,689.8 283.6,689.64 285.8,689.48 288,689.33 290.2,689.16 292.4,688.97 294.6,688.79 296.8,688.56 299,688.3 301.2,687.88 303.4,686.94 305.6,685.56 307.8,684.49 310,683.46 312.2,682.43 314.4,681.28 316.6,680.09 318.8,678.81 321,677.48 323.2,676.09 325.4,674.61 327.6,673.1 329.8,671.47 332,669.76 334.2,667.96 336.4,665.97 338.6,663.7 340.8,660.98 343,657.41 345.2,652.81 347.4,647.55 349.6,642.28 351.8,636.3 354,629.45 356.2,621.84 358.4,613.41 360.6,603.79 362.8,593.42 365,582.7 367.2,571.41 369.4,559.76 371.6,547.92 373.8,535.15 376,523.38 378.2,514.2 380.4,507.39 382.6,503.3 384.8,501.06 387,499.79 389.2,498.92 391.4,497.09 393.6,497.06 395.8,497.04 398,497.02 400.2,497 402.4,496.99 404.6,496.98 406.8,496.97 409,496.96 411.2,496.94 413.4,496.93 415.6,496.93 417.8,496.93 420,496.92 422.2,496.92 424.4,496.91 426.6,496.91 428.8,496.91 431,496.9 433.2,496.9 435.4,496.9 437.6,496.9 439.8,496.9 442,496.9 444.2,496.9 446.4,496.9 448.6,496.9 450.8,496.9 453,496.9 455.2,496.9 457.4,496.9 459.6,496.9 461.8,496.9 464,496.9 466.2,496.9 468.4,496.91 470.6,496.91 472.8,496.91 475,496.91 477.2,496.91 479.4,496.91 481.6,496.92 483.8,496.92 486,496.92 488.2,496.92 490.4,496.93 492.6,496.93 494.8,496.93 497,496.93 499.2,496.94 501.4,496.94 503.6,496.94 505.8,496.94 508,496.95 510.2,496.95 512.4,496.95 514.6,496.96 516.8,496.96 519,496.96 521.2,496.96 523.4,496.97 525.6,496.97 527.8,496.97 530,496.98 532.2,496.98 534.4,496.98 536.6,496.98 538.8,496.99 541,496.99 543.2,496.99 545.4,496.99 547.6,496.99 549.8,497 552,497 554.2,497" fill="none" stroke="#2e9f5c" stroke-width="1.0" stroke-linejoin="round" stroke-linecap="round" /><path d="M131.6 693.9h4.8v4.8h-4.8zM133.8 693.81h4.8v4.8h-4.8zM136 693.72h4.8v4.8h-4.8zM138.2 693.63h4.8v4.8h-4.8zM140.4 693.54h4.8v4.8h-4.8zM142.6 693.45h4.8v4.8h-4.8zM144.8 693.36h4.8v4.8h-4.8zM147 693.27h4.8v4.8h-4.8zM149.2 693.18h4.8v4.8h-4.8zM151.4 693.1h4.8v4.8h-4.8zM153.6 693.01h4.8v4.8h-4.8zM155.8 692.92h4.8v4.8h-4.8zM158 692.84h4.8v4.8h-4.8zM160.2 692.75h4.8v4.8h-4.8zM162.4 692.66h4.8v4.8h-4.8zM164.6 692.58h4.8v4.8h-4.8zM166.8 692.49h4.8v4.8h-4.8zM169 692.4h4.8v4.8h-4.8zM171.2 692.32h4.8v4.8h-4.8zM173.4 692.23h4.8v4.8h-4.8zM175.6 692.14h4.8v4.8h-4.8zM177.8 692.06h4.8v4.8h-4.8zM180 691.97h4.8v4.8h-4.8zM182.2 691.88h4.8v4.8h-4.8zM184.4 691.79h4.8v4.8h-4.8zM186.6 691.71h4.8v4.8h-4.8zM188.8 691.62h4.8v4.8h-4.8zM191 691.53h4.8v4.8h-4.8zM193.2 691.44h4.8v4.8h-4.8zM195.4 691.35h4.8v4.8h-4.8zM197.6 691.27h4.8v4.8h-4.8zM199.8 691.18h4.8v4.8h-4.8zM202 691.09h4.8v4.8h-4.8zM204.2 691h4.8v4.8h-4.8zM206.4 690.91h4.8v4.8h-4.8zM208.6 690.82h4.8v4.8h-4.8zM210.8 690.72h4.8v4.8h-4.8zM213 690.63h4.8v4.8h-4.8zM215.2 690.54h4.8v4.8h-4.8zM217.4 690.45h4.8v4.8h-4.8zM219.6 690.36h4.8v4.8h-4.8zM221.8 690.27h4.8v4.8h-4.8zM224 690.17h4.8v4.8h-4.8zM226.2 690.08h4.8v4.8h-4.8zM228.4 689.98h4.8v4.8h-4.8zM230.6 689.88h4.8v4.8h-4.8zM232.8 689.79h4.8v4.8h-4.8zM235 689.69h4.8v4.8h-4.8zM237.2 689.59h4.8v4.8h-4.8zM239.4 689.49h4.8v4.8h-4.8zM241.6 689.39h4.8v4.8h-4.8zM243.8 689.3h4.8v4.8h-4.8zM246 689.2h4.8v4.8h-4.8zM248.2 689.09h4.8v4.8h-4.8zM250.4 688.98h4.8v4.8h-4.8zM252.6 688.87h4.8v4.8h-4.8zM254.8 688.76h4.8v4.8h-4.8zM257 688.65h4.8v4.8h-4.8zM259.2 688.55h4.8v4.8h-4.8zM261.4 688.44h4.8v4.8h-4.8zM263.6 688.33h4.8v4.8h-4.8zM265.8 688.2h4.8v4.8h-4.8zM268 688.07h4.8v4.8h-4.8zM270.2 687.94h4.8v4.8h-4.8zM272.4 687.81h4.8v4.8h-4.8zM274.6 687.68h4.8v4.8h-4.8zM276.8 687.55h4.8v4.8h-4.8zM279 687.4h4.8v4.8h-4.8zM281.2 687.24h4.8v4.8h-4.8zM283.4 687.08h4.8v4.8h-4.8zM285.6 686.93h4.8v4.8h-4.8zM287.8 686.76h4.8v4.8h-4.8zM290 686.57h4.8v4.8h-4.8zM292.2 686.39h4.8v4.8h-4.8zM294.4 686.16h4.8v4.8h-4.8zM296.6 685.9h4.8v4.8h-4.8zM298.8 685.48h4.8v4.8h-4.8zM301 684.54h4.8v4.8h-4.8zM303.2 683.16h4.8v4.8h-4.8zM305.4 682.09h4.8v4.8h-4.8zM307.6 681.06h4.8v4.8h-4.8zM309.8 680.03h4.8v4.8h-4.8zM312 678.88h4.8v4.8h-4.8zM314.2 677.69h4.8v4.8h-4.8zM316.4 676.41h4.8v4.8h-4.8zM318.6 675.08h4.8v4.8h-4.8zM320.8 673.69h4.8v4.8h-4.8zM323 672.21h4.8v4.8h-4.8zM325.2 670.7h4.8v4.8h-4.8zM327.4 669.07h4.8v4.8h-4.8zM329.6 667.36h4.8v4.8h-4.8zM331.8 665.56h4.8v4.8h-4.8zM334 663.57h4.8v4.8h-4.8zM336.2 661.3h4.8v4.8h-4.8zM338.4 658.58h4.8v4.8h-4.8zM340.6 655.01h4.8v4.8h-4.8zM342.8 650.41h4.8v4.8h-4.8zM345 645.15h4.8v4.8h-4.8zM347.2 639.88h4.8v4.8h-4.8zM349.4 633.9h4.8v4.8h-4.8zM351.6 627.05h4.8v4.8h-4.8zM353.8 619.44h4.8v4.8h-4.8zM356 611.01h4.8v4.8h-4.8zM358.2 601.39h4.8v4.8h-4.8zM360.4 591.02h4.8v4.8h-4.8zM362.6 580.3h4.8v4.8h-4.8zM364.8 569.01h4.8v4.8h-4.8zM367 557.36h4.8v4.8h-4.8zM369.2 545.52h4.8v4.8h-4.8zM371.4 532.75h4.8v4.8h-4.8zM373.6 520.98h4.8v4.8h-4.8zM375.8 511.8h4.8v4.8h-4.8zM378 504.99h4.8v4.8h-4.8zM380.2 500.9h4.8v4.8h-4.8zM382.4 498.66h4.8v4.8h-4.8zM384.6 497.39h4.8v4.8h-4.8zM386.8 496.52h4.8v4.8h-4.8zM389 494.69h4.8v4.8h-4.8zM391.2 494.66h4.8v4.8h-4.8zM393.4 494.64h4.8v4.8h-4.8zM395.6 494.62h4.8v4.8h-4.8zM397.8 494.6h4.8v4.8h-4.8zM400 494.59h4.8v4.8h-4.8zM402.2 494.58h4.8v4.8h-4.8zM404.4 494.57h4.8v4.8h-4.8zM406.6 494.56h4.8v4.8h-4.8zM408.8 494.54h4.8v4.8h-4.8zM411 494.53h4.8v4.8h-4.8zM413.2 494.53h4.8v4.8h-4.8zM415.4 494.53h4.8v4.8h-4.8zM417.6 494.52h4.8v4.8h-4.8zM419.8 494.52h4.8v4.8h-4.8zM422 494.51h4.8v4.8h-4.8zM424.2 494.51h4.8v4.8h-4.8zM426.4 494.51h4.8v4.8h-4.8zM428.6 494.5h4.8v4.8h-4.8zM430.8 494.5h4.8v4.8h-4.8zM433 494.5h4.8v4.8h-4.8zM435.2 494.5h4.8v4.8h-4.8zM437.4 494.5h4.8v4.8h-4.8zM439.6 494.5h4.8v4.8h-4.8zM441.8 494.5h4.8v4.8h-4.8zM444 494.5h4.8v4.8h-4.8zM446.2 494.5h4.8v4.8h-4.8zM448.4 494.5h4.8v4.8h-4.8zM450.6 494.5h4.8v4.8h-4.8zM452.8 494.5h4.8v4.8h-4.8zM455 494.5h4.8v4.8h-4.8zM457.2 494.5h4.8v4.8h-4.8zM459.4 494.5h4.8v4.8h-4.8zM461.6 494.5h4.8v4.8h-4.8zM463.8 494.5h4.8v4.8h-4.8zM466 494.51h4.8v4.8h-4.8zM468.2 494.51h4.8v4.8h-4.8zM470.4 494.51h4.8v4.8h-4.8zM472.6 494.51h4.8v4.8h-4.8zM474.8 494.51h4.8v4.8h-4.8zM477 494.51h4.8v4.8h-4.8zM479.2 494.52h4.8v4.8h-4.8zM481.4 494.52h4.8v4.8h-4.8zM483.6 494.52h4.8v4.8h-4.8zM485.8 494.52h4.8v4.8h-4.8zM488 494.53h4.8v4.8h-4.8zM490.2 494.53h4.8v4.8h-4.8zM492.4 494.53h4.8v4.8h-4.8zM494.6 494.53h4.8v4.8h-4.8zM496.8 494.54h4.8v4.8h-4.8zM499 494.54h4.8v4.8h-4.8zM501.2 494.54h4.8v4.8h-4.8zM503.4 494.54h4.8v4.8h-4.8zM505.6 494.55h4.8v4.8h-4.8zM507.8 494.55h4.8v4.8h-4.8zM510 494.55h4.8v4.8h-4.8zM512.2 494.56h4.8v4.8h-4.8zM514.4 494.56h4.8v4.8h-4.8zM516.6 494.56h4.8v4.8h-4.8zM518.8 494.56h4.8v4.8h-4.8zM521 494.57h4.8v4.8h-4.8zM523.2 494.57h4.8v4.8h-4.8zM525.4 494.57h4.8v4.8h-4.8zM527.6 494.58h4.8v4.8h-4.8zM529.8 494.58h4.8v4.8h-4.8zM532 494.58h4.8v4.8h-4.8zM534.2 494.58h4.8v4.8h-4.8zM536.4 494.59h4.8v4.8h-4.8zM538.6 494.59h4.8v4.8h-4.8zM540.8 494.59h4.8v4.8h-4.8zM543 494.59h4.8v4.8h-4.8zM545.2 494.59h4.8v4.8h-4.8zM547.4 494.6h4.8v4.8h-4.8zM549.6 494.6h4.8v4.8h-4.8zM551.8 494.6h4.8v4.8h-4.8z" fill="#2e9f5c" shape-rendering="crispEdges"/><polyline points="134,710.5 136.2,710.39 138.4,710.27 140.6,710.16 142.8,710.04 145,709.93 147.2,709.82 149.4,709.71 151.6,709.6 153.8,709.49 156,709.38 158.2,709.27 160.4,709.16 162.6,709.05 164.8,708.94 167,708.83 169.2,708.72 171.4,708.61 173.6,708.5 175.8,708.39 178,708.28 180.2,708.17 182.4,708.06 184.6,707.95 186.8,707.83 189,707.72 191.2,707.61 193.4,707.5 195.6,707.39 197.8,707.28 200,707.16 202.2,707.05 204.4,706.94 206.6,706.83 208.8,706.71 211,706.6 213.2,706.48 215.4,706.37 217.6,706.25 219.8,706.14 222,706.03 224.2,705.91 226.4,705.8 228.6,705.68 230.8,705.56 233,705.44 235.2,705.32 237.4,705.2 239.6,705.08 241.8,704.96 244,704.84 246.2,704.72 248.4,704.6 250.6,704.47 252.8,704.33 255,704.2 257.2,704.07 259.4,703.94 261.6,703.81 263.8,703.68 266,703.55 268.2,703.41 270.4,703.26 272.6,703.11 274.8,702.96 277,702.81 279.2,702.65 281.4,702.48 283.6,702.3 285.8,702.11 288,701.93 290.2,701.72 292.4,701.49 294.6,701.26 296.8,700.96 299,700.63 301.2,700.11 303.4,699.14 305.6,697.99 307.8,697.21 310,696.51 312.2,695.84 314.4,695.14 316.6,694.42 318.8,693.68 321,692.89 323.2,692.08 325.4,691.19 327.6,690.26 329.8,689.28 332,688.19 334.2,687.03 336.4,685.77 338.6,684.37 340.8,682.89 343,681.33 345.2,679.62 347.4,677.82 349.6,675.92 351.8,673.9 354,671.72 356.2,669.38 358.4,666.88 360.6,664.13 362.8,661.08 365,657.65 367.2,653.82 369.4,649.52 371.6,644.8 373.8,639.7 376,633.82 378.2,626.68 380.4,618.41 382.6,609.84 384.8,600.71 387,590.78 389.2,580.6 391.4,570.42 393.6,560.01 395.8,549.16 398,536.8 400.2,523.22 402.4,512.97 404.6,504.69 406.8,497.92 409,496.5 411.2,496.5 413.4,496.5 415.6,496.5 417.8,496.49 420,496.49 422.2,496.49 424.4,496.48 426.6,496.48 428.8,496.47 431,496.47 433.2,496.47 435.4,496.47 437.6,496.47 439.8,496.47 442,496.47 444.2,496.46 446.4,496.46 448.6,496.46 450.8,496.46 453,496.46 455.2,496.46 457.4,496.46 459.6,496.46 461.8,496.46 464,496.46 466.2,496.46 468.4,496.46 470.6,496.47 472.8,496.47 475,496.47 477.2,496.47 479.4,496.47 481.6,496.47 483.8,496.47 486,496.47 488.2,496.47 490.4,496.47 492.6,496.47 494.8,496.47 497,496.47 499.2,496.47 501.4,496.48 503.6,496.48 505.8,496.48 508,496.48 510.2,496.48 512.4,496.48 514.6,496.48 516.8,496.48 519,496.48 521.2,496.49 523.4,496.49 525.6,496.49 527.8,496.49 530,496.49 532.2,496.49 534.4,496.49 536.6,496.49 538.8,496.49 541,496.5 543.2,496.5 545.4,496.5 547.6,496.5 549.8,496.5 552,496.5 554.2,496.5" fill="none" stroke="#a775d8" stroke-width="1.0" stroke-linejoin="round" stroke-linecap="round" /><path d="M131.6 708.1h4.8v4.8h-4.8zM133.8 707.99h4.8v4.8h-4.8zM136 707.87h4.8v4.8h-4.8zM138.2 707.76h4.8v4.8h-4.8zM140.4 707.64h4.8v4.8h-4.8zM142.6 707.53h4.8v4.8h-4.8zM144.8 707.42h4.8v4.8h-4.8zM147 707.31h4.8v4.8h-4.8zM149.2 707.2h4.8v4.8h-4.8zM151.4 707.09h4.8v4.8h-4.8zM153.6 706.98h4.8v4.8h-4.8zM155.8 706.87h4.8v4.8h-4.8zM158 706.76h4.8v4.8h-4.8zM160.2 706.65h4.8v4.8h-4.8zM162.4 706.54h4.8v4.8h-4.8zM164.6 706.43h4.8v4.8h-4.8zM166.8 706.32h4.8v4.8h-4.8zM169 706.21h4.8v4.8h-4.8zM171.2 706.1h4.8v4.8h-4.8zM173.4 705.99h4.8v4.8h-4.8zM175.6 705.88h4.8v4.8h-4.8zM177.8 705.77h4.8v4.8h-4.8zM180 705.66h4.8v4.8h-4.8zM182.2 705.55h4.8v4.8h-4.8zM184.4 705.43h4.8v4.8h-4.8zM186.6 705.32h4.8v4.8h-4.8zM188.8 705.21h4.8v4.8h-4.8zM191 705.1h4.8v4.8h-4.8zM193.2 704.99h4.8v4.8h-4.8zM195.4 704.88h4.8v4.8h-4.8zM197.6 704.76h4.8v4.8h-4.8zM199.8 704.65h4.8v4.8h-4.8zM202 704.54h4.8v4.8h-4.8zM204.2 704.43h4.8v4.8h-4.8zM206.4 704.31h4.8v4.8h-4.8zM208.6 704.2h4.8v4.8h-4.8zM210.8 704.08h4.8v4.8h-4.8zM213 703.97h4.8v4.8h-4.8zM215.2 703.85h4.8v4.8h-4.8zM217.4 703.74h4.8v4.8h-4.8zM219.6 703.63h4.8v4.8h-4.8zM221.8 703.51h4.8v4.8h-4.8zM224 703.4h4.8v4.8h-4.8zM226.2 703.28h4.8v4.8h-4.8zM228.4 703.16h4.8v4.8h-4.8zM230.6 703.04h4.8v4.8h-4.8zM232.8 702.92h4.8v4.8h-4.8zM235 702.8h4.8v4.8h-4.8zM237.2 702.68h4.8v4.8h-4.8zM239.4 702.56h4.8v4.8h-4.8zM241.6 702.44h4.8v4.8h-4.8zM243.8 702.32h4.8v4.8h-4.8zM246 702.2h4.8v4.8h-4.8zM248.2 702.07h4.8v4.8h-4.8zM250.4 701.93h4.8v4.8h-4.8zM252.6 701.8h4.8v4.8h-4.8zM254.8 701.67h4.8v4.8h-4.8zM257 701.54h4.8v4.8h-4.8zM259.2 701.41h4.8v4.8h-4.8zM261.4 701.28h4.8v4.8h-4.8zM263.6 701.15h4.8v4.8h-4.8zM265.8 701.01h4.8v4.8h-4.8zM268 700.86h4.8v4.8h-4.8zM270.2 700.71h4.8v4.8h-4.8zM272.4 700.56h4.8v4.8h-4.8zM274.6 700.41h4.8v4.8h-4.8zM276.8 700.25h4.8v4.8h-4.8zM279 700.08h4.8v4.8h-4.8zM281.2 699.9h4.8v4.8h-4.8zM283.4 699.71h4.8v4.8h-4.8zM285.6 699.53h4.8v4.8h-4.8zM287.8 699.32h4.8v4.8h-4.8zM290 699.09h4.8v4.8h-4.8zM292.2 698.86h4.8v4.8h-4.8zM294.4 698.56h4.8v4.8h-4.8zM296.6 698.23h4.8v4.8h-4.8zM298.8 697.71h4.8v4.8h-4.8zM301 696.74h4.8v4.8h-4.8zM303.2 695.59h4.8v4.8h-4.8zM305.4 694.81h4.8v4.8h-4.8zM307.6 694.11h4.8v4.8h-4.8zM309.8 693.44h4.8v4.8h-4.8zM312 692.74h4.8v4.8h-4.8zM314.2 692.02h4.8v4.8h-4.8zM316.4 691.28h4.8v4.8h-4.8zM318.6 690.49h4.8v4.8h-4.8zM320.8 689.68h4.8v4.8h-4.8zM323 688.79h4.8v4.8h-4.8zM325.2 687.86h4.8v4.8h-4.8zM327.4 686.88h4.8v4.8h-4.8zM329.6 685.79h4.8v4.8h-4.8zM331.8 684.63h4.8v4.8h-4.8zM334 683.37h4.8v4.8h-4.8zM336.2 681.97h4.8v4.8h-4.8zM338.4 680.49h4.8v4.8h-4.8zM340.6 678.93h4.8v4.8h-4.8zM342.8 677.22h4.8v4.8h-4.8zM345 675.42h4.8v4.8h-4.8zM347.2 673.52h4.8v4.8h-4.8zM349.4 671.5h4.8v4.8h-4.8zM351.6 669.32h4.8v4.8h-4.8zM353.8 666.98h4.8v4.8h-4.8zM356 664.48h4.8v4.8h-4.8zM358.2 661.73h4.8v4.8h-4.8zM360.4 658.68h4.8v4.8h-4.8zM362.6 655.25h4.8v4.8h-4.8zM364.8 651.42h4.8v4.8h-4.8zM367 647.12h4.8v4.8h-4.8zM369.2 642.4h4.8v4.8h-4.8zM371.4 637.3h4.8v4.8h-4.8zM373.6 631.42h4.8v4.8h-4.8zM375.8 624.28h4.8v4.8h-4.8zM378 616.01h4.8v4.8h-4.8zM380.2 607.44h4.8v4.8h-4.8zM382.4 598.31h4.8v4.8h-4.8zM384.6 588.38h4.8v4.8h-4.8zM386.8 578.2h4.8v4.8h-4.8zM389 568.02h4.8v4.8h-4.8zM391.2 557.61h4.8v4.8h-4.8zM393.4 546.76h4.8v4.8h-4.8zM395.6 534.4h4.8v4.8h-4.8zM397.8 520.82h4.8v4.8h-4.8zM400 510.57h4.8v4.8h-4.8zM402.2 502.29h4.8v4.8h-4.8zM404.4 495.52h4.8v4.8h-4.8zM406.6 494.1h4.8v4.8h-4.8zM408.8 494.1h4.8v4.8h-4.8zM411 494.1h4.8v4.8h-4.8zM413.2 494.1h4.8v4.8h-4.8zM415.4 494.09h4.8v4.8h-4.8zM417.6 494.09h4.8v4.8h-4.8zM419.8 494.09h4.8v4.8h-4.8zM422 494.08h4.8v4.8h-4.8zM424.2 494.08h4.8v4.8h-4.8zM426.4 494.07h4.8v4.8h-4.8zM428.6 494.07h4.8v4.8h-4.8zM430.8 494.07h4.8v4.8h-4.8zM433 494.07h4.8v4.8h-4.8zM435.2 494.07h4.8v4.8h-4.8zM437.4 494.07h4.8v4.8h-4.8zM439.6 494.07h4.8v4.8h-4.8zM441.8 494.06h4.8v4.8h-4.8zM444 494.06h4.8v4.8h-4.8zM446.2 494.06h4.8v4.8h-4.8zM448.4 494.06h4.8v4.8h-4.8zM450.6 494.06h4.8v4.8h-4.8zM452.8 494.06h4.8v4.8h-4.8zM455 494.06h4.8v4.8h-4.8zM457.2 494.06h4.8v4.8h-4.8zM459.4 494.06h4.8v4.8h-4.8zM461.6 494.06h4.8v4.8h-4.8zM463.8 494.06h4.8v4.8h-4.8zM466 494.06h4.8v4.8h-4.8zM468.2 494.07h4.8v4.8h-4.8zM470.4 494.07h4.8v4.8h-4.8zM472.6 494.07h4.8v4.8h-4.8zM474.8 494.07h4.8v4.8h-4.8zM477 494.07h4.8v4.8h-4.8zM479.2 494.07h4.8v4.8h-4.8zM481.4 494.07h4.8v4.8h-4.8zM483.6 494.07h4.8v4.8h-4.8zM485.8 494.07h4.8v4.8h-4.8zM488 494.07h4.8v4.8h-4.8zM490.2 494.07h4.8v4.8h-4.8zM492.4 494.07h4.8v4.8h-4.8zM494.6 494.07h4.8v4.8h-4.8zM496.8 494.07h4.8v4.8h-4.8zM499 494.08h4.8v4.8h-4.8zM501.2 494.08h4.8v4.8h-4.8zM503.4 494.08h4.8v4.8h-4.8zM505.6 494.08h4.8v4.8h-4.8zM507.8 494.08h4.8v4.8h-4.8zM510 494.08h4.8v4.8h-4.8zM512.2 494.08h4.8v4.8h-4.8zM514.4 494.08h4.8v4.8h-4.8zM516.6 494.08h4.8v4.8h-4.8zM518.8 494.09h4.8v4.8h-4.8zM521 494.09h4.8v4.8h-4.8zM523.2 494.09h4.8v4.8h-4.8zM525.4 494.09h4.8v4.8h-4.8zM527.6 494.09h4.8v4.8h-4.8zM529.8 494.09h4.8v4.8h-4.8zM532 494.09h4.8v4.8h-4.8zM534.2 494.09h4.8v4.8h-4.8zM536.4 494.09h4.8v4.8h-4.8zM538.6 494.1h4.8v4.8h-4.8zM540.8 494.1h4.8v4.8h-4.8zM543 494.1h4.8v4.8h-4.8zM545.2 494.1h4.8v4.8h-4.8zM547.4 494.1h4.8v4.8h-4.8zM549.6 494.1h4.8v4.8h-4.8zM551.8 494.1h4.8v4.8h-4.8z" fill="#a775d8" shape-rendering="crispEdges"/><polyline points="134,495.8 136.2,495.8 138.4,495.79 140.6,495.79 142.8,495.78 145,495.78 147.2,495.77 149.4,495.77 151.6,495.77 153.8,495.76 156,495.76 158.2,495.75 160.4,495.75 162.6,495.75 164.8,495.74 167,495.74 169.2,495.73 171.4,495.73 173.6,495.72 175.8,495.72 178,495.72 180.2,495.71 182.4,495.71 184.6,495.7 186.8,495.7 189,495.7 191.2,495.69 193.4,495.69 195.6,495.68 197.8,495.68 200,495.67 202.2,495.67 204.4,495.67 206.6,495.66 208.8,495.66 211,495.65 213.2,495.65 215.4,495.65 217.6,495.64 219.8,495.64 222,495.63 224.2,495.63 226.4,495.62 228.6,495.62 230.8,495.62 233,495.61 235.2,495.61 237.4,495.6 239.6,495.6 241.8,495.6 244,495.59 246.2,495.59 248.4,495.58 250.6,495.58 252.8,495.57 255,495.57 257.2,495.57 259.4,495.56 261.6,495.56 263.8,495.55 266,495.55 268.2,495.54 270.4,495.54 272.6,495.54 274.8,495.53 277,495.53 279.2,495.52 281.4,495.52 283.6,495.52 285.8,495.51 288,495.51 290.2,495.5 292.4,495.5 294.6,495.49 296.8,495.49 299,495.49 301.2,495.48 303.4,495.48 305.6,495.47 307.8,495.47 310,495.47 312.2,495.46 314.4,495.46 316.6,495.45 318.8,495.45 321,495.44 323.2,495.44 325.4,495.44 327.6,495.43 329.8,495.43 332,495.42 334.2,495.42 336.4,495.42 338.6,495.41 340.8,495.41 343,495.4 345.2,495.4 347.4,495.39 349.6,495.39 351.8,495.39 354,495.38 356.2,495.38 358.4,495.37 360.6,495.37 362.8,495.37 365,495.36 367.2,495.36 369.4,495.35 371.6,495.35 373.8,495.34 376,495.34 378.2,495.34 380.4,495.33 382.6,495.33 384.8,495.32 387,495.32 389.2,495.32 391.4,495.31 393.6,495.31 395.8,495.3 398,495.3 400.2,495.29 402.4,495.29 404.6,495.29 406.8,495.28 409,495.28 411.2,495.27 413.4,495.27 415.6,495.26 417.8,495.26 420,495.26 422.2,495.25 424.4,495.25 426.6,495.24 428.8,495.24 431,495.24 433.2,495.23 435.4,495.23 437.6,495.22 439.8,495.22 442,495.21 444.2,495.21 446.4,495.21 448.6,495.2 450.8,495.2 453,495.19 455.2,495.19 457.4,495.19 459.6,495.18 461.8,495.18 464,495.17 466.2,495.17 468.4,495.16 470.6,495.16 472.8,495.16 475,495.15 477.2,495.15 479.4,495.14 481.6,495.14 483.8,495.14 486,495.13 488.2,495.13 490.4,495.12 492.6,495.12 494.8,495.11 497,495.11 499.2,495.11 501.4,495.1 503.6,495.1 505.8,495.09 508,495.09 510.2,495.09 512.4,495.08 514.6,495.08 516.8,495.07 519,495.07 521.2,495.06 523.4,495.06 525.6,495.06 527.8,495.05 530,495.05 532.2,495.04 534.4,495.04 536.6,495.03 538.8,495.03 541,495.03 543.2,495.02 545.4,495.02 547.6,495.01 549.8,495.01 552,495.01 554.2,495" fill="none" stroke="#a775d8" stroke-width="1.0" stroke-linejoin="round" stroke-linecap="round" /><path d="M131.35 493.15h5.3v5.3h-5.3zM133.55 493.15h5.3v5.3h-5.3zM135.75 493.14h5.3v5.3h-5.3zM137.95 493.14h5.3v5.3h-5.3zM140.15 493.13h5.3v5.3h-5.3zM142.35 493.13h5.3v5.3h-5.3zM144.55 493.12h5.3v5.3h-5.3zM146.75 493.12h5.3v5.3h-5.3zM148.95 493.12h5.3v5.3h-5.3zM151.15 493.11h5.3v5.3h-5.3zM153.35 493.11h5.3v5.3h-5.3zM155.55 493.1h5.3v5.3h-5.3zM157.75 493.1h5.3v5.3h-5.3zM159.95 493.1h5.3v5.3h-5.3zM162.15 493.09h5.3v5.3h-5.3zM164.35 493.09h5.3v5.3h-5.3zM166.55 493.08h5.3v5.3h-5.3zM168.75 493.08h5.3v5.3h-5.3zM170.95 493.07h5.3v5.3h-5.3zM173.15 493.07h5.3v5.3h-5.3zM175.35 493.07h5.3v5.3h-5.3zM177.55 493.06h5.3v5.3h-5.3zM179.75 493.06h5.3v5.3h-5.3zM181.95 493.05h5.3v5.3h-5.3zM184.15 493.05h5.3v5.3h-5.3zM186.35 493.05h5.3v5.3h-5.3zM188.55 493.04h5.3v5.3h-5.3zM190.75 493.04h5.3v5.3h-5.3zM192.95 493.03h5.3v5.3h-5.3zM195.15 493.03h5.3v5.3h-5.3zM197.35 493.02h5.3v5.3h-5.3zM199.55 493.02h5.3v5.3h-5.3zM201.75 493.02h5.3v5.3h-5.3zM203.95 493.01h5.3v5.3h-5.3zM206.15 493.01h5.3v5.3h-5.3zM208.35 493h5.3v5.3h-5.3zM210.55 493h5.3v5.3h-5.3zM212.75 493h5.3v5.3h-5.3zM214.95 492.99h5.3v5.3h-5.3zM217.15 492.99h5.3v5.3h-5.3zM219.35 492.98h5.3v5.3h-5.3zM221.55 492.98h5.3v5.3h-5.3zM223.75 492.97h5.3v5.3h-5.3zM225.95 492.97h5.3v5.3h-5.3zM228.15 492.97h5.3v5.3h-5.3zM230.35 492.96h5.3v5.3h-5.3zM232.55 492.96h5.3v5.3h-5.3zM234.75 492.95h5.3v5.3h-5.3zM236.95 492.95h5.3v5.3h-5.3zM239.15 492.95h5.3v5.3h-5.3zM241.35 492.94h5.3v5.3h-5.3zM243.55 492.94h5.3v5.3h-5.3zM245.75 492.93h5.3v5.3h-5.3zM247.95 492.93h5.3v5.3h-5.3zM250.15 492.92h5.3v5.3h-5.3zM252.35 492.92h5.3v5.3h-5.3zM254.55 492.92h5.3v5.3h-5.3zM256.75 492.91h5.3v5.3h-5.3zM258.95 492.91h5.3v5.3h-5.3zM261.15 492.9h5.3v5.3h-5.3zM263.35 492.9h5.3v5.3h-5.3zM265.55 492.89h5.3v5.3h-5.3zM267.75 492.89h5.3v5.3h-5.3zM269.95 492.89h5.3v5.3h-5.3zM272.15 492.88h5.3v5.3h-5.3zM274.35 492.88h5.3v5.3h-5.3zM276.55 492.87h5.3v5.3h-5.3zM278.75 492.87h5.3v5.3h-5.3zM280.95 492.87h5.3v5.3h-5.3zM283.15 492.86h5.3v5.3h-5.3zM285.35 492.86h5.3v5.3h-5.3zM287.55 492.85h5.3v5.3h-5.3zM289.75 492.85h5.3v5.3h-5.3zM291.95 492.84h5.3v5.3h-5.3zM294.15 492.84h5.3v5.3h-5.3zM296.35 492.84h5.3v5.3h-5.3zM298.55 492.83h5.3v5.3h-5.3zM300.75 492.83h5.3v5.3h-5.3zM302.95 492.82h5.3v5.3h-5.3zM305.15 492.82h5.3v5.3h-5.3zM307.35 492.82h5.3v5.3h-5.3zM309.55 492.81h5.3v5.3h-5.3zM311.75 492.81h5.3v5.3h-5.3zM313.95 492.8h5.3v5.3h-5.3zM316.15 492.8h5.3v5.3h-5.3zM318.35 492.79h5.3v5.3h-5.3zM320.55 492.79h5.3v5.3h-5.3zM322.75 492.79h5.3v5.3h-5.3zM324.95 492.78h5.3v5.3h-5.3zM327.15 492.78h5.3v5.3h-5.3zM329.35 492.77h5.3v5.3h-5.3zM331.55 492.77h5.3v5.3h-5.3zM333.75 492.77h5.3v5.3h-5.3zM335.95 492.76h5.3v5.3h-5.3zM338.15 492.76h5.3v5.3h-5.3zM340.35 492.75h5.3v5.3h-5.3zM342.55 492.75h5.3v5.3h-5.3zM344.75 492.74h5.3v5.3h-5.3zM346.95 492.74h5.3v5.3h-5.3zM349.15 492.74h5.3v5.3h-5.3zM351.35 492.73h5.3v5.3h-5.3zM353.55 492.73h5.3v5.3h-5.3zM355.75 492.72h5.3v5.3h-5.3zM357.95 492.72h5.3v5.3h-5.3zM360.15 492.72h5.3v5.3h-5.3zM362.35 492.71h5.3v5.3h-5.3zM364.55 492.71h5.3v5.3h-5.3zM366.75 492.7h5.3v5.3h-5.3zM368.95 492.7h5.3v5.3h-5.3zM371.15 492.69h5.3v5.3h-5.3zM373.35 492.69h5.3v5.3h-5.3zM375.55 492.69h5.3v5.3h-5.3zM377.75 492.68h5.3v5.3h-5.3zM379.95 492.68h5.3v5.3h-5.3zM382.15 492.67h5.3v5.3h-5.3zM384.35 492.67h5.3v5.3h-5.3zM386.55 492.67h5.3v5.3h-5.3zM388.75 492.66h5.3v5.3h-5.3zM390.95 492.66h5.3v5.3h-5.3zM393.15 492.65h5.3v5.3h-5.3zM395.35 492.65h5.3v5.3h-5.3zM397.55 492.64h5.3v5.3h-5.3zM399.75 492.64h5.3v5.3h-5.3zM401.95 492.64h5.3v5.3h-5.3zM404.15 492.63h5.3v5.3h-5.3zM406.35 492.63h5.3v5.3h-5.3zM408.55 492.62h5.3v5.3h-5.3zM410.75 492.62h5.3v5.3h-5.3zM412.95 492.61h5.3v5.3h-5.3zM415.15 492.61h5.3v5.3h-5.3zM417.35 492.61h5.3v5.3h-5.3zM419.55 492.6h5.3v5.3h-5.3zM421.75 492.6h5.3v5.3h-5.3zM423.95 492.59h5.3v5.3h-5.3zM426.15 492.59h5.3v5.3h-5.3zM428.35 492.59h5.3v5.3h-5.3zM430.55 492.58h5.3v5.3h-5.3zM432.75 492.58h5.3v5.3h-5.3zM434.95 492.57h5.3v5.3h-5.3zM437.15 492.57h5.3v5.3h-5.3zM439.35 492.56h5.3v5.3h-5.3zM441.55 492.56h5.3v5.3h-5.3zM443.75 492.56h5.3v5.3h-5.3zM445.95 492.55h5.3v5.3h-5.3zM448.15 492.55h5.3v5.3h-5.3zM450.35 492.54h5.3v5.3h-5.3zM452.55 492.54h5.3v5.3h-5.3zM454.75 492.54h5.3v5.3h-5.3zM456.95 492.53h5.3v5.3h-5.3zM459.15 492.53h5.3v5.3h-5.3zM461.35 492.52h5.3v5.3h-5.3zM463.55 492.52h5.3v5.3h-5.3zM465.75 492.51h5.3v5.3h-5.3zM467.95 492.51h5.3v5.3h-5.3zM470.15 492.51h5.3v5.3h-5.3zM472.35 492.5h5.3v5.3h-5.3zM474.55 492.5h5.3v5.3h-5.3zM476.75 492.49h5.3v5.3h-5.3zM478.95 492.49h5.3v5.3h-5.3zM481.15 492.49h5.3v5.3h-5.3zM483.35 492.48h5.3v5.3h-5.3zM485.55 492.48h5.3v5.3h-5.3zM487.75 492.47h5.3v5.3h-5.3zM489.95 492.47h5.3v5.3h-5.3zM492.15 492.46h5.3v5.3h-5.3zM494.35 492.46h5.3v5.3h-5.3zM496.55 492.46h5.3v5.3h-5.3zM498.75 492.45h5.3v5.3h-5.3zM500.95 492.45h5.3v5.3h-5.3zM503.15 492.44h5.3v5.3h-5.3zM505.35 492.44h5.3v5.3h-5.3zM507.55 492.44h5.3v5.3h-5.3zM509.75 492.43h5.3v5.3h-5.3zM511.95 492.43h5.3v5.3h-5.3zM514.15 492.42h5.3v5.3h-5.3zM516.35 492.42h5.3v5.3h-5.3zM518.55 492.41h5.3v5.3h-5.3zM520.75 492.41h5.3v5.3h-5.3zM522.95 492.41h5.3v5.3h-5.3zM525.15 492.4h5.3v5.3h-5.3zM527.35 492.4h5.3v5.3h-5.3zM529.55 492.39h5.3v5.3h-5.3zM531.75 492.39h5.3v5.3h-5.3zM533.95 492.38h5.3v5.3h-5.3zM536.15 492.38h5.3v5.3h-5.3zM538.35 492.38h5.3v5.3h-5.3zM540.55 492.37h5.3v5.3h-5.3zM542.75 492.37h5.3v5.3h-5.3zM544.95 492.36h5.3v5.3h-5.3zM547.15 492.36h5.3v5.3h-5.3zM549.35 492.36h5.3v5.3h-5.3zM551.55 492.35h5.3v5.3h-5.3z" fill="#a775d8" shape-rendering="crispEdges"/></g><rect x="105.5" y="462.5" width="450" height="358.5" fill="none" stroke="#000" stroke-width="3" /><line x1="107" y1="494.1" x2="113" y2="494.1" stroke="#000" stroke-width="2.5" /><text transform="translate(101.5,501.4) scale(1,1.08)" font-size="26.5" text-anchor="end" fill="#000" >0.0</text><line x1="107" y1="548.75" x2="110" y2="548.75" stroke="#000" stroke-width="2.5" /><line x1="107" y1="603.4" x2="113" y2="603.4" stroke="#000" stroke-width="2.5" /><text transform="translate(101.5,610.7) scale(1,1.08)" font-size="26.5" text-anchor="end" fill="#000" >-0.5</text><line x1="107" y1="658.05" x2="110" y2="658.05" stroke="#000" stroke-width="2.5" /><line x1="107" y1="712.7" x2="113" y2="712.7" stroke="#000" stroke-width="2.5" /><text transform="translate(101.5,720) scale(1,1.08)" font-size="26.5" text-anchor="end" fill="#000" >-1.0</text><line x1="107" y1="767.35" x2="110" y2="767.35" stroke="#000" stroke-width="2.5" /><text transform="translate(101.5,829.3) scale(1,1.08)" font-size="26.5" text-anchor="end" fill="#000" >-1.5</text><line x1="157.8" y1="819.5" x2="157.8" y2="813.5" stroke="#000" stroke-width="2.5" /><text transform="translate(157.8,849.5) scale(1,1.05)" font-size="26.5" text-anchor="middle" fill="#000" >2</text><line x1="210.25" y1="819.5" x2="210.25" y2="816.5" stroke="#000" stroke-width="2.5" /><line x1="262.7" y1="819.5" x2="262.7" y2="813.5" stroke="#000" stroke-width="2.5" /><text transform="translate(262.7,849.5) scale(1,1.05)" font-size="26.5" text-anchor="middle" fill="#000" >3</text><line x1="315.15" y1="819.5" x2="315.15" y2="816.5" stroke="#000" stroke-width="2.5" /><line x1="367.6" y1="819.5" x2="367.6" y2="813.5" stroke="#000" stroke-width="2.5" /><text transform="translate(367.6,849.5) scale(1,1.05)" font-size="26.5" text-anchor="middle" fill="#000" >4</text><line x1="420.05" y1="819.5" x2="420.05" y2="816.5" stroke="#000" stroke-width="2.5" /><line x1="472.5" y1="819.5" x2="472.5" y2="813.5" stroke="#000" stroke-width="2.5" /><text transform="translate(472.5,849.5) scale(1,1.05)" font-size="26.5" text-anchor="middle" fill="#000" >5</text><line x1="524.95" y1="819.5" x2="524.95" y2="816.5" stroke="#000" stroke-width="2.5" /><text x="291" y="872" font-size="28.5" text-anchor="start" fill="#000" >T(K)</text><text x="6" y="457" font-size="48" text-anchor="start" fill="#000" >(c)</text><text transform="translate(50.6,705) rotate(-90)" font-size="26" textLength="128.5" lengthAdjust="spacingAndGlyphs">M (emu/g)</text><text x="269.5" y="789.7" font-size="23"><tspan font-size="21">μ</tspan><tspan font-size="17" dy="6.5">0</tspan><tspan dy="-6.5">H=5 Oe</tspan></text><line x1="413.9" y1="531.2" x2="457.8" y2="531.2" stroke="#474747" stroke-width="1.2" /><rect x="433.6" y="528.6" width="5.2" height="5.2" fill="#474747"/><text x="467.5" y="537.2" font-size="19" fill="#474747">ZFC<tspan font-size="14" dy="6" letter-spacing="0.2">x=0</tspan></text><line x1="413.9" y1="559.2" x2="457.8" y2="559.2" stroke="#111" stroke-width="1.2" /><circle cx="436.2" cy="559.2" r="2.7" fill="#111"/><text x="467.5" y="565.2" font-size="19" fill="#111">FC<tspan font-size="14" dy="6" letter-spacing="0.2">x=0</tspan></text><line x1="413.9" y1="587.1" x2="457.8" y2="587.1" stroke="#ea3a3f" stroke-width="1.2" /><rect x="433.6" y="584.5" width="5.2" height="5.2" fill="#ea3a3f"/><text x="467.5" y="593.1" font-size="19" fill="#ea3a3f">ZFC<tspan font-size="14" dy="6" letter-spacing="0.2">x=0.02</tspan></text><line x1="413.9" y1="615" x2="457.8" y2="615" stroke="#ea3a3f" stroke-width="1.2" /><rect x="433.6" y="612.4" width="5.2" height="5.2" fill="#ea3a3f"/><text x="467.5" y="621" font-size="19" fill="#ea3a3f">FC<tspan font-size="14" dy="6" letter-spacing="0.2">x=0.02</tspan></text><line x1="413.9" y1="643" x2="457.8" y2="643" stroke="#1d64d8" stroke-width="1.2" /><rect x="433.6" y="640.4" width="5.2" height="5.2" fill="#1d64d8"/><text x="467.5" y="649" font-size="19" fill="#1d64d8">ZFC<tspan font-size="14" dy="6" letter-spacing="0.2">x=0.03</tspan></text><line x1="413.9" y1="671" x2="457.8" y2="671" stroke="#1d64d8" stroke-width="1.2" /><rect x="433.6" y="668.4" width="5.2" height="5.2" fill="#1d64d8"/><text x="467.5" y="677" font-size="19" fill="#1d64d8">FC<tspan font-size="14" dy="6" letter-spacing="0.2">x=0.03</tspan></text><line x1="413.9" y1="699" x2="457.8" y2="699" stroke="#2e9f5c" stroke-width="1.2" /><rect x="433.6" y="696.4" width="5.2" height="5.2" fill="#2e9f5c"/><text x="467.5" y="705" font-size="19" fill="#2e9f5c">ZFC<tspan font-size="14" dy="6" letter-spacing="0.2">x=0.03</tspan></text><line x1="413.9" y1="727.1" x2="457.8" y2="727.1" stroke="#2e9f5c" stroke-width="1.2" /><rect x="433.6" y="724.5" width="5.2" height="5.2" fill="#2e9f5c"/><text x="467.5" y="733.1" font-size="19" fill="#2e9f5c">FC<tspan font-size="14" dy="6" letter-spacing="0.2">x=0.05</tspan></text><line x1="413.9" y1="755.5" x2="457.8" y2="755.5" stroke="#a775d8" stroke-width="1.2" /><rect x="433.6" y="752.9" width="5.2" height="5.2" fill="#a775d8"/><text x="467.5" y="761.5" font-size="19" fill="#a775d8">ZFC<tspan font-size="14" dy="6" letter-spacing="0.2">x=0.07</tspan></text><line x1="413.9" y1="783.3" x2="457.8" y2="783.3" stroke="#a775d8" stroke-width="1.2" /><rect x="433.6" y="780.7" width="5.2" height="5.2" fill="#a775d8"/><text x="467.5" y="789.3" font-size="19" fill="#a775d8">FC<tspan font-size="14" dy="6" letter-spacing="0.2">x=0.07</tspan></text><defs>
<linearGradient id="gBlue" x1="0" y1="0" x2="0" y2="1"><stop offset="0" stop-color="#bbd5f4"/><stop offset="1" stop-color="#e2ecfb"/></linearGradient>
<linearGradient id="gOr" gradientUnits="userSpaceOnUse" x1="0" y1="500" x2="0" y2="682"><stop offset="0" stop-color="#e2a82e"/><stop offset="0.45" stop-color="#e8bb6a"/><stop offset="1" stop-color="#f4e0c2"/></linearGradient>
<linearGradient id="gTan" gradientUnits="userSpaceOnUse" x1="0" y1="688" x2="0" y2="790"><stop offset="0" stop-color="#f4e0c3"/><stop offset="1" stop-color="#fcf4ea"/></linearGradient>
<linearGradient id="gGr" gradientUnits="userSpaceOnUse" x1="0" y1="714" x2="0" y2="812"><stop offset="0" stop-color="#1dcf85"/><stop offset="0.3" stop-color="#45d598"/><stop offset="0.6" stop-color="#96e8c4"/><stop offset="1" stop-color="#cbfbe9"/></linearGradient>
<clipPath id="clipDU"><rect x="656.2" y="458" width="447.6" height="224.2"/></clipPath>
<clipPath id="clipDL"><rect x="656.2" y="688" width="447.6" height="123.5"/></clipPath>
</defs><rect x="656.2" y="458" width="447.6" height="224.2" fill="url(#gBlue)"/><rect x="656.2" y="682.2" width="447.6" height="5.8" fill="#eaf0fb"/><rect x="656.2" y="688" width="447.6" height="124" fill="url(#gTan)"/><line x1="648" y1="475.3" x2="663" y2="475.3" stroke="#000" stroke-width="2.5" /><g clip-path="url(#clipDU)"><path d="M655 505.1 L662.64 506.74 L670.29 508.39 L677.93 510.05 L685.58 511.73 L693.22 513.42 L700.86 515.13 L708.51 516.86 L716.15 518.6 L723.8 520.35 L731.44 522.12 L739.08 523.9 L746.73 525.7 L754.37 527.51 L762.02 529.34 L769.66 531.18 L777.31 533.04 L784.95 534.91 L792.59 536.8 L800.24 538.7 L807.88 540.62 L815.53 542.55 L823.17 544.5 L830.81 546.46 L838.46 548.43 L846.1 550.42 L853.75 552.43 L861.39 554.45 L869.03 556.49 L876.68 558.54 L884.32 560.6 L891.97 562.68 L899.61 564.78 L907.25 566.89 L914.9 569.01 L922.54 571.15 L930.19 573.31 L937.83 575.48 L945.47 577.66 L953.12 579.86 L960.76 582.07 L968.41 584.3 L976.05 586.54 L983.69 588.8 L991.34 591.08 L998.98 593.36 L1006.63 595.67 L1014.27 597.98 L1021.92 600.32 L1029.56 602.66 L1037.2 605.03 L1044.85 607.4 L1052.49 609.8 L1060.14 612.2 L1067.78 614.62 L1075.42 617.06 L1083.07 619.51 L1090.71 621.98 L1098.36 624.46 L1106 626.96 L1106 682.2 L655 682.2 Z" fill="url(#gOr)"/><polyline points="655,505.1 662.64,506.74 670.29,508.39 677.93,510.05 685.58,511.73 693.22,513.42 700.86,515.13 708.51,516.86 716.15,518.6 723.8,520.35 731.44,522.12 739.08,523.9 746.73,525.7 754.37,527.51 762.02,529.34 769.66,531.18 777.31,533.04 784.95,534.91 792.59,536.8 800.24,538.7 807.88,540.62 815.53,542.55 823.17,544.5 830.81,546.46 838.46,548.43 846.1,550.42 853.75,552.43 861.39,554.45 869.03,556.49 876.68,558.54 884.32,560.6 891.97,562.68 899.61,564.78 907.25,566.89 914.9,569.01 922.54,571.15 930.19,573.31 937.83,575.48 945.47,577.66 953.12,579.86 960.76,582.07 968.41,584.3 976.05,586.54 983.69,588.8 991.34,591.08 998.98,593.36 1006.63,595.67 1014.27,597.98 1021.92,600.32 1029.56,602.66 1037.2,605.03 1044.85,607.4 1052.49,609.8 1060.14,612.2 1067.78,614.62 1075.42,617.06 1083.07,619.51 1090.71,621.98 1098.36,624.46 1106,626.96" fill="none" stroke="#e8a321" stroke-width="1.2" stroke-linejoin="round" stroke-linecap="round" /><circle cx="656.4" cy="501.62" r="6.3" fill="#fff" stroke="#f07b22" stroke-width="2.2"/><circle cx="784.6" cy="535.46" r="6.3" fill="#fff" stroke="#f07b22" stroke-width="2.2"/><circle cx="848.7" cy="561.78" r="6.3" fill="#fff" stroke="#f07b22" stroke-width="2.2"/><circle cx="976.9" cy="573.06" r="6.3" fill="#fff" stroke="#f07b22" stroke-width="2.2"/><circle cx="1105.1" cy="633.22" r="6.3" fill="#fff" stroke="#f07b22" stroke-width="2.2"/></g><g clip-path="url(#clipDL)"><path d="M655 777.95 L662.64 775.33 L670.29 772.77 L677.93 770.27 L685.58 767.82 L693.22 765.42 L700.86 763.08 L708.51 760.8 L716.15 758.57 L723.8 756.4 L731.44 754.28 L739.08 752.22 L746.73 750.21 L754.37 748.26 L762.02 746.36 L769.66 744.52 L777.31 742.73 L784.95 741 L792.59 739.33 L800.24 737.71 L807.88 736.15 L815.53 734.64 L823.17 733.18 L830.81 731.78 L838.46 730.44 L846.1 729.15 L853.75 727.92 L861.39 726.75 L869.03 725.62 L876.68 724.56 L884.32 723.55 L891.97 722.59 L899.61 721.69 L907.25 720.85 L914.9 720.06 L922.54 719.33 L930.19 718.65 L937.83 718.03 L945.47 717.46 L953.12 716.95 L960.76 716.49 L968.41 716.09 L976.05 715.74 L983.69 715.45 L991.34 715.21 L998.98 715.03 L1006.63 714.91 L1014.27 714.84 L1021.92 714.83 L1029.56 714.87 L1037.2 714.97 L1044.85 715.12 L1052.49 715.33 L1060.14 715.59 L1067.78 715.91 L1075.42 716.28 L1083.07 716.71 L1090.71 717.19 L1098.36 717.73 L1106 718.33 L1106 812 L655 812 Z" fill="url(#gGr)"/><polyline points="655,777.95 662.64,775.33 670.29,772.77 677.93,770.27 685.58,767.82 693.22,765.42 700.86,763.08 708.51,760.8 716.15,758.57 723.8,756.4 731.44,754.28 739.08,752.22 746.73,750.21 754.37,748.26 762.02,746.36 769.66,744.52 777.31,742.73 784.95,741 792.59,739.33 800.24,737.71 807.88,736.15 815.53,734.64 823.17,733.18 830.81,731.78 838.46,730.44 846.1,729.15 853.75,727.92 861.39,726.75 869.03,725.62 876.68,724.56 884.32,723.55 891.97,722.59 899.61,721.69 907.25,720.85 914.9,720.06 922.54,719.33 930.19,718.65 937.83,718.03 945.47,717.46 953.12,716.95 960.76,716.49 968.41,716.09 976.05,715.74 983.69,715.45 991.34,715.21 998.98,715.03 1006.63,714.91 1014.27,714.84 1021.92,714.83 1029.56,714.87 1037.2,714.97 1044.85,715.12 1052.49,715.33 1060.14,715.59 1067.78,715.91 1075.42,716.28 1083.07,716.71 1090.71,717.19 1098.36,717.73 1106,718.33" fill="none" stroke="#1ec984" stroke-width="1.3" stroke-linejoin="round" stroke-linecap="round" /><rect x="651.2" y="775.64" width="10.4" height="10.4" fill="#fff" stroke="#1ec984" stroke-width="2"/><rect x="779.4" y="733.76" width="10.4" height="10.4" fill="#fff" stroke="#1ec984" stroke-width="2"/><rect x="843.5" y="721.92" width="10.4" height="10.4" fill="#fff" stroke="#1ec984" stroke-width="2"/><rect x="971.7" y="718.11" width="10.4" height="10.4" fill="#fff" stroke="#1ec984" stroke-width="2"/><rect x="1099.9" y="709.65" width="10.4" height="10.4" fill="#fff" stroke="#1ec984" stroke-width="2"/></g><path d="M654 456.5 H1105.3 V682.2 M1105.3 688 V813 H654" fill="none" stroke="#000" stroke-width="3"/><path d="M655.1 682.2 V455 M655.1 688 V814.5" fill="none" stroke="#000" stroke-width="2.2"/><path d="M648.5 685.2 L658.5 681.7 M648.5 692 L662.5 685.5" stroke="#000" stroke-width="2.2" fill="none"/><path d="M1098 685.2 L1108 681.7 M1098 692 L1112 685.5" stroke="#000" stroke-width="2.2" fill="none"/><line x1="648" y1="475.3" x2="655" y2="475.3" stroke="#000" stroke-width="2.5" /><text x="646.5" y="483.3" font-size="23" text-anchor="end" fill="#000" >100</text><line x1="648" y1="512.9" x2="655" y2="512.9" stroke="#000" stroke-width="2.5" /><text x="646.5" y="520.9" font-size="23" text-anchor="end" fill="#000" >90</text><line x1="648" y1="550.5" x2="655" y2="550.5" stroke="#000" stroke-width="2.5" /><text x="646.5" y="558.5" font-size="23" text-anchor="end" fill="#000" >80</text><line x1="648" y1="588.1" x2="655" y2="588.1" stroke="#000" stroke-width="2.5" /><text x="646.5" y="596.1" font-size="23" text-anchor="end" fill="#000" >70</text><line x1="648" y1="625.7" x2="655" y2="625.7" stroke="#000" stroke-width="2.5" /><text x="646.5" y="633.7" font-size="23" text-anchor="end" fill="#000" >60</text><line x1="648" y1="663.3" x2="655" y2="663.3" stroke="#000" stroke-width="2.5" /><text x="646.5" y="671.3" font-size="23" text-anchor="end" fill="#000" >50</text><line x1="648" y1="730.5" x2="655" y2="730.5" stroke="#000" stroke-width="2.5" /><text x="646.5" y="738.5" font-size="23" text-anchor="end" fill="#000" >4</text><line x1="648" y1="772.8" x2="655" y2="772.8" stroke="#000" stroke-width="2.5" /><text x="646.5" y="780.8" font-size="23" text-anchor="end" fill="#000" >3</text><line x1="656.4" y1="814" x2="656.4" y2="821" stroke="#000" stroke-width="2.5" /><text x="656.4" y="845" font-size="24" text-anchor="middle" fill="#000" >0.00</text><line x1="720.5" y1="814" x2="720.5" y2="821" stroke="#000" stroke-width="2.5" /><text x="720.5" y="845" font-size="24" text-anchor="middle" fill="#000" >0.01</text><line x1="784.6" y1="814" x2="784.6" y2="821" stroke="#000" stroke-width="2.5" /><text x="784.6" y="845" font-size="24" text-anchor="middle" fill="#000" >0.02</text><line x1="848.7" y1="814" x2="848.7" y2="821" stroke="#000" stroke-width="2.5" /><text x="848.7" y="845" font-size="24" text-anchor="middle" fill="#000" >0.03</text><line x1="912.8" y1="814" x2="912.8" y2="821" stroke="#000" stroke-width="2.5" /><text x="912.8" y="845" font-size="24" text-anchor="middle" fill="#000" >0.04</text><line x1="976.9" y1="814" x2="976.9" y2="821" stroke="#000" stroke-width="2.5" /><text x="976.9" y="845" font-size="24" text-anchor="middle" fill="#000" >0.05</text><line x1="1041" y1="814" x2="1041" y2="821" stroke="#000" stroke-width="2.5" /><text x="1041" y="845" font-size="24" text-anchor="middle" fill="#000" >0.06</text><line x1="1105.1" y1="814" x2="1105.1" y2="821" stroke="#000" stroke-width="2.5" /><text x="1105.1" y="845" font-size="24" text-anchor="middle" fill="#000" >0.07</text><text x="879" y="874" font-size="29" text-anchor="start" fill="#000" >x</text><text transform="translate(601.8,662.5) rotate(-90)" font-size="29">T(K)</text><text x="573" y="457" font-size="48" text-anchor="start" fill="#000" >(d)</text><text x="893.5" y="520.3" font-size="24.5" text-anchor="middle" fill="#000" >Metal</text><text x="887" y="650.5" font-size="24.5" text-anchor="middle" fill="#000" >CDW</text><text x="908.4" y="787.3" font-size="24.2" text-anchor="middle" fill="#000" >Superconductivity</text>
</svg></body></html>
